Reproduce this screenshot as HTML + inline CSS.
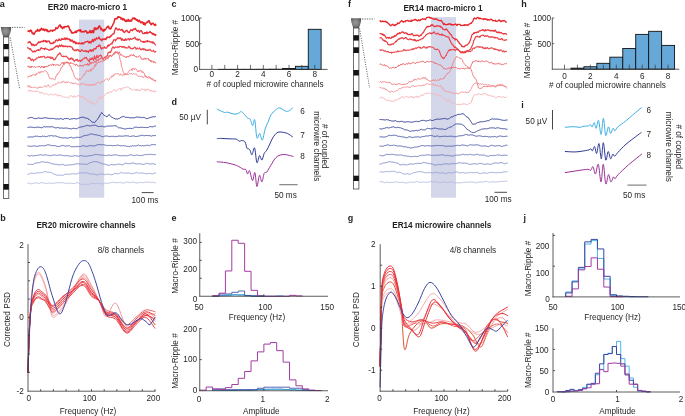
<!DOCTYPE html><html><head><meta charset="utf-8"><style>html,body{margin:0;padding:0;background:#fff;overflow:hidden;}svg{display:block;will-change:transform;font-family:"Liberation Sans", sans-serif;}</style></head><body><svg width="685" height="416" viewBox="0 0 685 416" font-family="Liberation Sans, sans-serif"><g><rect x="0" y="0" width="685" height="416" fill="#ffffff"/><defs><radialGradient id="cg1" cx="0.45" cy="0.45" r="0.6"><stop offset="0" stop-color="#9a9a9a"/><stop offset="0.55" stop-color="#7e7e7e"/><stop offset="1" stop-color="#505050"/></radialGradient></defs><path d="M1.0,27.0 L11.2,27.0 C11.2,32.5 9.100000000000001,35.5 8.8,37.0 L3.4,37.0 C3.1,35.5 1.0,32.5 1.0,27.0 Z" fill="url(#cg1)"/><rect x="3.4" y="37.0" width="5.4" height="161.5" fill="#ffffff" stroke="#4a4a4a" stroke-width="0.8"/><rect x="3.4" y="44" width="5.4" height="5.200000000000003" fill="#151515" stroke="none" stroke-width="0.8"/><rect x="3.4" y="56.5" width="5.4" height="5.5" fill="#151515" stroke="none" stroke-width="0.8"/><rect x="3.4" y="77.8" width="5.4" height="5.900000000000006" fill="#151515" stroke="none" stroke-width="0.8"/><rect x="3.4" y="99.6" width="5.4" height="5.6000000000000085" fill="#151515" stroke="none" stroke-width="0.8"/><rect x="3.4" y="120.4" width="5.4" height="5.5" fill="#151515" stroke="none" stroke-width="0.8"/><rect x="3.4" y="142" width="5.4" height="5.400000000000006" fill="#151515" stroke="none" stroke-width="0.8"/><rect x="3.4" y="163" width="5.4" height="5.599999999999994" fill="#151515" stroke="none" stroke-width="0.8"/><rect x="3.4" y="184" width="5.4" height="5.699999999999989" fill="#151515" stroke="none" stroke-width="0.8"/><line x1="12" y1="27.4" x2="24.5" y2="27.4" stroke="#3a3a3a" stroke-width="0.75" stroke-dasharray="1.3,1.1"/><line x1="10.2" y1="37.5" x2="19.6" y2="88.5" stroke="#3a3a3a" stroke-width="0.75" stroke-dasharray="1.1,1.3"/><defs><radialGradient id="cg2" cx="0.45" cy="0.45" r="0.6"><stop offset="0" stop-color="#9a9a9a"/><stop offset="0.55" stop-color="#7e7e7e"/><stop offset="1" stop-color="#505050"/></radialGradient></defs><path d="M351.0,18.2 L361.2,18.2 C361.2,23.59 359.2,26.5 358.9,28.0 L353.4,28.0 C353.09999999999997,26.5 351.0,23.59 351.0,18.2 Z" fill="url(#cg2)"/><rect x="353.4" y="28.0" width="5.5" height="161.0" fill="#ffffff" stroke="#4a4a4a" stroke-width="0.8"/><rect x="353.4" y="35.2" width="5.5" height="5.399999999999999" fill="#151515" stroke="none" stroke-width="0.8"/><rect x="353.4" y="47.3" width="5.5" height="5.700000000000003" fill="#151515" stroke="none" stroke-width="0.8"/><rect x="353.4" y="70" width="5.5" height="5.5" fill="#151515" stroke="none" stroke-width="0.8"/><rect x="353.4" y="91" width="5.5" height="5.799999999999997" fill="#151515" stroke="none" stroke-width="0.8"/><rect x="353.4" y="111.5" width="5.5" height="5.5" fill="#151515" stroke="none" stroke-width="0.8"/><rect x="353.4" y="133.3" width="5.5" height="5.299999999999983" fill="#151515" stroke="none" stroke-width="0.8"/><rect x="353.4" y="154.5" width="5.5" height="5.099999999999994" fill="#151515" stroke="none" stroke-width="0.8"/><rect x="353.4" y="175.7" width="5.5" height="5.300000000000011" fill="#151515" stroke="none" stroke-width="0.8"/><line x1="362" y1="19" x2="374.5" y2="19" stroke="#3a3a3a" stroke-width="0.75" stroke-dasharray="1.3,1.1"/><line x1="359.6" y1="28.5" x2="369.6" y2="88" stroke="#3a3a3a" stroke-width="0.75" stroke-dasharray="1.1,1.3"/><rect x="79.0" y="19.6" width="25.2" height="178.1" fill="#d4d6ea" stroke="none" stroke-width="0.8"/><polyline points="27.50,91.44 28.00,91.02 28.50,90.68 29.00,90.30 29.50,89.88 30.00,91.53 30.50,91.25 31.00,90.20 31.50,90.85 32.00,91.36 32.50,92.05 33.00,91.06 33.50,91.10 34.00,90.86 34.50,91.56 35.00,92.23 35.50,91.86 36.00,90.58 36.50,90.99 37.00,90.69 37.50,91.12 38.00,92.17 38.50,91.87 39.00,92.18 39.50,92.19 40.00,92.50 40.50,93.36 41.00,92.20 41.50,92.85 42.00,92.65 42.50,92.59 43.00,92.77 43.50,93.91 44.00,94.28 44.50,94.13 45.00,94.43 45.50,94.18 46.00,93.35 46.50,93.22 47.00,94.04 47.50,94.37 48.00,94.83 48.50,95.09 49.00,94.78 49.50,94.92 50.00,94.18 50.50,94.04 51.00,94.33 51.50,93.94 52.00,94.74 52.50,95.25 53.00,94.74 53.50,94.35 54.00,94.30 54.50,94.64 55.00,94.48 55.50,94.25 56.00,94.06 56.50,94.89 57.00,95.13 57.50,95.90 58.00,96.24 58.50,94.47 59.00,95.05 59.50,95.86 60.00,95.61 60.50,95.83 61.00,95.27 61.50,95.63 62.00,96.81 62.50,96.71 63.00,97.14 63.50,97.25 64.00,97.21 64.50,97.05 65.00,97.18 65.50,97.31 66.00,97.63 66.50,96.89 67.00,96.98 67.50,97.19 68.00,97.86 68.50,98.26 69.00,97.50 69.50,96.70 70.00,95.76 70.50,95.71 71.00,95.66 71.50,95.95 72.00,95.81 72.50,96.65 73.00,96.54 73.50,97.72 74.00,96.10 74.50,95.57 75.00,97.02 75.50,97.23 76.00,96.41 76.50,96.35 77.00,95.90 77.50,95.87 78.00,95.51 78.50,94.96 79.00,96.58 79.50,96.62 80.00,96.76 80.50,95.57 81.00,96.69 81.50,95.97 82.00,97.42 82.50,96.45 83.00,97.45 83.50,96.73 84.00,98.38 84.50,98.70 85.00,98.09 85.50,99.47 86.00,99.91 86.50,99.32 87.00,101.05 87.50,101.48 88.00,100.52 88.50,101.74 89.00,101.49 89.50,100.68 90.00,101.37 90.50,101.49 91.00,103.74 91.50,103.88 92.00,102.45 92.50,102.59 93.00,102.66 93.50,103.62 94.00,103.72 94.50,103.74 95.00,104.39 95.50,104.24 96.00,103.37 96.50,102.87 97.00,101.23 97.50,101.01 98.00,99.43 98.50,99.26 99.00,97.02 99.50,97.01 100.00,96.96 100.50,97.40 101.00,97.96 101.50,98.61 102.00,96.60 102.50,96.97 103.00,95.77 103.50,96.28 104.00,95.71 104.50,95.69 105.00,95.37 105.50,94.44 106.00,93.29 106.50,93.85 107.00,93.20 107.50,92.55 108.00,92.05 108.50,93.55 109.00,92.81 109.50,92.08 110.00,92.09 110.50,91.80 111.00,91.37 111.50,92.39 112.00,91.57 112.50,90.70 113.00,90.27 113.50,89.88 114.00,90.23 114.50,90.44 115.00,89.58 115.50,90.27 116.00,91.37 116.50,91.13 117.00,90.50 117.50,89.93 118.00,89.44 118.50,88.83 119.00,88.96 119.50,88.58 120.00,88.36 120.50,88.49 121.00,90.20 121.50,90.23 122.00,88.17 122.50,88.27 123.00,87.61 123.50,87.86 124.00,88.35 124.50,87.63 125.00,87.88 125.50,87.26 126.00,87.69 126.50,86.81 127.00,86.84 127.50,86.92 128.00,86.65 128.50,87.21 129.00,88.16 129.50,87.95 130.00,89.10 130.50,88.14 131.00,89.26 131.50,89.74 132.00,90.11 132.50,89.69 133.00,89.00 133.50,89.87 134.00,90.14 134.50,89.96 135.00,90.51 135.50,89.53 136.00,89.29 136.50,89.51 137.00,90.92 137.50,89.19 138.00,89.35 138.50,90.41 139.00,90.82 139.50,89.94 140.00,89.95 140.50,90.66 141.00,89.36 141.50,88.64 142.00,88.79 142.50,89.71 143.00,89.13 143.50,89.70 144.00,88.92 144.50,90.44 145.00,90.93 145.50,90.78 146.00,89.06 146.50,90.29 147.00,90.22 147.50,88.89 148.00,89.25 148.50,89.05 149.00,89.76 149.50,90.96 150.00,89.97 150.50,91.08 151.00,91.54 151.50,90.09 152.00,90.10 152.50,91.42 153.00,91.81 153.50,90.94 154.00,92.17 154.50,91.96 155.00,90.66 155.50,91.88 156.00,90.87" fill="none" stroke="#f7b7b9" stroke-width="0.95" stroke-linejoin="round"/><polyline points="27.50,85.29 28.00,86.95 28.50,86.94 29.00,85.44 29.50,86.90 30.00,87.34 30.50,86.38 31.00,88.03 31.50,87.15 32.00,87.20 32.50,87.55 33.00,87.59 33.50,87.68 34.00,86.80 34.50,87.27 35.00,86.89 35.50,87.39 36.00,88.13 36.50,87.50 37.00,87.94 37.50,88.82 38.00,87.46 38.50,87.59 39.00,86.68 39.50,87.92 40.00,86.82 40.50,86.84 41.00,87.99 41.50,87.48 42.00,87.50 42.50,87.46 43.00,87.07 43.50,86.76 44.00,86.11 44.50,85.99 45.00,86.11 45.50,86.18 46.00,86.23 46.50,87.21 47.00,85.73 47.50,85.10 48.00,85.13 48.50,84.81 49.00,86.27 49.50,86.93 50.00,86.86 50.50,87.37 51.00,86.63 51.50,86.17 52.00,85.70 52.50,85.85 53.00,84.71 53.50,84.87 54.00,84.45 54.50,84.86 55.00,85.26 55.50,84.78 56.00,83.48 56.50,83.97 57.00,84.04 57.50,83.38 58.00,82.09 58.50,81.79 59.00,82.56 59.50,82.97 60.00,82.50 60.50,82.79 61.00,82.31 61.50,82.61 62.00,81.27 62.50,82.26 63.00,82.27 63.50,81.13 64.00,81.41 64.50,81.82 65.00,83.06 65.50,83.00 66.00,81.78 66.50,82.82 67.00,81.95 67.50,82.86 68.00,81.80 68.50,81.41 69.00,82.04 69.50,82.64 70.00,82.89 70.50,83.29 71.00,82.53 71.50,82.75 72.00,82.29 72.50,84.15 73.00,83.47 73.50,83.07 74.00,82.89 74.50,83.86 75.00,82.84 75.50,82.97 76.00,83.97 76.50,83.77 77.00,84.09 77.50,84.49 78.00,83.63 78.50,84.58 79.00,84.98 79.50,85.18 80.00,84.61 80.50,84.88 81.00,83.26 81.50,83.16 82.00,83.83 82.50,83.91 83.00,84.17 83.50,84.05 84.00,83.54 84.50,84.23 85.00,84.21 85.50,85.18 86.00,84.40 86.50,85.32 87.00,84.93 87.50,84.37 88.00,84.81 88.50,85.87 89.00,85.11 89.50,84.05 90.00,85.17 90.50,84.46 91.00,86.01 91.50,85.10 92.00,84.09 92.50,84.77 93.00,84.12 93.50,85.89 94.00,84.29 94.50,84.31 95.00,84.74 95.50,84.86 96.00,83.44 96.50,83.64 97.00,82.50 97.50,82.34 98.00,82.84 98.50,82.19 99.00,83.02 99.50,82.89 100.00,83.22 100.50,83.71 101.00,82.58 101.50,81.28 102.00,82.00 102.50,80.87 103.00,81.56 103.50,81.37 104.00,80.91 104.50,80.99 105.00,79.51 105.50,79.53 106.00,78.96 106.50,78.73 107.00,78.45 107.50,78.65 108.00,80.05 108.50,80.50 109.00,79.62 109.50,79.45 110.00,77.39 110.50,77.23 111.00,77.50 111.50,77.53 112.00,75.49 112.50,76.86 113.00,76.80 113.50,74.73 114.00,74.73 114.50,75.39 115.00,73.94 115.50,73.05 116.00,73.60 116.50,73.74 117.00,74.14 117.50,73.24 118.00,73.88 118.50,73.50 119.00,75.07 119.50,75.30 120.00,75.45 120.50,73.84 121.00,73.77 121.50,75.19 122.00,74.86 122.50,75.73 123.00,75.54 123.50,74.26 124.00,74.16 124.50,75.26 125.00,74.39 125.50,74.46 126.00,74.94 126.50,73.97 127.00,74.05 127.50,74.95 128.00,74.13 128.50,74.54 129.00,74.44 129.50,73.51 130.00,73.04 130.50,74.13 131.00,74.02 131.50,73.63 132.00,73.61 132.50,74.68 133.00,74.05 133.50,73.42 134.00,74.01 134.50,74.06 135.00,74.22 135.50,73.92 136.00,74.37 136.50,73.73 137.00,75.18 137.50,76.07 138.00,76.06 138.50,76.38 139.00,76.78 139.50,75.92 140.00,75.77 140.50,76.58 141.00,75.87 141.50,76.16 142.00,76.96 142.50,76.00 143.00,77.76 143.50,77.82 144.00,76.84 144.50,76.81 145.00,76.24 145.50,76.51 146.00,76.05 146.50,76.80 147.00,76.89 147.50,77.57 148.00,78.31 148.50,78.83 149.00,77.25 149.50,77.02 150.00,77.90 150.50,78.72 151.00,78.28 151.50,78.44 152.00,79.53 152.50,78.72 153.00,78.51 153.50,79.80 154.00,80.45 154.50,79.87 155.00,81.22 155.50,81.53 156.00,82.20" fill="none" stroke="#f4999c" stroke-width="0.95" stroke-linejoin="round"/><polyline points="27.50,77.18 28.00,77.43 28.50,76.06 29.00,76.74 29.50,75.95 30.00,75.47 30.50,75.73 31.00,76.47 31.50,75.17 32.00,75.80 32.50,75.05 33.00,74.40 33.50,74.73 34.00,74.62 34.50,74.69 35.00,75.43 35.50,75.40 36.00,73.66 36.50,74.55 37.00,73.50 37.50,73.70 38.00,73.20 38.50,72.42 39.00,71.73 39.50,73.04 40.00,73.38 40.50,72.57 41.00,71.22 41.50,72.18 42.00,71.90 42.50,71.81 43.00,71.82 43.50,71.74 44.00,71.26 44.50,70.55 45.00,70.80 45.50,70.81 46.00,71.44 46.50,71.57 47.00,72.51 47.50,72.73 48.00,73.81 48.50,75.74 49.00,76.71 49.50,78.10 50.00,78.62 50.50,78.10 51.00,78.95 51.50,78.95 52.00,78.87 52.50,78.51 53.00,78.41 53.50,79.13 54.00,79.78 54.50,79.84 55.00,79.67 55.50,78.29 56.00,76.20 56.50,75.43 57.00,74.22 57.50,74.92 58.00,73.21 58.50,73.14 59.00,71.95 59.50,71.40 60.00,71.16 60.50,69.96 61.00,67.78 61.50,67.80 62.00,66.51 62.50,66.95 63.00,65.04 63.50,64.24 64.00,65.08 64.50,63.74 65.00,62.44 65.50,63.31 66.00,63.37 66.50,62.34 67.00,61.52 67.50,63.05 68.00,62.65 68.50,62.98 69.00,63.26 69.50,65.68 70.00,65.37 70.50,65.75 71.00,67.03 71.50,68.73 72.00,70.57 72.50,70.35 73.00,72.34 73.50,73.13 74.00,75.58 74.50,76.17 75.00,77.46 75.50,78.61 76.00,78.66 76.50,78.93 77.00,78.35 77.50,78.81 78.00,80.07 78.50,80.39 79.00,79.95 79.50,78.57 80.00,79.43 80.50,79.37 81.00,78.96 81.50,78.30 82.00,77.68 82.50,76.62 83.00,76.13 83.50,75.25 84.00,75.48 84.50,74.21 85.00,74.24 85.50,72.35 86.00,71.50 86.50,70.66 87.00,70.58 87.50,71.05 88.00,71.13 88.50,71.88 89.00,70.33 89.50,70.53 90.00,69.55 90.50,69.46 91.00,71.40 91.50,70.52 92.00,68.11 92.50,68.41 93.00,68.62 93.50,68.90 94.00,67.37 94.50,65.53 95.00,64.37 95.50,66.46 96.00,65.08 96.50,63.65 97.00,62.28 97.50,63.47 98.00,62.86 98.50,61.87 99.00,61.23 99.50,62.40 100.00,62.31 100.50,62.18 101.00,60.67 101.50,61.16 102.00,61.80 102.50,61.85 103.00,61.10 103.50,59.92 104.00,59.90 104.50,60.51 105.00,59.90 105.50,58.71 106.00,57.55 106.50,57.56 107.00,57.26 107.50,56.80 108.00,57.35 108.50,56.66 109.00,55.42 109.50,56.38 110.00,56.39 110.50,55.14 111.00,55.73 111.50,56.63 112.00,55.90 112.50,55.54 113.00,54.67 113.50,53.92 114.00,54.40 114.50,52.53 115.00,52.23 115.50,51.22 116.00,51.88 116.50,52.38 117.00,52.69 117.50,53.67 118.00,52.97 118.50,53.58 119.00,55.03 119.50,56.50 120.00,59.44 120.50,60.22 121.00,62.81 121.50,66.27 122.00,67.51 122.50,69.53 123.00,71.21 123.50,72.37 124.00,73.30 124.50,74.90 125.00,73.55 125.50,73.40 126.00,74.80 126.50,74.68 127.00,73.78 127.50,73.35 128.00,72.75 128.50,71.64 129.00,71.26 129.50,70.55 130.00,70.55 130.50,69.79 131.00,70.04 131.50,68.86 132.00,70.50 132.50,68.61 133.00,69.08 133.50,68.78 134.00,68.10 134.50,69.69 135.00,68.98 135.50,68.60 136.00,69.18 136.50,69.35 137.00,70.42 137.50,71.73 138.00,71.96 138.50,70.53 139.00,71.28 139.50,71.09 140.00,71.47 140.50,70.40 141.00,70.24 141.50,70.67 142.00,72.66 142.50,71.56 143.00,71.74 143.50,73.04 144.00,72.92 144.50,73.71 145.00,76.05 145.50,75.45 146.00,77.07 146.50,77.85 147.00,77.34 147.50,77.21 148.00,76.54 148.50,76.50 149.00,76.91 149.50,77.20 150.00,77.49 150.50,77.60 151.00,79.14 151.50,78.90 152.00,79.02 152.50,79.44 153.00,80.38 153.50,80.14 154.00,80.50 154.50,80.88 155.00,80.14 155.50,80.93 156.00,79.86" fill="none" stroke="#f28286" stroke-width="0.95" stroke-linejoin="round"/><polyline points="27.50,66.89 28.00,65.93 28.50,66.13 29.00,67.15 29.50,67.71 30.00,66.33 30.50,66.46 31.00,67.88 31.50,66.34 32.00,67.01 32.50,66.29 33.00,66.77 33.50,67.34 34.00,66.98 34.50,66.70 35.00,66.65 35.50,67.31 36.00,67.42 36.50,66.92 37.00,66.89 37.50,67.00 38.00,66.46 38.50,66.28 39.00,67.13 39.50,66.34 40.00,67.21 40.50,67.66 41.00,67.63 41.50,66.31 42.00,66.35 42.50,67.39 43.00,66.47 43.50,67.78 44.00,66.48 44.50,67.63 45.00,66.09 45.50,66.93 46.00,67.05 46.50,66.24 47.00,66.05 47.50,66.47 48.00,66.68 48.50,65.12 49.00,65.68 49.50,64.84 50.00,65.39 50.50,64.89 51.00,64.68 51.50,65.42 52.00,64.30 52.50,64.21 53.00,63.89 53.50,65.52 54.00,64.63 54.50,64.13 55.00,65.12 55.50,65.36 56.00,65.10 56.50,64.81 57.00,64.72 57.50,65.13 58.00,64.43 58.50,65.46 59.00,65.26 59.50,65.40 60.00,65.21 60.50,64.73 61.00,63.67 61.50,63.25 62.00,63.47 62.50,63.17 63.00,62.07 63.50,63.80 64.00,62.65 64.50,63.01 65.00,62.87 65.50,61.93 66.00,62.59 66.50,62.58 67.00,62.98 67.50,62.68 68.00,62.13 68.50,62.72 69.00,63.73 69.50,63.32 70.00,63.75 70.50,62.19 71.00,63.48 71.50,62.91 72.00,63.01 72.50,63.70 73.00,63.80 73.50,63.86 74.00,64.25 74.50,64.39 75.00,64.42 75.50,65.53 76.00,64.29 76.50,64.49 77.00,64.47 77.50,65.68 78.00,65.57 78.50,66.33 79.00,65.88 79.50,65.63 80.00,65.99 80.50,64.97 81.00,66.28 81.50,65.70 82.00,65.23 82.50,65.48 83.00,66.32 83.50,65.48 84.00,65.04 84.50,64.45 85.00,64.51 85.50,65.16 86.00,64.83 86.50,64.16 87.00,65.30 87.50,63.54 88.00,63.69 88.50,65.07 89.00,65.61 89.50,63.81 90.00,61.87 90.50,63.29 91.00,64.15 91.50,63.05 92.00,62.25 92.50,63.04 93.00,62.57 93.50,63.16 94.00,61.85 94.50,61.61 95.00,61.00 95.50,62.67 96.00,62.51 96.50,59.73 97.00,59.64 97.50,59.55 98.00,61.10 98.50,59.84 99.00,58.54 99.50,59.20 100.00,59.55 100.50,58.02 101.00,57.86 101.50,58.51 102.00,58.81 102.50,59.31 103.00,59.48 103.50,60.66 104.00,60.20 104.50,60.69 105.00,60.06 105.50,59.15 106.00,59.59 106.50,58.63 107.00,59.02 107.50,57.72 108.00,58.56 108.50,56.78 109.00,57.14 109.50,55.41 110.00,54.95 110.50,54.92 111.00,56.08 111.50,56.25 112.00,56.04 112.50,55.49 113.00,54.24 113.50,53.85 114.00,52.93 114.50,54.21 115.00,52.42 115.50,53.13 116.00,51.66 116.50,51.98 117.00,52.69 117.50,51.97 118.00,51.66 118.50,53.38 119.00,52.54 119.50,52.11 120.00,53.85 120.50,55.18 121.00,54.98 121.50,54.38 122.00,55.43 122.50,56.20 123.00,55.65 123.50,55.92 124.00,56.59 124.50,56.51 125.00,56.91 125.50,57.34 126.00,56.69 126.50,57.67 127.00,56.11 127.50,56.61 128.00,56.83 128.50,57.13 129.00,55.99 129.50,55.55 130.00,56.30 130.50,55.51 131.00,54.54 131.50,55.20 132.00,54.90 132.50,55.57 133.00,55.92 133.50,54.36 134.00,54.71 134.50,56.08 135.00,56.31 135.50,56.53 136.00,55.98 136.50,57.20 137.00,57.24 137.50,57.18 138.00,56.59 138.50,56.74 139.00,55.86 139.50,55.78 140.00,56.09 140.50,56.61 141.00,57.98 141.50,59.32 142.00,58.89 142.50,59.26 143.00,59.17 143.50,59.46 144.00,58.09 144.50,58.35 145.00,59.34 145.50,58.41 146.00,59.18 146.50,58.85 147.00,58.39 147.50,58.52 148.00,58.98 148.50,58.55 149.00,60.48 149.50,60.01 150.00,60.05 150.50,61.51 151.00,60.35 151.50,61.87 152.00,61.54 152.50,60.80 153.00,61.40 153.50,62.84 154.00,61.37 154.50,61.94 155.00,62.11 155.50,63.20 156.00,62.64" fill="none" stroke="#ef666b" stroke-width="1.0" stroke-linejoin="round"/><polyline points="27.50,58.35 28.00,58.38 28.50,57.42 29.00,57.22 29.50,58.55 30.00,58.08 30.50,58.81 31.00,60.18 31.50,60.53 32.00,59.22 32.50,59.13 33.00,59.60 33.50,61.09 34.00,59.81 34.50,60.03 35.00,59.61 35.50,59.19 36.00,59.39 36.50,58.13 37.00,57.83 37.50,57.99 38.00,57.69 38.50,56.87 39.00,57.46 39.50,57.14 40.00,57.64 40.50,56.50 41.00,56.46 41.50,56.74 42.00,57.42 42.50,56.83 43.00,56.52 43.50,56.17 44.00,56.35 44.50,56.38 45.00,58.02 45.50,58.05 46.00,58.04 46.50,57.27 47.00,57.54 47.50,56.84 48.00,57.26 48.50,56.81 49.00,57.44 49.50,57.28 50.00,56.94 50.50,58.51 51.00,57.02 51.50,58.26 52.00,58.32 52.50,57.28 53.00,58.19 53.50,59.62 54.00,59.99 54.50,59.24 55.00,59.47 55.50,59.04 56.00,57.50 56.50,57.02 57.00,56.25 57.50,55.02 58.00,55.14 58.50,54.02 59.00,54.28 59.50,52.90 60.00,53.63 60.50,53.25 61.00,54.86 61.50,56.08 62.00,56.08 62.50,56.49 63.00,56.82 63.50,56.09 64.00,56.30 64.50,56.65 65.00,56.73 65.50,56.13 66.00,56.32 66.50,56.28 67.00,57.10 67.50,57.92 68.00,57.78 68.50,58.82 69.00,59.49 69.50,58.94 70.00,59.59 70.50,58.13 71.00,59.10 71.50,57.85 72.00,58.29 72.50,59.64 73.00,58.64 73.50,60.00 74.00,60.94 74.50,61.28 75.00,60.72 75.50,59.84 76.00,59.65 76.50,60.29 77.00,59.38 77.50,59.36 78.00,61.29 78.50,61.20 79.00,60.29 79.50,60.68 80.00,60.38 80.50,61.41 81.00,60.20 81.50,60.73 82.00,60.63 82.50,59.49 83.00,58.86 83.50,58.93 84.00,58.29 84.50,58.22 85.00,57.43 85.50,58.19 86.00,57.67 86.50,57.43 87.00,59.10 87.50,59.71 88.00,59.79 88.50,60.43 89.00,61.55 89.50,61.06 90.00,58.35 90.50,59.42 91.00,59.43 91.50,59.52 92.00,57.92 92.50,57.85 93.00,59.37 93.50,60.36 94.00,57.98 94.50,55.93 95.00,58.21 95.50,59.26 96.00,58.68 96.50,56.37 97.00,55.38 97.50,57.56 98.00,57.19 98.50,56.89 99.00,55.81 99.50,55.57 100.00,55.99 100.50,55.10 101.00,55.28 101.50,56.27 102.00,57.68 102.50,58.43 103.00,58.77 103.50,58.53 104.00,58.16 104.50,57.22 105.00,57.61 105.50,57.15 106.00,56.29 106.50,56.08 107.00,56.02 107.50,55.37 108.00,52.99 108.50,52.46 109.00,52.59 109.50,52.48 110.00,51.57 110.50,52.52 111.00,51.04 111.50,50.56 112.00,48.15 112.50,47.58 113.00,46.68 113.50,47.99 114.00,47.48 114.50,48.19 115.00,47.59 115.50,47.02 116.00,47.14 116.50,47.33 117.00,47.04 117.50,46.74 118.00,47.61 118.50,46.81 119.00,46.74 119.50,47.09 120.00,46.21 120.50,46.49 121.00,46.45 121.50,46.62 122.00,47.49 122.50,46.52 123.00,46.98 123.50,46.40 124.00,47.40 124.50,46.78 125.00,48.09 125.50,47.38 126.00,47.74 126.50,47.58 127.00,48.15 127.50,47.93 128.00,47.68 128.50,46.32 129.00,46.32 129.50,47.64 130.00,47.29 130.50,48.59 131.00,48.28 131.50,48.73 132.00,48.65 132.50,48.99 133.00,48.28 133.50,48.63 134.00,47.61 134.50,47.23 135.00,47.06 135.50,47.60 136.00,49.28 136.50,49.28 137.00,48.14 137.50,47.96 138.00,48.76 138.50,48.98 139.00,48.59 139.50,47.84 140.00,48.26 140.50,49.66 141.00,49.63 141.50,49.84 142.00,48.74 142.50,49.35 143.00,48.46 143.50,48.58 144.00,50.05 144.50,48.95 145.00,49.17 145.50,49.24 146.00,50.69 146.50,50.52 147.00,50.19 147.50,50.51 148.00,49.63 148.50,50.36 149.00,50.24 149.50,49.41 150.00,49.37 150.50,50.20 151.00,50.34 151.50,51.18 152.00,51.08 152.50,51.25 153.00,51.00 153.50,50.33 154.00,51.33 154.50,52.14 155.00,51.74 155.50,51.98 156.00,51.09" fill="none" stroke="#ec4a51" stroke-width="1.15" stroke-linejoin="round"/><polyline points="27.50,47.05 28.00,48.15 28.50,48.35 29.00,48.25 29.50,49.05 30.00,49.39 30.50,48.68 31.00,49.86 31.50,50.53 32.00,50.76 32.50,51.86 33.00,52.03 33.50,51.51 34.00,51.16 34.50,50.80 35.00,51.93 35.50,51.58 36.00,51.10 36.50,50.49 37.00,50.40 37.50,49.79 38.00,50.33 38.50,49.58 39.00,50.31 39.50,50.20 40.00,49.92 40.50,48.63 41.00,47.78 41.50,47.90 42.00,48.54 42.50,48.31 43.00,48.89 43.50,48.49 44.00,48.48 44.50,49.59 45.00,48.27 45.50,48.16 46.00,48.94 46.50,49.23 47.00,49.00 47.50,49.38 48.00,49.34 48.50,49.87 49.00,50.39 49.50,50.24 50.00,49.72 50.50,49.15 51.00,49.91 51.50,48.90 52.00,49.04 52.50,49.47 53.00,48.99 53.50,48.04 54.00,48.22 54.50,47.47 55.00,47.51 55.50,46.50 56.00,45.90 56.50,46.62 57.00,45.92 57.50,45.72 58.00,46.93 58.50,47.18 59.00,45.59 59.50,45.02 60.00,46.36 60.50,46.45 61.00,45.35 61.50,44.91 62.00,45.77 62.50,46.57 63.00,45.48 63.50,46.08 64.00,46.82 64.50,46.13 65.00,46.42 65.50,45.90 66.00,46.60 66.50,46.36 67.00,46.20 67.50,46.94 68.00,46.60 68.50,46.40 69.00,46.26 69.50,46.57 70.00,46.24 70.50,47.03 71.00,46.76 71.50,46.83 72.00,47.30 72.50,48.18 73.00,49.72 73.50,49.19 74.00,49.82 74.50,50.63 75.00,50.70 75.50,49.89 76.00,50.57 76.50,50.37 77.00,49.64 77.50,49.38 78.00,49.57 78.50,50.87 79.00,50.22 79.50,51.01 80.00,51.41 80.50,51.44 81.00,50.66 81.50,49.75 82.00,50.26 82.50,50.24 83.00,51.03 83.50,51.10 84.00,51.40 84.50,50.89 85.00,51.33 85.50,50.86 86.00,50.67 86.50,51.74 87.00,50.92 87.50,51.57 88.00,51.56 88.50,52.34 89.00,50.88 89.50,50.01 90.00,50.73 90.50,49.83 91.00,51.26 91.50,51.32 92.00,49.67 92.50,49.91 93.00,51.11 93.50,50.36 94.00,48.52 94.50,48.69 95.00,48.43 95.50,49.15 96.00,48.62 96.50,46.68 97.00,46.68 97.50,46.26 98.00,46.64 98.50,46.48 99.00,44.86 99.50,45.96 100.00,45.21 100.50,47.20 101.00,48.13 101.50,49.22 102.00,47.64 102.50,48.25 103.00,48.21 103.50,47.99 104.00,47.44 104.50,46.81 105.00,48.01 105.50,48.18 106.00,47.82 106.50,48.17 107.00,47.14 107.50,45.66 108.00,46.28 108.50,44.79 109.00,45.61 109.50,45.38 110.00,44.46 110.50,44.17 111.00,43.67 111.50,43.30 112.00,44.18 112.50,41.99 113.00,42.21 113.50,40.07 114.00,39.74 114.50,39.81 115.00,39.71 115.50,41.04 116.00,39.63 116.50,39.60 117.00,38.60 117.50,37.84 118.00,38.64 118.50,37.90 119.00,38.06 119.50,38.61 120.00,37.68 120.50,37.74 121.00,39.28 121.50,40.31 122.00,38.55 122.50,39.18 123.00,40.34 123.50,40.17 124.00,40.48 124.50,39.64 125.00,40.49 125.50,38.79 126.00,39.37 126.50,40.13 127.00,39.16 127.50,38.96 128.00,38.82 128.50,38.61 129.00,39.48 129.50,40.00 130.00,38.63 130.50,38.60 131.00,39.46 131.50,39.25 132.00,39.07 132.50,38.49 133.00,38.67 133.50,38.48 134.00,38.07 134.50,37.46 135.00,37.16 135.50,38.92 136.00,39.42 136.50,39.77 137.00,38.73 137.50,39.73 138.00,40.48 138.50,39.35 139.00,39.05 139.50,39.52 140.00,39.79 140.50,40.83 141.00,41.33 141.50,41.44 142.00,41.25 142.50,41.90 143.00,42.14 143.50,41.30 144.00,42.38 144.50,42.31 145.00,41.40 145.50,41.92 146.00,41.05 146.50,41.25 147.00,41.99 147.50,40.42 148.00,41.33 148.50,41.45 149.00,41.40 149.50,41.19 150.00,42.25 150.50,42.10 151.00,41.62 151.50,42.15 152.00,42.80 152.50,41.74 153.00,43.19 153.50,42.22 154.00,43.16 154.50,43.37 155.00,44.61 155.50,44.97 156.00,44.68" fill="none" stroke="#ea3c44" stroke-width="1.2" stroke-linejoin="round"/><polyline points="27.50,42.85 28.00,42.94 28.50,42.05 29.00,42.39 29.50,41.70 30.00,41.91 30.50,42.50 31.00,43.90 31.50,43.62 32.00,45.56 32.50,44.33 33.00,44.57 33.50,44.47 34.00,45.82 34.50,45.15 35.00,45.22 35.50,44.85 36.00,45.30 36.50,44.66 37.00,43.81 37.50,43.66 38.00,42.85 38.50,41.81 39.00,42.66 39.50,42.19 40.00,41.95 40.50,42.34 41.00,41.45 41.50,41.35 42.00,41.45 42.50,41.36 43.00,41.76 43.50,40.33 44.00,40.96 44.50,41.21 45.00,40.98 45.50,40.48 46.00,42.01 46.50,41.00 47.00,42.08 47.50,41.41 48.00,41.01 48.50,41.23 49.00,41.13 49.50,41.51 50.00,42.94 50.50,43.53 51.00,43.09 51.50,43.69 52.00,43.35 52.50,43.13 53.00,43.58 53.50,42.19 54.00,42.85 54.50,42.38 55.00,42.13 55.50,40.54 56.00,40.25 56.50,39.82 57.00,40.07 57.50,41.01 58.00,40.77 58.50,40.49 59.00,38.87 59.50,39.79 60.00,40.11 60.50,40.26 61.00,40.24 61.50,38.81 62.00,38.50 62.50,39.48 63.00,39.29 63.50,39.41 64.00,38.43 64.50,39.19 65.00,37.82 65.50,39.37 66.00,39.55 66.50,38.55 67.00,37.94 67.50,38.94 68.00,39.55 68.50,39.18 69.00,38.81 69.50,39.47 70.00,40.87 70.50,39.72 71.00,41.42 71.50,40.38 72.00,40.23 72.50,40.14 73.00,42.09 73.50,42.49 74.00,41.68 74.50,41.42 75.00,42.75 75.50,43.59 76.00,42.06 76.50,43.15 77.00,43.77 77.50,43.05 78.00,43.20 78.50,43.79 79.00,42.84 79.50,42.89 80.00,43.77 80.50,43.69 81.00,43.58 81.50,43.03 82.00,44.05 82.50,42.79 83.00,43.36 83.50,43.91 84.00,43.04 84.50,42.24 85.00,42.40 85.50,41.96 86.00,41.81 86.50,41.55 87.00,41.65 87.50,41.18 88.00,41.23 88.50,42.38 89.00,42.98 89.50,42.52 90.00,41.32 90.50,42.41 91.00,43.14 91.50,41.65 92.00,40.61 92.50,39.49 93.00,41.04 93.50,41.82 94.00,39.77 94.50,38.82 95.00,39.39 95.50,40.28 96.00,39.43 96.50,37.75 97.00,38.70 97.50,38.81 98.00,38.47 98.50,38.28 99.00,36.95 99.50,38.07 100.00,39.44 100.50,39.63 101.00,39.27 101.50,40.50 102.00,40.59 102.50,38.79 103.00,39.21 103.50,39.33 104.00,38.95 104.50,39.55 105.00,38.63 105.50,39.56 106.00,39.57 106.50,37.50 107.00,38.04 107.50,36.88 108.00,37.20 108.50,37.18 109.00,37.67 109.50,37.34 110.00,36.34 110.50,36.83 111.00,35.31 111.50,35.76 112.00,34.81 112.50,34.12 113.00,33.97 113.50,33.61 114.00,33.79 114.50,31.09 115.00,29.65 115.50,28.38 116.00,27.79 116.50,28.91 117.00,28.92 117.50,29.33 118.00,30.18 118.50,29.66 119.00,28.91 119.50,29.12 120.00,29.69 120.50,30.01 121.00,30.40 121.50,29.69 122.00,29.22 122.50,30.25 123.00,31.51 123.50,30.86 124.00,32.26 124.50,32.55 125.00,31.90 125.50,31.51 126.00,30.64 126.50,30.43 127.00,30.26 127.50,31.46 128.00,31.91 128.50,32.57 129.00,31.84 129.50,32.44 130.00,31.21 130.50,30.30 131.00,29.74 131.50,29.84 132.00,30.09 132.50,30.83 133.00,29.35 133.50,28.84 134.00,29.63 134.50,28.95 135.00,29.10 135.50,28.28 136.00,29.72 136.50,30.35 137.00,30.52 137.50,31.38 138.00,30.72 138.50,30.34 139.00,31.02 139.50,32.35 140.00,31.57 140.50,30.82 141.00,30.65 141.50,30.83 142.00,31.69 142.50,33.13 143.00,33.56 143.50,33.58 144.00,33.69 144.50,32.58 145.00,33.57 145.50,32.54 146.00,32.99 146.50,32.06 147.00,33.67 147.50,32.29 148.00,32.88 148.50,32.88 149.00,32.55 149.50,32.31 150.00,31.45 150.50,32.17 151.00,32.78 151.50,32.61 152.00,33.82 152.50,34.25 153.00,33.15 153.50,34.58 154.00,33.81 154.50,34.96 155.00,34.58 155.50,35.53 156.00,34.03" fill="none" stroke="#e8313a" stroke-width="1.3" stroke-linejoin="round"/><polyline points="27.50,30.96 28.00,31.00 28.50,31.24 29.00,30.85 29.50,31.63 30.00,31.16 30.50,30.15 31.00,30.94 31.50,30.56 32.00,32.79 32.50,33.70 33.00,33.09 33.50,33.30 34.00,34.39 34.50,33.20 35.00,32.45 35.50,31.64 36.00,31.06 36.50,30.86 37.00,31.05 37.50,29.37 38.00,30.76 38.50,30.35 39.00,31.10 39.50,31.03 40.00,29.55 40.50,30.13 41.00,28.93 41.50,28.35 42.00,28.99 42.50,29.87 43.00,29.64 43.50,28.93 44.00,30.21 44.50,30.59 45.00,29.27 45.50,29.54 46.00,30.06 46.50,30.85 47.00,29.62 47.50,30.57 48.00,31.79 48.50,31.38 49.00,31.56 49.50,31.62 50.00,30.93 50.50,30.25 51.00,30.69 51.50,30.61 52.00,30.24 52.50,31.22 53.00,30.29 53.50,30.21 54.00,30.44 54.50,30.15 55.00,29.79 55.50,28.82 56.00,27.54 56.50,28.42 57.00,28.70 57.50,28.22 58.00,27.77 58.50,26.56 59.00,25.83 59.50,25.71 60.00,24.90 60.50,26.15 61.00,27.19 61.50,26.48 62.00,28.09 62.50,28.59 63.00,27.55 63.50,27.11 64.00,27.85 64.50,26.81 65.00,26.44 65.50,26.71 66.00,26.64 66.50,26.80 67.00,26.55 67.50,26.20 68.00,25.78 68.50,26.42 69.00,27.29 69.50,28.81 70.00,30.18 70.50,30.08 71.00,31.10 71.50,32.87 72.00,32.29 72.50,32.94 73.00,32.89 73.50,32.92 74.00,32.42 74.50,32.31 75.00,32.44 75.50,31.22 76.00,32.25 76.50,32.50 77.00,30.80 77.50,30.76 78.00,30.70 78.50,30.18 79.00,30.00 79.50,30.87 80.00,29.91 80.50,29.77 81.00,31.78 81.50,31.28 82.00,31.77 82.50,31.90 83.00,31.72 83.50,31.87 84.00,31.24 84.50,31.79 85.00,31.11 85.50,30.80 86.00,30.99 86.50,31.73 87.00,33.02 87.50,32.28 88.00,32.98 88.50,32.45 89.00,32.21 89.50,32.24 90.00,30.52 90.50,32.61 91.00,32.73 91.50,32.20 92.00,30.88 92.50,30.45 93.00,32.45 93.50,32.83 94.00,30.33 94.50,27.90 95.00,27.72 95.50,29.13 96.00,29.57 96.50,28.96 97.00,28.16 97.50,28.83 98.00,28.78 98.50,26.77 99.00,26.22 99.50,25.75 100.00,27.29 100.50,27.65 101.00,29.86 101.50,28.45 102.00,29.82 102.50,29.82 103.00,30.96 103.50,29.86 104.00,31.15 104.50,29.30 105.00,30.16 105.50,29.76 106.00,28.80 106.50,27.46 107.00,27.22 107.50,26.98 108.00,26.31 108.50,26.35 109.00,28.38 109.50,28.73 110.00,28.51 110.50,29.04 111.00,28.57 111.50,26.64 112.00,26.35 112.50,25.57 113.00,24.14 113.50,23.38 114.00,22.52 114.50,20.21 115.00,18.79 115.50,18.99 116.00,18.71 116.50,18.69 117.00,18.79 117.50,17.17 118.00,16.76 118.50,17.47 119.00,16.78 119.50,17.12 120.00,17.32 120.50,17.57 121.00,18.92 121.50,18.15 122.00,18.99 122.50,19.91 123.00,18.44 123.50,19.64 124.00,19.74 124.50,19.24 125.00,21.10 125.50,21.22 126.00,20.66 126.50,21.61 127.00,20.02 127.50,21.07 128.00,21.06 128.50,19.48 129.00,20.88 129.50,20.90 130.00,21.30 130.50,20.18 131.00,20.99 131.50,21.05 132.00,19.81 132.50,18.51 133.00,17.84 133.50,18.48 134.00,18.63 134.50,17.98 135.00,19.25 135.50,18.66 136.00,19.81 136.50,20.34 137.00,19.98 137.50,19.69 138.00,21.38 138.50,21.56 139.00,21.22 139.50,20.27 140.00,21.41 140.50,22.72 141.00,22.72 141.50,22.73 142.00,21.58 142.50,22.71 143.00,22.44 143.50,24.27 144.00,22.89 144.50,23.40 145.00,24.97 145.50,23.50 146.00,23.11 146.50,22.32 147.00,22.63 147.50,21.76 148.00,21.95 148.50,20.63 149.00,20.62 149.50,21.69 150.00,23.28 150.50,23.70 151.00,24.73 151.50,24.56 152.00,23.19 152.50,23.41 153.00,23.31 153.50,23.63 154.00,24.75 154.50,24.71 155.00,25.51 155.50,24.17 156.00,25.72" fill="none" stroke="#e6252b" stroke-width="1.5" stroke-linejoin="round"/><polyline points="27.50,183.40 28.00,183.15 28.50,183.03 29.00,183.28 29.50,183.31 30.00,183.57 30.50,183.84 31.00,183.62 31.50,183.68 32.00,183.59 32.50,183.57 33.00,183.79 33.50,183.45 34.00,183.29 34.50,183.04 35.00,182.85 35.50,182.71 36.00,182.62 36.50,182.98 37.00,183.14 37.50,183.08 38.00,183.28 38.50,183.46 39.00,183.20 39.50,183.22 40.00,182.90 40.50,182.77 41.00,182.68 41.50,182.65 42.00,182.72 42.50,182.66 43.00,182.68 43.50,182.98 44.00,183.00 44.50,183.26 45.00,183.48 45.50,183.71 46.00,183.49 46.50,183.37 47.00,183.52 47.50,183.31 48.00,183.26 48.50,183.10 49.00,183.31 49.50,183.21 50.00,183.03 50.50,183.34 51.00,183.09 51.50,183.13 52.00,183.36 52.50,183.30 53.00,183.46 53.50,183.56 54.00,183.30 54.50,183.06 55.00,183.09 55.50,182.89 56.00,182.77 56.50,182.65 57.00,182.74 57.50,182.87 58.00,182.60 58.50,182.58 59.00,182.54 59.50,182.65 60.00,182.74 60.50,182.81 61.00,182.82 61.50,182.87 62.00,182.91 62.50,182.60 63.00,182.55 63.50,182.90 64.00,183.23 64.50,183.02 65.00,183.11 65.50,183.37 66.00,183.50 66.50,183.44 67.00,183.76 67.50,183.74 68.00,183.58 68.50,183.39 69.00,183.13 69.50,183.01 70.00,183.30 70.50,183.44 71.00,183.22 71.50,183.27 72.00,183.07 72.50,183.46 73.00,183.32 73.50,183.51 74.00,183.67 74.50,183.53 75.00,183.62 75.50,183.25 76.00,182.95 76.50,182.75 77.00,182.68 77.50,182.77 78.00,182.98 78.50,183.04 79.00,183.13 79.50,183.30 80.00,183.85 80.50,184.18 81.00,184.41 81.50,184.47 82.00,184.45 82.50,184.16 83.00,184.19 83.50,184.13 84.00,183.91 84.50,184.20 85.00,184.25 85.50,184.23 86.00,184.08 86.50,184.35 87.00,184.56 87.50,184.54 88.00,184.42 88.50,184.57 89.00,184.28 89.50,184.28 90.00,184.01 90.50,183.57 91.00,183.44 91.50,183.70 92.00,183.48 92.50,183.32 93.00,183.56 93.50,183.61 94.00,183.68 94.50,183.65 95.00,183.51 95.50,183.54 96.00,183.38 96.50,183.27 97.00,183.12 97.50,183.10 98.00,183.04 98.50,183.36 99.00,183.51 99.50,183.38 100.00,183.67 100.50,183.89 101.00,184.14 101.50,183.90 102.00,183.76 102.50,183.69 103.00,183.81 103.50,183.72 104.00,183.72 104.50,183.35 105.00,183.00 105.50,183.14 106.00,183.07 106.50,183.21 107.00,183.34 107.50,183.22 108.00,183.33 108.50,183.43 109.00,183.27 109.50,183.00 110.00,182.93 110.50,182.78 111.00,182.67 111.50,182.50 112.00,182.17 112.50,182.19 113.00,182.20 113.50,182.48 114.00,182.45 114.50,182.46 115.00,182.49 115.50,182.46 116.00,182.76 116.50,182.86 117.00,182.80 117.50,182.76 118.00,182.38 118.50,182.36 119.00,182.46 119.50,182.50 120.00,182.56 120.50,182.55 121.00,182.71 121.50,182.84 122.00,182.76 122.50,182.90 123.00,182.96 123.50,183.09 124.00,182.76 124.50,182.73 125.00,182.73 125.50,182.27 126.00,182.38 126.50,182.01 127.00,181.84 127.50,182.03 128.00,182.10 128.50,182.29 129.00,182.59 129.50,182.66 130.00,182.77 130.50,182.50 131.00,182.45 131.50,182.24 132.00,182.17 132.50,181.91 133.00,181.91 133.50,182.31 134.00,182.48 134.50,182.62 135.00,182.43 135.50,182.70 136.00,182.81 136.50,183.03 137.00,183.18 137.50,182.84 138.00,182.87 138.50,182.79 139.00,182.84 139.50,182.50 140.00,182.67 140.50,182.55 141.00,182.69 141.50,182.45 142.00,182.35 142.50,182.47 143.00,182.70 143.50,182.69 144.00,182.63 144.50,182.45 145.00,182.25 145.50,182.10 146.00,181.85 146.50,182.08 147.00,181.99 147.50,182.22 148.00,182.00 148.50,181.97 149.00,182.30 149.50,182.53 150.00,182.75 150.50,182.49 151.00,182.45 151.50,182.38 152.00,182.52 152.50,182.44 153.00,182.25 153.50,182.09 154.00,182.24 154.50,182.59 155.00,182.87 155.50,182.93 156.00,183.09" fill="none" stroke="#b3b9df" stroke-width="0.9" stroke-linejoin="round"/><polyline points="27.50,174.28 28.00,174.32 28.50,174.28 29.00,174.21 29.50,173.68 30.00,173.39 30.50,173.32 31.00,173.33 31.50,173.11 32.00,173.30 32.50,173.21 33.00,173.40 33.50,173.50 34.00,173.39 34.50,173.36 35.00,173.42 35.50,173.32 36.00,173.06 36.50,173.17 37.00,172.86 37.50,172.65 38.00,172.42 38.50,172.74 39.00,172.80 39.50,172.84 40.00,172.81 40.50,172.64 41.00,172.45 41.50,172.58 42.00,172.70 42.50,172.75 43.00,172.23 43.50,171.86 44.00,171.60 44.50,171.47 45.00,171.69 45.50,171.78 46.00,171.94 46.50,171.88 47.00,171.82 47.50,172.22 48.00,172.53 48.50,172.30 49.00,172.17 49.50,172.15 50.00,172.26 50.50,172.52 51.00,172.71 51.50,172.66 52.00,172.72 52.50,173.07 53.00,173.63 53.50,174.08 54.00,174.00 54.50,174.13 55.00,174.26 55.50,174.65 56.00,174.83 56.50,175.08 57.00,174.98 57.50,175.18 58.00,175.22 58.50,175.00 59.00,175.23 59.50,175.21 60.00,174.93 60.50,175.20 61.00,175.32 61.50,175.42 62.00,175.38 62.50,175.22 63.00,175.23 63.50,175.09 64.00,174.62 64.50,174.48 65.00,174.35 65.50,174.15 66.00,174.22 66.50,174.06 67.00,174.35 67.50,174.40 68.00,174.24 68.50,174.26 69.00,174.19 69.50,174.29 70.00,174.25 70.50,174.09 71.00,173.96 71.50,173.85 72.00,174.08 72.50,173.76 73.00,174.01 73.50,173.81 74.00,173.82 74.50,173.72 75.00,173.94 75.50,174.24 76.00,174.25 76.50,173.88 77.00,173.87 77.50,173.58 78.00,173.32 78.50,173.12 79.00,173.19 79.50,172.94 80.00,173.09 80.50,172.98 81.00,172.80 81.50,172.67 82.00,173.02 82.50,173.04 83.00,173.21 83.50,172.95 84.00,172.99 84.50,173.05 85.00,172.84 85.50,172.94 86.00,172.79 86.50,172.59 87.00,172.80 87.50,172.85 88.00,173.03 88.50,173.35 89.00,173.62 89.50,173.64 90.00,173.76 90.50,174.06 91.00,174.17 91.50,173.93 92.00,174.17 92.50,174.18 93.00,174.06 93.50,173.87 94.00,174.15 94.50,174.29 95.00,174.41 95.50,174.49 96.00,174.79 96.50,174.81 97.00,174.92 97.50,174.76 98.00,174.47 98.50,174.32 99.00,174.08 99.50,174.24 100.00,173.98 100.50,173.77 101.00,174.07 101.50,174.12 102.00,173.89 102.50,173.83 103.00,174.20 103.50,174.54 104.00,174.62 104.50,174.63 105.00,174.52 105.50,174.23 106.00,174.42 106.50,174.47 107.00,174.31 107.50,173.94 108.00,174.20 108.50,174.23 109.00,174.43 109.50,174.35 110.00,174.21 110.50,174.62 111.00,174.46 111.50,174.70 112.00,174.59 112.50,174.50 113.00,174.39 113.50,174.30 114.00,173.76 114.50,173.48 115.00,173.57 115.50,173.41 116.00,173.56 116.50,173.78 117.00,173.79 117.50,173.57 118.00,173.71 118.50,173.78 119.00,173.50 119.50,173.19 120.00,173.10 120.50,172.85 121.00,172.76 121.50,172.68 122.00,172.49 122.50,172.76 123.00,172.79 123.50,173.00 124.00,173.09 124.50,173.16 125.00,173.41 125.50,173.23 126.00,173.26 126.50,173.03 127.00,173.16 127.50,172.98 128.00,173.07 128.50,172.99 129.00,173.00 129.50,173.16 130.00,172.99 130.50,173.31 131.00,173.64 131.50,173.72 132.00,173.72 132.50,173.75 133.00,173.50 133.50,173.40 134.00,172.98 134.50,172.86 135.00,172.88 135.50,172.95 136.00,172.79 136.50,172.62 137.00,172.88 137.50,173.01 138.00,173.13 138.50,172.87 139.00,173.23 139.50,173.36 140.00,172.98 140.50,173.15 141.00,172.79 141.50,172.86 142.00,172.75 142.50,173.03 143.00,173.00 143.50,173.35 144.00,173.43 144.50,173.58 145.00,173.53 145.50,173.46 146.00,173.44 146.50,173.86 147.00,174.03 147.50,173.86 148.00,173.51 148.50,173.42 149.00,173.36 149.50,173.39 150.00,173.39 150.50,173.55 151.00,173.72 151.50,173.69 152.00,173.75 152.50,173.95 153.00,173.65 153.50,173.40 154.00,173.24 154.50,173.20 155.00,172.91 155.50,173.09 156.00,173.22" fill="none" stroke="#959fd0" stroke-width="0.9" stroke-linejoin="round"/><polyline points="27.50,164.05 28.00,164.05 28.50,164.27 29.00,164.13 29.50,164.50 30.00,164.52 30.50,164.35 31.00,164.59 31.50,164.42 32.00,164.64 32.50,164.51 33.00,164.10 33.50,164.15 34.00,163.74 34.50,163.77 35.00,163.24 35.50,163.07 36.00,163.13 36.50,162.97 37.00,162.90 37.50,162.72 38.00,162.83 38.50,162.93 39.00,162.61 39.50,162.52 40.00,162.30 40.50,162.16 41.00,162.16 41.50,161.88 42.00,161.65 42.50,161.61 43.00,161.76 43.50,162.04 44.00,162.25 44.50,162.09 45.00,161.95 45.50,162.34 46.00,162.17 46.50,162.33 47.00,162.14 47.50,162.23 48.00,162.41 48.50,162.66 49.00,162.57 49.50,162.67 50.00,163.04 50.50,163.21 51.00,163.22 51.50,163.46 52.00,163.61 52.50,164.00 53.00,164.16 53.50,163.96 54.00,164.05 54.50,164.22 55.00,164.33 55.50,164.34 56.00,164.32 56.50,164.32 57.00,164.63 57.50,164.63 58.00,164.59 58.50,164.66 59.00,164.76 59.50,164.82 60.00,164.75 60.50,164.72 61.00,164.90 61.50,164.59 62.00,164.40 62.50,164.35 63.00,164.33 63.50,164.78 64.00,165.00 64.50,165.19 65.00,164.94 65.50,165.21 66.00,165.40 66.50,165.23 67.00,165.13 67.50,165.15 68.00,165.03 68.50,164.90 69.00,164.83 69.50,164.88 70.00,164.87 70.50,164.92 71.00,164.94 71.50,164.65 72.00,164.75 72.50,164.60 73.00,164.66 73.50,164.55 74.00,164.69 74.50,164.44 75.00,164.22 75.50,163.94 76.00,163.83 76.50,163.79 77.00,163.52 77.50,163.83 78.00,163.82 78.50,163.73 79.00,164.06 79.50,163.88 80.00,164.14 80.50,164.12 81.00,164.37 81.50,164.03 82.00,164.22 82.50,164.15 83.00,164.14 83.50,163.99 84.00,163.90 84.50,164.04 85.00,164.02 85.50,164.38 86.00,164.40 86.50,164.53 87.00,164.53 87.50,164.19 88.00,164.03 88.50,163.59 89.00,163.23 89.50,162.86 90.00,162.99 90.50,162.68 91.00,162.40 91.50,162.36 92.00,162.07 92.50,161.85 93.00,161.73 93.50,161.69 94.00,161.73 94.50,161.70 95.00,161.75 95.50,161.68 96.00,161.89 96.50,161.79 97.00,161.93 97.50,161.90 98.00,161.96 98.50,162.33 99.00,162.19 99.50,162.73 100.00,163.11 100.50,163.04 101.00,163.10 101.50,163.38 102.00,163.54 102.50,163.84 103.00,163.86 103.50,164.09 104.00,164.13 104.50,164.13 105.00,164.15 105.50,164.45 106.00,164.47 106.50,164.72 107.00,164.79 107.50,165.09 108.00,165.27 108.50,165.23 109.00,165.31 109.50,165.25 110.00,164.79 110.50,164.74 111.00,164.61 111.50,164.56 112.00,164.47 112.50,164.63 113.00,164.70 113.50,164.79 114.00,164.55 114.50,164.61 115.00,164.57 115.50,164.89 116.00,164.81 116.50,164.47 117.00,164.55 117.50,164.19 118.00,164.17 118.50,164.02 119.00,163.95 119.50,164.22 120.00,164.53 120.50,164.39 121.00,164.34 121.50,164.71 122.00,164.85 122.50,164.82 123.00,164.70 123.50,164.25 124.00,163.86 124.50,163.61 125.00,163.62 125.50,163.30 126.00,163.45 126.50,163.19 127.00,163.56 127.50,163.65 128.00,163.71 128.50,163.59 129.00,163.70 129.50,163.78 130.00,163.65 130.50,163.42 131.00,163.32 131.50,163.31 132.00,162.92 132.50,163.02 133.00,162.85 133.50,163.03 134.00,162.96 134.50,163.42 135.00,163.53 135.50,163.73 136.00,163.90 136.50,163.90 137.00,163.84 137.50,164.02 138.00,163.81 138.50,163.75 139.00,163.70 139.50,163.56 140.00,163.88 140.50,164.02 141.00,164.20 141.50,164.02 142.00,164.20 142.50,164.39 143.00,164.35 143.50,164.45 144.00,164.11 144.50,164.12 145.00,163.80 145.50,163.76 146.00,163.43 146.50,163.19 147.00,163.31 147.50,163.52 148.00,163.43 148.50,163.69 149.00,163.58 149.50,163.98 150.00,163.88 150.50,163.96 151.00,163.79 151.50,163.87 152.00,163.59 152.50,163.83 153.00,163.64 153.50,163.75 154.00,163.85 154.50,164.11 155.00,164.30 155.50,164.49 156.00,164.60" fill="none" stroke="#7b86c2" stroke-width="0.9" stroke-linejoin="round"/><polyline points="27.50,155.55 28.00,155.49 28.50,155.69 29.00,155.73 29.50,155.92 30.00,155.71 30.50,155.97 31.00,155.60 31.50,155.38 32.00,155.55 32.50,155.79 33.00,155.88 33.50,155.95 34.00,155.69 34.50,155.62 35.00,155.65 35.50,155.63 36.00,155.55 36.50,155.51 37.00,155.43 37.50,155.27 38.00,155.33 38.50,155.29 39.00,154.87 39.50,154.83 40.00,154.92 40.50,154.64 41.00,155.00 41.50,155.04 42.00,155.04 42.50,155.03 43.00,155.27 43.50,155.17 44.00,155.03 44.50,155.17 45.00,154.81 45.50,154.75 46.00,154.95 46.50,155.04 47.00,155.11 47.50,155.26 48.00,155.06 48.50,155.31 49.00,155.40 49.50,155.73 50.00,155.89 50.50,155.64 51.00,155.68 51.50,155.40 52.00,155.22 52.50,155.24 53.00,155.29 53.50,155.26 54.00,154.97 54.50,154.80 55.00,155.19 55.50,155.23 56.00,155.29 56.50,155.38 57.00,155.53 57.50,155.45 58.00,155.29 58.50,155.06 59.00,155.01 59.50,154.97 60.00,154.86 60.50,155.03 61.00,154.87 61.50,155.14 62.00,155.42 62.50,155.52 63.00,155.48 63.50,155.59 64.00,155.59 64.50,155.80 65.00,155.88 65.50,155.60 66.00,155.54 66.50,155.69 67.00,155.48 67.50,155.70 68.00,155.78 68.50,155.69 69.00,155.82 69.50,156.22 70.00,156.06 70.50,156.18 71.00,156.48 71.50,156.23 72.00,156.29 72.50,156.04 73.00,156.11 73.50,156.08 74.00,155.94 74.50,155.59 75.00,155.80 75.50,155.65 76.00,155.86 76.50,155.95 77.00,156.00 77.50,155.93 78.00,156.07 78.50,156.22 79.00,156.19 79.50,156.11 80.00,155.74 80.50,155.53 81.00,155.68 81.50,155.64 82.00,155.90 82.50,155.91 83.00,156.23 83.50,155.98 84.00,156.37 84.50,156.26 85.00,156.43 85.50,156.39 86.00,156.33 86.50,156.12 87.00,156.11 87.50,156.08 88.00,155.77 88.50,155.78 89.00,155.70 89.50,155.73 90.00,155.70 90.50,155.77 91.00,155.55 91.50,155.52 92.00,155.67 92.50,155.33 93.00,155.33 93.50,155.10 94.00,154.90 94.50,154.63 95.00,154.70 95.50,154.45 96.00,154.44 96.50,154.37 97.00,154.58 97.50,154.55 98.00,154.82 98.50,154.97 99.00,154.86 99.50,154.78 100.00,154.85 100.50,155.12 101.00,155.02 101.50,155.01 102.00,154.81 102.50,155.03 103.00,154.86 103.50,155.30 104.00,155.40 104.50,155.42 105.00,155.70 105.50,155.51 106.00,155.47 106.50,155.62 107.00,155.66 107.50,155.31 108.00,155.01 108.50,155.05 109.00,154.93 109.50,155.08 110.00,155.22 110.50,155.33 111.00,155.27 111.50,155.44 112.00,155.43 112.50,155.18 113.00,155.40 113.50,155.01 114.00,155.02 114.50,154.82 115.00,154.89 115.50,154.85 116.00,154.87 116.50,155.04 117.00,154.98 117.50,155.10 118.00,155.46 118.50,155.46 119.00,155.44 119.50,155.63 120.00,155.70 120.50,155.76 121.00,155.76 121.50,155.62 122.00,155.53 122.50,155.71 123.00,155.65 123.50,155.74 124.00,155.46 124.50,155.61 125.00,155.50 125.50,155.52 126.00,155.77 126.50,155.92 127.00,155.89 127.50,155.70 128.00,155.40 128.50,155.52 129.00,155.37 129.50,154.95 130.00,155.16 130.50,154.85 131.00,154.71 131.50,154.88 132.00,155.28 132.50,155.24 133.00,155.22 133.50,155.45 134.00,155.54 134.50,155.71 135.00,155.51 135.50,155.33 136.00,155.27 136.50,154.98 137.00,154.94 137.50,155.20 138.00,155.13 138.50,155.47 139.00,155.45 139.50,155.41 140.00,155.46 140.50,155.46 141.00,155.51 141.50,155.61 142.00,155.71 142.50,155.38 143.00,155.14 143.50,155.11 144.00,154.83 144.50,154.66 145.00,154.79 145.50,154.56 146.00,154.87 146.50,154.67 147.00,154.63 147.50,154.71 148.00,154.54 148.50,154.34 149.00,154.58 149.50,154.39 150.00,154.29 150.50,154.40 151.00,154.33 151.50,154.32 152.00,154.39 152.50,154.62 153.00,154.76 153.50,154.60 154.00,154.79 154.50,154.68 155.00,154.51 155.50,154.58 156.00,154.83" fill="none" stroke="#6674b8" stroke-width="0.9" stroke-linejoin="round"/><polyline points="27.50,145.91 28.00,145.75 28.50,146.00 29.00,146.08 29.50,146.29 30.00,146.32 30.50,146.40 31.00,146.45 31.50,146.22 32.00,145.93 32.50,146.14 33.00,145.82 33.50,145.86 34.00,146.11 34.50,145.95 35.00,145.89 35.50,145.98 36.00,146.01 36.50,146.36 37.00,146.34 37.50,146.22 38.00,146.38 38.50,146.24 39.00,146.05 39.50,145.79 40.00,145.99 40.50,145.79 41.00,145.77 41.50,145.69 42.00,145.85 42.50,145.55 43.00,145.71 43.50,145.90 44.00,145.72 44.50,145.67 45.00,145.55 45.50,145.41 46.00,145.57 46.50,145.21 47.00,145.23 47.50,144.85 48.00,145.03 48.50,144.80 49.00,145.10 49.50,144.97 50.00,145.06 50.50,145.20 51.00,145.34 51.50,145.69 52.00,145.73 52.50,145.51 53.00,145.43 53.50,145.48 54.00,145.62 54.50,145.66 55.00,145.61 55.50,145.79 56.00,146.01 56.50,146.19 57.00,146.37 57.50,146.48 58.00,146.59 58.50,146.50 59.00,146.41 59.50,146.25 60.00,146.00 60.50,146.02 61.00,145.74 61.50,145.81 62.00,145.61 62.50,145.31 63.00,145.61 63.50,145.64 64.00,145.48 64.50,145.86 65.00,146.07 65.50,146.24 66.00,146.10 66.50,145.86 67.00,145.73 67.50,145.79 68.00,145.88 68.50,145.87 69.00,145.74 69.50,145.70 70.00,146.18 70.50,146.53 71.00,146.77 71.50,146.77 72.00,146.60 72.50,146.61 73.00,146.78 73.50,146.99 74.00,146.96 74.50,146.59 75.00,146.76 75.50,146.68 76.00,146.53 76.50,146.63 77.00,146.54 77.50,146.60 78.00,146.41 78.50,146.36 79.00,146.77 79.50,146.69 80.00,146.78 80.50,146.54 81.00,146.34 81.50,146.02 82.00,146.17 82.50,145.89 83.00,145.98 83.50,145.75 84.00,145.73 84.50,145.67 85.00,146.00 85.50,146.31 86.00,146.35 86.50,146.37 87.00,146.15 87.50,146.34 88.00,145.95 88.50,145.76 89.00,145.78 89.50,145.79 90.00,145.61 90.50,145.69 91.00,145.53 91.50,145.45 92.00,145.64 92.50,145.83 93.00,146.07 93.50,145.95 94.00,146.05 94.50,145.93 95.00,145.86 95.50,145.60 96.00,145.23 96.50,145.09 97.00,145.01 97.50,144.75 98.00,144.59 98.50,144.63 99.00,144.79 99.50,144.65 100.00,144.75 100.50,144.68 101.00,145.01 101.50,144.89 102.00,144.83 102.50,144.54 103.00,144.52 103.50,144.77 104.00,144.86 104.50,145.01 105.00,144.79 105.50,145.13 106.00,145.37 106.50,145.35 107.00,145.39 107.50,145.71 108.00,145.57 108.50,145.45 109.00,145.54 109.50,145.47 110.00,145.38 110.50,145.31 111.00,145.43 111.50,145.54 112.00,145.50 112.50,145.78 113.00,145.64 113.50,145.61 114.00,145.66 114.50,145.47 115.00,145.58 115.50,145.55 116.00,145.36 116.50,145.29 117.00,145.21 117.50,145.20 118.00,145.18 118.50,145.11 119.00,145.15 119.50,145.50 120.00,145.35 120.50,145.75 121.00,145.62 121.50,145.60 122.00,145.71 122.50,146.03 123.00,145.77 123.50,145.53 124.00,145.76 124.50,145.76 125.00,145.61 125.50,145.98 126.00,146.09 126.50,146.27 127.00,146.16 127.50,146.40 128.00,146.27 128.50,146.30 129.00,146.43 129.50,146.64 130.00,146.63 130.50,146.18 131.00,146.25 131.50,146.23 132.00,145.80 132.50,145.57 133.00,145.55 133.50,145.96 134.00,145.83 134.50,145.92 135.00,146.01 135.50,145.90 136.00,145.75 136.50,145.71 137.00,145.74 137.50,145.39 138.00,145.07 138.50,145.10 139.00,145.38 139.50,145.51 140.00,145.25 140.50,145.52 141.00,145.81 141.50,145.98 142.00,145.69 142.50,145.53 143.00,145.65 143.50,145.91 144.00,145.96 144.50,145.62 145.00,145.73 145.50,145.69 146.00,145.48 146.50,145.27 147.00,145.18 147.50,145.28 148.00,145.23 148.50,145.43 149.00,145.56 149.50,145.76 150.00,145.34 150.50,145.05 151.00,145.06 151.50,144.74 152.00,144.52 152.50,144.57 153.00,144.65 153.50,144.74 154.00,144.63 154.50,144.51 155.00,144.44 155.50,144.84 156.00,145.03" fill="none" stroke="#5564ae" stroke-width="0.95" stroke-linejoin="round"/><polyline points="27.50,137.12 28.00,136.90 28.50,137.00 29.00,137.20 29.50,137.05 30.00,137.22 30.50,136.92 31.00,137.03 31.50,136.92 32.00,136.97 32.50,136.99 33.00,137.04 33.50,136.80 34.00,136.77 34.50,136.41 35.00,136.09 35.50,136.08 36.00,136.22 36.50,136.33 37.00,136.11 37.50,136.16 38.00,136.25 38.50,136.43 39.00,136.72 39.50,136.55 40.00,136.31 40.50,136.57 41.00,136.63 41.50,136.57 42.00,136.15 42.50,136.06 43.00,136.00 43.50,136.38 44.00,136.23 44.50,136.21 45.00,136.27 45.50,136.60 46.00,136.44 46.50,136.69 47.00,136.40 47.50,136.34 48.00,135.99 48.50,135.78 49.00,135.91 49.50,136.02 50.00,135.71 50.50,135.63 51.00,135.50 51.50,135.56 52.00,135.73 52.50,135.92 53.00,136.06 53.50,136.01 54.00,135.87 54.50,135.97 55.00,135.91 55.50,135.88 56.00,136.21 56.50,136.25 57.00,136.09 57.50,136.59 58.00,136.98 58.50,137.02 59.00,137.44 59.50,137.31 60.00,137.71 60.50,137.56 61.00,137.83 61.50,137.87 62.00,138.01 62.50,137.74 63.00,137.79 63.50,137.99 64.00,137.74 64.50,137.71 65.00,137.95 65.50,137.92 66.00,137.91 66.50,137.90 67.00,138.05 67.50,138.23 68.00,138.16 68.50,138.12 69.00,137.73 69.50,137.52 70.00,137.61 70.50,137.44 71.00,137.31 71.50,137.31 72.00,137.66 72.50,138.03 73.00,138.02 73.50,137.79 74.00,137.75 74.50,137.92 75.00,138.00 75.50,137.67 76.00,137.56 76.50,137.23 77.00,137.27 77.50,137.37 78.00,137.30 78.50,137.42 79.00,137.23 79.50,137.35 80.00,137.31 80.50,137.31 81.00,136.97 81.50,136.88 82.00,136.79 82.50,136.41 83.00,136.23 83.50,135.75 84.00,135.60 84.50,135.72 85.00,135.57 85.50,135.41 86.00,135.49 86.50,135.42 87.00,135.27 87.50,135.08 88.00,135.17 88.50,134.97 89.00,134.74 89.50,134.46 90.00,134.13 90.50,133.92 91.00,133.99 91.50,134.00 92.00,134.16 92.50,134.14 93.00,134.17 93.50,134.35 94.00,134.35 94.50,134.74 95.00,134.80 95.50,134.66 96.00,134.69 96.50,134.89 97.00,135.07 97.50,135.07 98.00,135.24 98.50,135.39 99.00,135.38 99.50,135.54 100.00,135.79 100.50,135.83 101.00,136.23 101.50,136.47 102.00,136.72 102.50,136.61 103.00,136.81 103.50,136.71 104.00,136.49 104.50,136.13 105.00,136.27 105.50,136.21 106.00,136.18 106.50,135.99 107.00,135.96 107.50,136.00 108.00,136.42 108.50,136.42 109.00,136.55 109.50,136.58 110.00,136.62 110.50,136.33 111.00,136.11 111.50,136.36 112.00,136.07 112.50,136.40 113.00,136.31 113.50,136.15 114.00,136.29 114.50,136.65 115.00,136.70 115.50,136.60 116.00,136.51 116.50,136.39 117.00,136.53 117.50,136.41 118.00,136.42 118.50,136.09 119.00,135.96 119.50,136.01 120.00,135.93 120.50,136.09 121.00,135.99 121.50,136.21 122.00,136.28 122.50,136.18 123.00,136.23 123.50,136.02 124.00,136.13 124.50,136.02 125.00,135.68 125.50,135.75 126.00,135.66 126.50,135.76 127.00,135.79 127.50,135.98 128.00,135.97 128.50,135.95 129.00,136.20 129.50,136.46 130.00,136.40 130.50,136.45 131.00,136.38 131.50,136.17 132.00,135.96 132.50,136.04 133.00,135.85 133.50,135.91 134.00,136.15 134.50,136.12 135.00,136.18 135.50,136.51 136.00,136.51 136.50,136.47 137.00,136.23 137.50,136.32 138.00,136.08 138.50,136.04 139.00,136.05 139.50,135.92 140.00,135.51 140.50,135.65 141.00,135.60 141.50,135.37 142.00,135.23 142.50,135.31 143.00,135.54 143.50,135.61 144.00,135.39 144.50,135.72 145.00,135.39 145.50,135.56 146.00,135.43 146.50,135.51 147.00,135.56 147.50,135.56 148.00,135.47 148.50,135.57 149.00,135.55 149.50,135.64 150.00,135.61 150.50,135.79 151.00,136.13 151.50,136.17 152.00,135.80 152.50,135.69 153.00,135.61 153.50,135.57 154.00,135.51 154.50,135.65 155.00,135.41 155.50,135.55 156.00,135.66" fill="none" stroke="#4757a5" stroke-width="0.95" stroke-linejoin="round"/><polyline points="27.50,127.32 28.00,127.26 28.50,127.39 29.00,127.35 29.50,127.16 30.00,127.16 30.50,127.00 31.00,127.15 31.50,127.15 32.00,126.98 32.50,127.19 33.00,127.32 33.50,127.47 34.00,127.42 34.50,127.64 35.00,127.47 35.50,127.40 36.00,127.29 36.50,127.20 37.00,127.08 37.50,127.31 38.00,127.39 38.50,127.15 39.00,127.35 39.50,127.26 40.00,127.53 40.50,127.56 41.00,127.63 41.50,127.72 42.00,127.71 42.50,127.56 43.00,127.20 43.50,126.82 44.00,126.81 44.50,126.74 45.00,126.88 45.50,126.95 46.00,126.68 46.50,126.71 47.00,126.91 47.50,126.90 48.00,127.17 48.50,126.82 49.00,126.81 49.50,126.97 50.00,127.06 50.50,126.85 51.00,126.62 51.50,126.70 52.00,126.65 52.50,126.90 53.00,126.95 53.50,127.01 54.00,127.33 54.50,127.66 55.00,127.74 55.50,127.84 56.00,127.87 56.50,127.84 57.00,127.53 57.50,127.53 58.00,127.76 58.50,127.70 59.00,127.85 59.50,128.06 60.00,127.77 60.50,128.04 61.00,128.12 61.50,127.95 62.00,127.98 62.50,128.12 63.00,128.13 63.50,128.29 64.00,128.06 64.50,128.12 65.00,127.93 65.50,128.12 66.00,128.27 66.50,128.00 67.00,128.28 67.50,128.15 68.00,128.28 68.50,128.68 69.00,128.69 69.50,128.49 70.00,128.37 70.50,128.76 71.00,128.85 71.50,128.90 72.00,128.59 72.50,128.41 73.00,128.53 73.50,128.30 74.00,128.50 74.50,128.42 75.00,128.41 75.50,128.68 76.00,128.51 76.50,128.72 77.00,128.56 77.50,128.32 78.00,128.08 78.50,127.63 79.00,127.66 79.50,127.13 80.00,127.24 80.50,127.08 81.00,127.02 81.50,126.94 82.00,126.81 82.50,126.60 83.00,126.53 83.50,126.56 84.00,126.31 84.50,126.32 85.00,126.17 85.50,125.68 86.00,125.41 86.50,125.62 87.00,125.57 87.50,125.38 88.00,125.53 88.50,125.67 89.00,125.86 89.50,125.86 90.00,126.09 90.50,125.72 91.00,125.91 91.50,125.85 92.00,125.58 92.50,125.25 93.00,125.07 93.50,125.24 94.00,125.32 94.50,125.33 95.00,125.19 95.50,125.25 96.00,125.62 96.50,125.75 97.00,126.02 97.50,126.11 98.00,126.29 98.50,126.55 99.00,126.79 99.50,126.46 100.00,126.38 100.50,126.32 101.00,126.24 101.50,126.33 102.00,126.21 102.50,126.29 103.00,126.41 103.50,126.78 104.00,126.68 104.50,126.79 105.00,126.82 105.50,126.73 106.00,126.48 106.50,126.24 107.00,126.19 107.50,126.06 108.00,125.99 108.50,126.02 109.00,125.92 109.50,126.19 110.00,126.25 110.50,126.12 111.00,126.16 111.50,126.00 112.00,126.06 112.50,126.03 113.00,126.14 113.50,125.71 114.00,125.65 114.50,125.74 115.00,125.58 115.50,125.72 116.00,126.00 116.50,126.07 117.00,126.45 117.50,127.01 118.00,127.43 118.50,127.74 119.00,127.52 119.50,127.79 120.00,128.00 120.50,127.92 121.00,127.87 121.50,128.09 122.00,128.08 122.50,128.41 123.00,128.36 123.50,128.69 124.00,128.83 124.50,128.79 125.00,128.95 125.50,129.10 126.00,129.04 126.50,128.73 127.00,128.43 127.50,128.46 128.00,128.51 128.50,128.45 129.00,128.23 129.50,128.36 130.00,128.47 130.50,128.39 131.00,128.51 131.50,128.53 132.00,128.64 132.50,128.14 133.00,128.26 133.50,128.09 134.00,127.61 134.50,127.29 135.00,127.17 135.50,127.20 136.00,127.20 136.50,127.14 137.00,127.38 137.50,127.38 138.00,127.46 138.50,127.58 139.00,127.71 139.50,127.42 140.00,127.21 140.50,127.25 141.00,127.42 141.50,127.50 142.00,127.35 142.50,127.11 143.00,127.27 143.50,127.52 144.00,127.66 144.50,127.50 145.00,127.40 145.50,127.56 146.00,127.51 146.50,127.47 147.00,127.59 147.50,127.56 148.00,127.35 148.50,127.33 149.00,127.15 149.50,126.75 150.00,126.65 150.50,126.56 151.00,126.87 151.50,126.76 152.00,126.63 152.50,126.84 153.00,126.96 153.50,126.66 154.00,126.39 154.50,126.20 155.00,125.89 155.50,125.99 156.00,125.72" fill="none" stroke="#3a4899" stroke-width="0.95" stroke-linejoin="round"/><polyline points="27.50,118.15 28.00,117.96 28.50,118.19 29.00,117.97 29.50,117.69 30.00,117.71 30.50,117.55 31.00,117.38 31.50,117.45 32.00,117.63 32.50,117.67 33.00,118.12 33.50,118.17 34.00,118.49 34.50,118.55 35.00,118.51 35.50,118.58 36.00,118.70 36.50,118.60 37.00,118.55 37.50,118.21 38.00,118.01 38.50,117.88 39.00,118.00 39.50,118.27 40.00,118.19 40.50,118.40 41.00,118.16 41.50,118.08 42.00,118.22 42.50,118.37 43.00,118.39 43.50,118.02 44.00,117.96 44.50,117.72 45.00,117.83 45.50,117.79 46.00,117.86 46.50,117.99 47.00,118.23 47.50,118.17 48.00,118.47 48.50,118.32 49.00,118.57 49.50,118.32 50.00,118.48 50.50,118.61 51.00,118.46 51.50,118.28 52.00,118.42 52.50,118.52 53.00,118.58 53.50,118.51 54.00,118.65 54.50,118.56 55.00,118.85 55.50,118.94 56.00,119.19 56.50,118.97 57.00,119.04 57.50,118.85 58.00,118.81 58.50,119.05 59.00,119.03 59.50,118.95 60.00,118.78 60.50,118.60 61.00,118.53 61.50,118.79 62.00,119.17 62.50,119.25 63.00,119.01 63.50,119.23 64.00,118.91 64.50,118.59 65.00,118.60 65.50,118.53 66.00,118.29 66.50,118.60 67.00,118.49 67.50,118.56 68.00,118.50 68.50,118.55 69.00,119.13 69.50,119.48 70.00,119.52 70.50,119.18 71.00,119.00 71.50,118.84 72.00,118.63 72.50,118.86 73.00,118.77 73.50,118.50 74.00,118.49 74.50,118.61 75.00,118.73 75.50,118.82 76.00,118.68 76.50,118.92 77.00,118.65 77.50,118.60 78.00,118.62 78.50,118.20 79.00,117.83 79.50,118.03 80.00,117.90 80.50,117.53 81.00,117.56 81.50,117.29 82.00,117.53 82.50,117.28 83.00,117.19 83.50,117.20 84.00,117.36 84.50,117.77 85.00,117.72 85.50,118.00 86.00,118.02 86.50,118.13 87.00,118.39 87.50,118.43 88.00,118.84 88.50,119.04 89.00,119.24 89.50,119.87 90.00,120.34 90.50,120.53 91.00,121.24 91.50,121.64 92.00,121.79 92.50,122.13 93.00,122.38 93.50,122.24 94.00,122.30 94.50,122.69 95.00,122.12 95.50,121.70 96.00,120.97 96.50,120.24 97.00,119.68 97.50,119.35 98.00,118.33 98.50,117.88 99.00,117.06 99.50,116.11 100.00,115.08 100.50,114.33 101.00,113.58 101.50,112.68 102.00,112.73 102.50,113.49 103.00,114.15 103.50,114.62 104.00,114.95 104.50,115.54 105.00,115.60 105.50,116.13 106.00,116.52 106.50,116.57 107.00,116.84 107.50,116.22 108.00,115.79 108.50,115.21 109.00,114.50 109.50,115.20 110.00,115.66 110.50,116.30 111.00,116.65 111.50,117.04 112.00,117.41 112.50,117.55 113.00,118.00 113.50,118.22 114.00,118.27 114.50,118.47 115.00,118.71 115.50,119.09 116.00,119.02 116.50,118.85 117.00,119.02 117.50,119.07 118.00,118.92 118.50,118.67 119.00,118.64 119.50,118.46 120.00,117.82 120.50,117.64 121.00,117.45 121.50,116.97 122.00,116.89 122.50,116.83 123.00,116.56 123.50,116.36 124.00,116.45 124.50,116.81 125.00,117.03 125.50,117.39 126.00,117.37 126.50,117.31 127.00,117.19 127.50,117.41 128.00,117.42 128.50,117.46 129.00,117.70 129.50,117.80 130.00,117.86 130.50,117.83 131.00,117.69 131.50,117.77 132.00,117.74 132.50,117.80 133.00,118.04 133.50,117.89 134.00,117.85 134.50,117.64 135.00,117.37 135.50,117.39 136.00,117.25 136.50,117.03 137.00,116.99 137.50,117.14 138.00,117.38 138.50,117.16 139.00,117.11 139.50,117.39 140.00,117.35 140.50,117.28 141.00,117.60 141.50,117.59 142.00,117.35 142.50,117.62 143.00,117.53 143.50,117.34 144.00,117.32 144.50,117.47 145.00,118.00 145.50,118.24 146.00,118.48 146.50,118.58 147.00,118.68 147.50,118.49 148.00,118.39 148.50,118.17 149.00,118.08 149.50,117.75 150.00,117.69 150.50,117.34 151.00,117.25 151.50,117.23 152.00,116.98 152.50,116.84 153.00,117.01 153.50,116.81 154.00,116.78 154.50,116.88 155.00,116.68 155.50,116.48 156.00,116.25" fill="none" stroke="#323e96" stroke-width="1.0" stroke-linejoin="round"/><line x1="141.7" y1="192.6" x2="153.6" y2="192.6" stroke="#4d4d4d" stroke-width="1.0"/><text x="145" y="202.6" font-size="8.2" text-anchor="middle" fill="#231f20">100 ms</text><text x="-0.3" y="6.7" font-size="9" text-anchor="start" font-weight="bold" fill="#231f20">a</text><text x="87.4" y="10.4" font-size="8.2" text-anchor="middle" font-weight="bold" fill="#231f20">ER20 macro-micro 1</text><rect x="431.0" y="17.1" width="25.0" height="180.6" fill="#d4d6ea" stroke="none" stroke-width="0.8"/><polyline points="379.60,97.93 380.20,97.76 380.80,97.55 381.40,96.89 382.00,97.37 382.60,98.07 383.20,97.92 383.80,98.39 384.40,98.54 385.00,99.51 385.60,99.75 386.20,99.94 386.80,100.18 387.40,100.16 388.00,100.73 388.60,100.03 389.20,100.61 389.80,100.80 390.40,100.86 391.00,101.02 391.60,101.12 392.20,101.60 392.80,100.95 393.40,100.87 394.00,101.62 394.60,100.41 395.20,99.83 395.80,99.40 396.40,100.14 397.00,100.07 397.60,99.63 398.20,98.78 398.80,99.12 399.40,97.98 400.00,98.28 400.60,98.28 401.20,97.72 401.80,96.53 402.40,96.54 403.00,96.74 403.60,97.91 404.20,97.98 404.80,97.41 405.40,96.89 406.00,96.26 406.60,96.98 407.20,96.50 407.80,97.07 408.40,97.20 409.00,97.31 409.60,97.95 410.20,96.66 410.80,96.45 411.40,97.06 412.00,96.38 412.60,97.63 413.20,96.78 413.80,97.86 414.40,97.63 415.00,97.53 415.60,96.41 416.20,96.02 416.80,97.37 417.40,96.90 418.00,97.66 418.60,96.43 419.20,96.57 419.80,96.35 420.40,96.13 421.00,95.12 421.60,94.80 422.20,95.50 422.80,95.77 423.40,94.56 424.00,94.38 424.60,93.84 425.20,93.41 425.80,93.39 426.40,93.79 427.00,93.70 427.60,93.13 428.20,92.68 428.80,93.38 429.40,93.14 430.00,93.43 430.60,93.46 431.20,93.62 431.80,93.63 432.40,93.28 433.00,94.18 433.60,94.45 434.20,94.04 434.80,93.74 435.40,94.10 436.00,94.77 436.60,94.37 437.20,94.32 437.80,95.55 438.40,95.39 439.00,95.32 439.60,95.90 440.20,95.05 440.80,95.33 441.40,96.41 442.00,96.70 442.60,97.87 443.20,98.24 443.80,99.14 444.40,99.21 445.00,99.68 445.60,100.03 446.20,100.18 446.80,100.34 447.40,101.48 448.00,101.65 448.60,100.52 449.20,99.73 449.80,99.68 450.40,101.23 451.00,101.28 451.60,102.05 452.20,102.68 452.80,102.57 453.40,102.52 454.00,103.29 454.60,103.91 455.20,104.02 455.80,104.40 456.40,104.71 457.00,103.90 457.60,104.58 458.20,104.97 458.80,105.06 459.40,103.95 460.00,104.43 460.60,104.61 461.20,104.69 461.80,104.40 462.40,104.36 463.00,103.47 463.60,104.12 464.20,104.42 464.80,103.63 465.40,104.09 466.00,104.64 466.60,104.31 467.20,104.51 467.80,104.55 468.40,104.18 469.00,103.43 469.60,103.46 470.20,103.47 470.80,102.92 471.40,102.08 472.00,100.04 472.60,97.89 473.20,96.93 473.80,95.93 474.40,94.78 475.00,94.59 475.60,94.46 476.20,95.10 476.80,94.76 477.40,94.38 478.00,94.57 478.60,93.37 479.20,93.74 479.80,94.49 480.40,94.46 481.00,95.00 481.60,94.29 482.20,94.56 482.80,94.73 483.40,93.76 484.00,93.83 484.60,93.17 485.20,94.14 485.80,94.17 486.40,94.21 487.00,94.93 487.60,95.13 488.20,95.64 488.80,94.76 489.40,95.41 490.00,95.93 490.60,95.68 491.20,96.43 491.80,96.26 492.40,96.13 493.00,95.61 493.60,96.51 494.20,96.38 494.80,97.31 495.40,97.88 496.00,97.97 496.60,97.56 497.20,97.02 497.80,96.00 498.40,96.92 499.00,96.71 499.60,96.83 500.20,96.51 500.80,96.51 501.40,97.56 502.00,97.40 502.60,96.80 503.20,96.97 503.80,96.93 504.40,97.86 505.00,97.06 505.60,97.56 506.20,96.92 506.80,97.32" fill="none" stroke="#f7b7b9" stroke-width="1.0" stroke-linejoin="round"/><polyline points="379.60,86.78 380.20,87.81 380.80,87.42 381.40,88.19 382.00,87.87 382.60,88.23 383.20,88.54 383.80,87.69 384.40,89.12 385.00,88.47 385.60,89.87 386.20,89.20 386.80,90.40 387.40,90.44 388.00,90.70 388.60,91.14 389.20,92.03 389.80,91.66 390.40,92.45 391.00,91.32 391.60,91.22 392.20,91.55 392.80,91.58 393.40,91.94 394.00,92.03 394.60,91.43 395.20,91.31 395.80,91.18 396.40,90.52 397.00,90.92 397.60,90.61 398.20,89.73 398.80,89.30 399.40,88.28 400.00,89.13 400.60,88.67 401.20,87.82 401.80,88.27 402.40,87.83 403.00,86.92 403.60,87.38 404.20,87.08 404.80,86.78 405.40,86.95 406.00,87.27 406.60,87.58 407.20,86.55 407.80,86.66 408.40,87.34 409.00,86.84 409.60,87.86 410.20,87.42 410.80,87.32 411.40,86.06 412.00,86.26 412.60,85.73 413.20,85.51 413.80,86.09 414.40,86.79 415.00,85.95 415.60,86.45 416.20,86.26 416.80,86.25 417.40,85.68 418.00,86.13 418.60,85.48 419.20,85.53 419.80,85.52 420.40,85.88 421.00,85.71 421.60,85.77 422.20,84.98 422.80,85.84 423.40,84.92 424.00,84.99 424.60,85.52 425.20,84.48 425.80,84.69 426.40,83.63 427.00,83.00 427.60,83.58 428.20,84.29 428.80,84.34 429.40,84.22 430.00,84.74 430.60,83.96 431.20,84.65 431.80,84.64 432.40,83.98 433.00,83.71 433.60,85.10 434.20,85.52 434.80,85.09 435.40,85.14 436.00,84.90 436.60,85.61 437.20,85.42 437.80,85.47 438.40,85.75 439.00,86.32 439.60,86.47 440.20,85.79 440.80,86.09 441.40,87.01 442.00,87.12 442.60,88.78 443.20,89.13 443.80,89.40 444.40,90.27 445.00,91.57 445.60,91.49 446.20,90.87 446.80,91.49 447.40,91.89 448.00,91.31 448.60,91.88 449.20,92.09 449.80,91.77 450.40,92.03 451.00,92.97 451.60,92.96 452.20,93.09 452.80,93.44 453.40,93.31 454.00,93.29 454.60,93.71 455.20,93.65 455.80,92.72 456.40,93.56 457.00,92.72 457.60,93.52 458.20,94.24 458.80,93.79 459.40,93.09 460.00,92.98 460.60,92.09 461.20,91.94 461.80,92.34 462.40,91.97 463.00,91.98 463.60,92.39 464.20,92.51 464.80,91.77 465.40,92.07 466.00,91.95 466.60,92.98 467.20,92.19 467.80,92.17 468.40,92.76 469.00,91.68 469.60,91.06 470.20,90.81 470.80,89.20 471.40,88.71 472.00,86.79 472.60,86.09 473.20,84.83 473.80,84.41 474.40,83.43 475.00,83.83 475.60,82.66 476.20,83.12 476.80,83.00 477.40,83.87 478.00,83.66 478.60,83.39 479.20,84.56 479.80,83.96 480.40,83.71 481.00,83.66 481.60,84.84 482.20,84.04 482.80,83.66 483.40,84.26 484.00,84.99 484.60,84.99 485.20,84.62 485.80,84.14 486.40,84.37 487.00,85.50 487.60,85.28 488.20,84.26 488.80,84.97 489.40,85.15 490.00,85.05 490.60,85.04 491.20,84.96 491.80,85.72 492.40,85.55 493.00,85.59 493.60,85.61 494.20,85.36 494.80,86.37 495.40,86.82 496.00,86.30 496.60,86.83 497.20,85.43 497.80,84.98 498.40,85.85 499.00,84.62 499.60,85.57 500.20,85.21 500.80,85.82 501.40,84.85 502.00,85.00 502.60,84.57 503.20,84.98 503.80,85.61 504.40,85.74 505.00,86.53 505.60,86.54 506.20,86.73 506.80,86.71" fill="none" stroke="#f4999c" stroke-width="1.0" stroke-linejoin="round"/><polyline points="379.60,82.01 380.20,81.65 380.80,81.53 381.40,82.50 382.00,82.46 382.60,81.61 383.20,81.70 383.80,81.66 384.40,81.53 385.00,81.72 385.60,82.17 386.20,82.16 386.80,82.86 387.40,82.49 388.00,82.15 388.60,83.14 389.20,82.52 389.80,82.37 390.40,82.55 391.00,83.44 391.60,84.38 392.20,83.84 392.80,84.58 393.40,84.63 394.00,83.70 394.60,83.95 395.20,84.32 395.80,84.66 396.40,84.84 397.00,83.86 397.60,84.37 398.20,83.52 398.80,83.71 399.40,83.86 400.00,83.46 400.60,84.38 401.20,84.67 401.80,84.29 402.40,84.90 403.00,83.98 403.60,84.81 404.20,83.72 404.80,84.59 405.40,84.49 406.00,83.91 406.60,83.69 407.20,84.14 407.80,83.19 408.40,82.34 409.00,82.03 409.60,81.17 410.20,81.65 410.80,82.24 411.40,81.27 412.00,80.87 412.60,81.21 413.20,80.83 413.80,79.64 414.40,80.23 415.00,78.99 415.60,79.46 416.20,79.91 416.80,79.63 417.40,79.16 418.00,78.40 418.60,79.14 419.20,78.70 419.80,79.13 420.40,79.26 421.00,78.88 421.60,78.32 422.20,78.31 422.80,77.44 423.40,77.47 424.00,78.48 424.60,77.64 425.20,77.44 425.80,78.91 426.40,78.90 427.00,78.82 427.60,80.08 428.20,80.53 428.80,80.55 429.40,80.90 430.00,80.85 430.60,81.07 431.20,81.23 431.80,81.01 432.40,80.16 433.00,80.69 433.60,79.54 434.20,80.67 434.80,80.69 435.40,79.84 436.00,80.35 436.60,80.76 437.20,80.34 437.80,79.81 438.40,80.30 439.00,80.04 439.60,80.13 440.20,78.85 440.80,78.88 441.40,79.26 442.00,78.64 442.60,79.24 443.20,78.82 443.80,77.92 444.40,78.06 445.00,76.46 445.60,75.46 446.20,75.31 446.80,74.46 447.40,73.34 448.00,72.87 448.60,73.18 449.20,72.11 449.80,71.26 450.40,70.44 451.00,68.88 451.60,67.21 452.20,65.81 452.80,63.64 453.40,62.41 454.00,60.40 454.60,59.77 455.20,58.84 455.80,57.98 456.40,56.35 457.00,57.03 457.60,57.11 458.20,57.59 458.80,57.49 459.40,58.04 460.00,57.59 460.60,59.06 461.20,58.40 461.80,59.40 462.40,59.92 463.00,62.06 463.60,62.79 464.20,63.51 464.80,64.52 465.40,65.49 466.00,65.10 466.60,65.75 467.20,66.36 467.80,67.29 468.40,67.05 469.00,67.98 469.60,67.98 470.20,68.41 470.80,68.88 471.40,69.78 472.00,72.29 472.60,73.80 473.20,75.93 473.80,76.70 474.40,78.09 475.00,78.07 475.60,78.44 476.20,79.56 476.80,81.59 477.40,83.73 478.00,86.62 478.60,88.06 479.20,88.58 479.80,88.49 480.40,88.81 481.00,87.82 481.60,88.25 482.20,87.77 482.80,87.26 483.40,86.21 484.00,86.98 484.60,86.17 485.20,86.34 485.80,86.65 486.40,86.90 487.00,86.11 487.60,87.07 488.20,85.97 488.80,85.85 489.40,86.53 490.00,86.52 490.60,86.95 491.20,85.96 491.80,86.15 492.40,86.28 493.00,86.66 493.60,86.22 494.20,86.57 494.80,86.93 495.40,86.80 496.00,85.62 496.60,85.42 497.20,85.00 497.80,85.38 498.40,85.73 499.00,85.56 499.60,84.41 500.20,84.33 500.80,84.43 501.40,84.72 502.00,85.69 502.60,85.10 503.20,86.10 503.80,85.65 504.40,86.54 505.00,87.03 505.60,86.47 506.20,87.48 506.80,88.39" fill="none" stroke="#f28286" stroke-width="1.0" stroke-linejoin="round"/><polyline points="379.60,64.46 380.20,64.05 380.80,63.86 381.40,64.76 382.00,64.69 382.60,65.23 383.20,64.85 383.80,65.52 384.40,64.64 385.00,64.92 385.60,66.21 386.20,65.60 386.80,66.24 387.40,66.34 388.00,66.81 388.60,67.29 389.20,68.09 389.80,68.42 390.40,67.71 391.00,68.37 391.60,68.15 392.20,67.52 392.80,67.46 393.40,67.33 394.00,67.27 394.60,68.11 395.20,68.05 395.80,67.01 396.40,67.41 397.00,66.85 397.60,66.29 398.20,66.62 398.80,65.07 399.40,65.39 400.00,65.56 400.60,64.23 401.20,64.31 401.80,65.00 402.40,63.91 403.00,63.92 403.60,63.58 404.20,64.40 404.80,64.53 405.40,64.56 406.00,63.86 406.60,63.40 407.20,64.35 407.80,63.44 408.40,63.11 409.00,62.85 409.60,64.01 410.20,63.87 410.80,63.50 411.40,63.11 412.00,63.46 412.60,62.65 413.20,62.14 413.80,62.61 414.40,62.88 415.00,63.04 415.60,63.77 416.20,62.68 416.80,62.35 417.40,62.13 418.00,62.65 418.60,62.69 419.20,61.99 419.80,62.34 420.40,61.66 421.00,61.55 421.60,61.64 422.20,61.32 422.80,61.33 423.40,61.37 424.00,61.62 424.60,62.46 425.20,62.58 425.80,62.63 426.40,61.50 427.00,61.94 427.60,61.25 428.20,61.81 428.80,61.61 429.40,61.85 430.00,61.99 430.60,61.35 431.20,61.68 431.80,61.57 432.40,61.67 433.00,62.51 433.60,62.36 434.20,62.21 434.80,63.48 435.40,63.29 436.00,63.14 436.60,63.60 437.20,63.73 437.80,64.12 438.40,64.50 439.00,64.91 439.60,64.94 440.20,65.04 440.80,65.07 441.40,65.90 442.00,66.53 442.60,67.40 443.20,67.80 443.80,68.80 444.40,68.25 445.00,68.80 445.60,68.90 446.20,69.24 446.80,69.34 447.40,68.80 448.00,68.01 448.60,68.28 449.20,67.78 449.80,68.15 450.40,67.40 451.00,68.24 451.60,68.52 452.20,67.34 452.80,67.75 453.40,67.04 454.00,67.03 454.60,67.82 455.20,67.21 455.80,67.52 456.40,67.65 457.00,68.27 457.60,68.82 458.20,68.61 458.80,68.19 459.40,68.70 460.00,68.58 460.60,68.94 461.20,68.54 461.80,68.26 462.40,68.43 463.00,68.38 463.60,68.06 464.20,69.22 464.80,68.74 465.40,68.25 466.00,68.33 466.60,68.76 467.20,68.14 467.80,67.55 468.40,68.29 469.00,68.76 469.60,68.55 470.20,67.93 470.80,66.46 471.40,64.59 472.00,63.70 472.60,61.81 473.20,62.05 473.80,61.28 474.40,61.34 475.00,60.65 475.60,60.87 476.20,60.69 476.80,61.07 477.40,61.64 478.00,60.75 478.60,61.84 479.20,61.24 479.80,61.49 480.40,62.03 481.00,61.31 481.60,61.05 482.20,61.18 482.80,61.18 483.40,61.27 484.00,61.45 484.60,61.66 485.20,61.70 485.80,60.88 486.40,60.85 487.00,61.20 487.60,61.54 488.20,61.92 488.80,62.24 489.40,62.96 490.00,62.83 490.60,62.91 491.20,62.23 491.80,62.41 492.40,63.36 493.00,62.91 493.60,64.25 494.20,64.04 494.80,63.54 495.40,64.00 496.00,63.96 496.60,63.72 497.20,64.06 497.80,63.60 498.40,63.26 499.00,63.14 499.60,64.28 500.20,63.65 500.80,64.43 501.40,64.61 502.00,64.93 502.60,64.16 503.20,64.70 503.80,64.08 504.40,63.69 505.00,63.67 505.60,64.07 506.20,63.35 506.80,63.32" fill="none" stroke="#ef666b" stroke-width="1.0" stroke-linejoin="round"/><polyline points="379.60,49.40 380.20,50.31 380.80,50.47 381.40,49.60 382.00,49.96 382.60,50.05 383.20,50.21 383.80,50.91 384.40,51.21 385.00,50.57 385.60,51.06 386.20,51.66 386.80,51.91 387.40,51.42 388.00,51.73 388.60,51.90 389.20,52.53 389.80,52.56 390.40,52.49 391.00,52.11 391.60,53.24 392.20,52.59 392.80,52.55 393.40,52.05 394.00,52.28 394.60,52.36 395.20,52.04 395.80,52.06 396.40,51.85 397.00,51.68 397.60,50.92 398.20,51.60 398.80,51.62 399.40,51.07 400.00,51.27 400.60,51.17 401.20,51.19 401.80,51.04 402.40,51.00 403.00,50.66 403.60,49.56 404.20,50.27 404.80,49.76 405.40,50.21 406.00,50.86 406.60,50.49 407.20,49.99 407.80,50.07 408.40,50.29 409.00,50.05 409.60,50.08 410.20,49.97 410.80,49.87 411.40,49.44 412.00,48.88 412.60,49.75 413.20,48.45 413.80,49.31 414.40,48.95 415.00,48.20 415.60,47.90 416.20,48.61 416.80,47.71 417.40,47.86 418.00,47.23 418.60,47.00 419.20,47.13 419.80,47.87 420.40,47.24 421.00,48.39 421.60,48.28 422.20,47.51 422.80,47.76 423.40,46.65 424.00,46.60 424.60,47.05 425.20,47.88 425.80,47.99 426.40,47.14 427.00,48.25 427.60,47.17 428.20,46.77 428.80,47.16 429.40,46.47 430.00,46.86 430.60,46.71 431.20,47.05 431.80,47.00 432.40,47.18 433.00,47.29 433.60,47.84 434.20,48.67 434.80,48.95 435.40,49.54 436.00,49.51 436.60,49.63 437.20,49.02 437.80,49.34 438.40,49.88 439.00,50.30 439.60,51.71 440.20,53.60 440.80,55.06 441.40,56.53 442.00,56.95 442.60,58.25 443.20,57.72 443.80,58.68 444.40,57.74 445.00,56.81 445.60,55.82 446.20,55.44 446.80,53.84 447.40,52.79 448.00,51.82 448.60,50.37 449.20,50.45 449.80,49.48 450.40,50.37 451.00,49.63 451.60,49.38 452.20,49.67 452.80,49.48 453.40,49.61 454.00,49.50 454.60,49.79 455.20,50.75 455.80,49.61 456.40,49.24 457.00,50.04 457.60,49.49 458.20,49.85 458.80,50.33 459.40,50.49 460.00,51.41 460.60,52.71 461.20,52.92 461.80,51.70 462.40,52.75 463.00,52.87 463.60,52.84 464.20,51.79 464.80,51.62 465.40,51.13 466.00,51.60 466.60,51.46 467.20,50.63 467.80,51.48 468.40,51.48 469.00,51.61 469.60,51.29 470.20,51.76 470.80,51.09 471.40,50.82 472.00,50.51 472.60,48.80 473.20,48.08 473.80,47.97 474.40,48.74 475.00,47.76 475.60,47.26 476.20,47.09 476.80,46.84 477.40,46.58 478.00,47.15 478.60,46.87 479.20,47.33 479.80,46.53 480.40,47.23 481.00,47.00 481.60,47.10 482.20,46.78 482.80,48.10 483.40,47.62 484.00,48.61 484.60,48.52 485.20,47.61 485.80,48.63 486.40,48.45 487.00,47.43 487.60,47.43 488.20,48.78 488.80,48.60 489.40,48.83 490.00,48.65 490.60,47.91 491.20,47.77 491.80,48.05 492.40,48.01 493.00,48.58 493.60,48.85 494.20,49.56 494.80,48.67 495.40,49.43 496.00,49.08 496.60,49.73 497.20,49.71 497.80,49.55 498.40,50.65 499.00,49.99 499.60,50.87 500.20,50.24 500.80,49.72 501.40,50.40 502.00,50.91 502.60,51.80 503.20,51.11 503.80,50.89 504.40,52.05 505.00,51.23 505.60,51.42 506.20,51.32 506.80,51.94" fill="none" stroke="#ec4a51" stroke-width="1.1" stroke-linejoin="round"/><polyline points="379.60,38.08 380.20,37.96 380.80,37.68 381.40,37.70 382.00,38.65 382.60,39.43 383.20,40.34 383.80,40.14 384.40,41.23 385.00,40.47 385.60,41.48 386.20,41.30 386.80,42.11 387.40,42.70 388.00,44.50 388.60,44.68 389.20,44.55 389.80,44.91 390.40,45.05 391.00,44.17 391.60,44.66 392.20,43.87 392.80,44.13 393.40,44.11 394.00,43.06 394.60,42.83 395.20,42.53 395.80,41.20 396.40,41.61 397.00,40.55 397.60,40.03 398.20,39.35 398.80,38.76 399.40,39.19 400.00,38.29 400.60,38.66 401.20,37.77 401.80,37.87 402.40,37.63 403.00,38.23 403.60,38.95 404.20,38.32 404.80,38.39 405.40,37.63 406.00,37.46 406.60,37.88 407.20,39.27 407.80,39.35 408.40,39.77 409.00,39.67 409.60,38.95 410.20,38.81 410.80,39.60 411.40,39.26 412.00,39.77 412.60,39.98 413.20,39.54 413.80,40.47 414.40,39.40 415.00,40.61 415.60,39.83 416.20,41.25 416.80,40.88 417.40,40.33 418.00,40.72 418.60,40.66 419.20,39.91 419.80,39.66 420.40,39.77 421.00,39.10 421.60,38.81 422.20,39.01 422.80,38.25 423.40,38.13 424.00,37.03 424.60,36.74 425.20,36.05 425.80,35.08 426.40,34.66 427.00,34.44 427.60,33.83 428.20,33.67 428.80,33.35 429.40,33.23 430.00,32.58 430.60,33.46 431.20,33.82 431.80,33.02 432.40,33.49 433.00,32.82 433.60,32.29 434.20,31.94 434.80,33.04 435.40,33.62 436.00,34.01 436.60,33.91 437.20,33.43 437.80,33.13 438.40,33.93 439.00,34.20 439.60,34.78 440.20,34.80 440.80,34.48 441.40,35.12 442.00,33.91 442.60,35.11 443.20,34.96 443.80,35.13 444.40,35.71 445.00,35.72 445.60,36.06 446.20,36.65 446.80,36.51 447.40,36.96 448.00,36.82 448.60,36.97 449.20,38.35 449.80,40.12 450.40,40.94 451.00,42.53 451.60,43.76 452.20,44.24 452.80,44.36 453.40,45.96 454.00,46.24 454.60,47.73 455.20,46.88 455.80,47.74 456.40,47.87 457.00,48.56 457.60,49.00 458.20,49.64 458.80,50.17 459.40,50.81 460.00,51.61 460.60,52.16 461.20,52.09 461.80,51.95 462.40,51.59 463.00,51.83 463.60,52.14 464.20,52.84 464.80,51.99 465.40,52.54 466.00,52.15 466.60,50.94 467.20,50.68 467.80,50.76 468.40,50.50 469.00,50.27 469.60,49.69 470.20,49.52 470.80,48.80 471.40,47.37 472.00,45.94 472.60,44.74 473.20,42.93 473.80,40.58 474.40,39.53 475.00,38.37 475.60,36.88 476.20,36.59 476.80,36.44 477.40,36.05 478.00,36.88 478.60,37.05 479.20,36.67 479.80,37.31 480.40,36.42 481.00,35.57 481.60,35.44 482.20,35.28 482.80,34.93 483.40,35.26 484.00,36.07 484.60,36.30 485.20,35.61 485.80,36.26 486.40,36.27 487.00,35.53 487.60,35.71 488.20,36.53 488.80,36.99 489.40,37.18 490.00,36.56 490.60,37.21 491.20,36.88 491.80,37.10 492.40,36.84 493.00,37.11 493.60,37.16 494.20,37.30 494.80,38.19 495.40,37.39 496.00,37.95 496.60,37.74 497.20,37.68 497.80,38.14 498.40,39.15 499.00,39.27 499.60,39.16 500.20,39.34 500.80,39.32 501.40,38.46 502.00,38.58 502.60,39.72 503.20,40.02 503.80,40.00 504.40,40.41 505.00,40.05 505.60,39.86 506.20,40.16 506.80,39.30" fill="none" stroke="#ea3c44" stroke-width="1.15" stroke-linejoin="round"/><polyline points="379.60,33.46 380.20,33.65 380.80,33.52 381.40,34.22 382.00,33.81 382.60,34.85 383.20,34.21 383.80,35.48 384.40,34.99 385.00,35.93 385.60,36.80 386.20,37.92 386.80,38.19 387.40,37.48 388.00,37.78 388.60,38.19 389.20,37.30 389.80,38.08 390.40,38.25 391.00,38.40 391.60,37.11 392.20,37.31 392.80,36.71 393.40,37.14 394.00,36.84 394.60,35.49 395.20,36.30 395.80,35.97 396.40,34.63 397.00,34.86 397.60,33.37 398.20,33.97 398.80,33.57 399.40,32.66 400.00,33.64 400.60,33.07 401.20,32.38 401.80,32.14 402.40,31.80 403.00,32.23 403.60,32.21 404.20,33.38 404.80,33.11 405.40,32.82 406.00,32.72 406.60,33.82 407.20,33.28 407.80,34.54 408.40,34.69 409.00,34.57 409.60,34.58 410.20,34.11 410.80,34.83 411.40,34.04 412.00,33.60 412.60,34.29 413.20,35.18 413.80,35.90 414.40,35.47 415.00,35.30 415.60,35.58 416.20,35.00 416.80,35.48 417.40,34.99 418.00,35.06 418.60,35.96 419.20,36.50 419.80,36.05 420.40,35.15 421.00,35.49 421.60,34.53 422.20,33.70 422.80,32.76 423.40,32.64 424.00,31.29 424.60,30.05 425.20,29.32 425.80,28.36 426.40,27.27 427.00,26.50 427.60,26.89 428.20,26.16 428.80,26.79 429.40,26.48 430.00,26.49 430.60,26.04 431.20,24.83 431.80,25.58 432.40,24.68 433.00,25.22 433.60,26.21 434.20,26.17 434.80,26.73 435.40,26.21 436.00,26.39 436.60,25.82 437.20,25.62 437.80,26.09 438.40,26.04 439.00,25.84 439.60,26.45 440.20,26.11 440.80,27.06 441.40,27.04 442.00,27.40 442.60,28.88 443.20,29.14 443.80,29.34 444.40,29.88 445.00,29.84 445.60,29.03 446.20,29.04 446.80,29.35 447.40,30.39 448.00,31.04 448.60,31.79 449.20,32.49 449.80,33.88 450.40,34.14 451.00,34.55 451.60,35.36 452.20,37.15 452.80,37.56 453.40,38.24 454.00,38.47 454.60,38.57 455.20,40.03 455.80,39.00 456.40,39.32 457.00,39.83 457.60,40.55 458.20,42.16 458.80,41.85 459.40,43.56 460.00,43.74 460.60,44.30 461.20,45.09 461.80,46.44 462.40,46.19 463.00,46.86 463.60,46.57 464.20,46.93 464.80,45.80 465.40,45.92 466.00,45.03 466.60,45.14 467.20,44.93 467.80,44.49 468.40,43.35 469.00,42.91 469.60,42.17 470.20,40.49 470.80,38.85 471.40,36.53 472.00,34.87 472.60,34.22 473.20,33.91 473.80,32.69 474.40,33.35 475.00,32.60 475.60,32.35 476.20,32.63 476.80,32.70 477.40,31.93 478.00,32.15 478.60,32.05 479.20,30.79 479.80,31.00 480.40,30.64 481.00,30.54 481.60,30.17 482.20,30.26 482.80,29.50 483.40,29.99 484.00,30.83 484.60,30.96 485.20,29.64 485.80,30.80 486.40,30.00 487.00,30.24 487.60,29.91 488.20,29.80 488.80,30.30 489.40,30.74 490.00,30.25 490.60,30.89 491.20,30.90 491.80,30.51 492.40,30.29 493.00,31.18 493.60,30.71 494.20,31.26 494.80,30.46 495.40,30.16 496.00,31.56 496.60,32.07 497.20,32.73 497.80,32.02 498.40,32.72 499.00,31.94 499.60,32.86 500.20,32.95 500.80,32.64 501.40,32.58 502.00,33.26 502.60,33.68 503.20,33.56 503.80,34.22 504.40,33.47 505.00,33.76 505.60,33.57 506.20,33.75 506.80,34.82" fill="none" stroke="#e8313a" stroke-width="1.2" stroke-linejoin="round"/><polyline points="379.60,20.50 380.20,20.91 380.80,21.73 381.40,21.33 382.00,21.50 382.60,21.01 383.20,21.44 383.80,21.60 384.40,21.36 385.00,21.46 385.60,21.23 386.20,22.32 386.80,22.15 387.40,22.40 388.00,23.27 388.60,23.88 389.20,23.92 389.80,25.15 390.40,25.11 391.00,25.72 391.60,24.79 392.20,24.64 392.80,24.20 393.40,25.26 394.00,25.30 394.60,25.52 395.20,24.75 395.80,25.09 396.40,24.62 397.00,24.32 397.60,22.86 398.20,23.49 398.80,23.63 399.40,23.05 400.00,22.12 400.60,21.80 401.20,20.94 401.80,20.52 402.40,21.54 403.00,21.62 403.60,22.18 404.20,21.40 404.80,21.35 405.40,21.74 406.00,20.57 406.60,20.70 407.20,20.60 407.80,20.34 408.40,21.16 409.00,21.29 409.60,20.91 410.20,21.23 410.80,21.48 411.40,20.11 412.00,21.09 412.60,20.26 413.20,20.31 413.80,19.95 414.40,19.52 415.00,20.03 415.60,19.39 416.20,19.94 416.80,20.71 417.40,20.90 418.00,20.13 418.60,19.96 419.20,20.76 419.80,20.17 420.40,20.44 421.00,19.35 421.60,19.31 422.20,19.08 422.80,18.63 423.40,19.16 424.00,19.23 424.60,18.86 425.20,19.45 425.80,18.96 426.40,17.95 427.00,17.40 427.60,17.40 428.20,17.48 428.80,17.40 429.40,17.19 430.00,18.16 430.60,17.74 431.20,17.89 431.80,18.23 432.40,18.65 433.00,18.78 433.60,19.13 434.20,19.26 434.80,18.83 435.40,19.08 436.00,18.80 436.60,19.09 437.20,19.66 437.80,20.04 438.40,20.16 439.00,20.40 439.60,20.67 440.20,20.70 440.80,20.37 441.40,20.62 442.00,21.54 442.60,22.30 443.20,23.81 443.80,24.44 444.40,23.68 445.00,24.37 445.60,24.70 446.20,24.58 446.80,24.57 447.40,24.28 448.00,24.57 448.60,23.98 449.20,23.83 449.80,24.24 450.40,23.79 451.00,24.90 451.60,24.54 452.20,24.33 452.80,25.09 453.40,24.69 454.00,24.64 454.60,24.67 455.20,24.08 455.80,23.97 456.40,24.80 457.00,25.53 457.60,24.58 458.20,24.40 458.80,24.38 459.40,24.37 460.00,24.37 460.60,25.37 461.20,25.59 461.80,25.37 462.40,25.43 463.00,25.39 463.60,25.10 464.20,25.55 464.80,24.68 465.40,24.95 466.00,25.29 466.60,24.91 467.20,25.22 467.80,24.74 468.40,25.10 469.00,24.06 469.60,23.87 470.20,23.65 470.80,23.19 471.40,23.30 472.00,22.03 472.60,21.75 473.20,20.27 473.80,18.42 474.40,17.96 475.00,18.69 475.60,18.72 476.20,18.99 476.80,17.91 477.40,17.54 478.00,17.40 478.60,18.21 479.20,18.80 479.80,17.99 480.40,18.04 481.00,18.90 481.60,18.86 482.20,18.95 482.80,18.88 483.40,19.54 484.00,18.61 484.60,19.23 485.20,18.79 485.80,19.42 486.40,19.60 487.00,18.99 487.60,20.10 488.20,19.87 488.80,19.61 489.40,20.16 490.00,19.94 490.60,19.20 491.20,19.48 491.80,19.40 492.40,20.52 493.00,20.72 493.60,20.57 494.20,20.88 494.80,20.67 495.40,20.16 496.00,21.43 496.60,21.37 497.20,21.34 497.80,20.91 498.40,20.20 499.00,20.42 499.60,19.96 500.20,21.35 500.80,21.70 501.40,20.90 502.00,21.19 502.60,20.60 503.20,20.62 503.80,21.00 504.40,20.70 505.00,21.00 505.60,21.86 506.20,22.02 506.80,21.85" fill="none" stroke="#e6252b" stroke-width="1.3" stroke-linejoin="round"/><polyline points="379.50,181.93 380.00,181.78 380.50,181.60 381.00,181.70 381.50,181.76 382.00,181.76 382.50,181.63 383.00,181.92 383.50,182.26 384.00,182.56 384.50,182.76 385.00,182.68 385.50,182.60 386.00,182.41 386.50,182.26 387.00,182.24 387.50,182.10 388.00,182.05 388.50,182.27 389.00,182.32 389.50,182.52 390.00,182.59 390.50,182.45 391.00,182.36 391.50,182.43 392.00,182.67 392.50,182.37 393.00,182.39 393.50,182.49 394.00,182.10 394.50,181.89 395.00,181.85 395.50,181.70 396.00,182.06 396.50,182.21 397.00,182.06 397.50,182.00 398.00,182.40 398.50,182.60 399.00,182.52 399.50,182.31 400.00,182.19 400.50,182.25 401.00,182.54 401.50,182.45 402.00,182.24 402.50,182.20 403.00,182.43 403.50,182.45 404.00,182.56 404.50,182.99 405.00,183.05 405.50,182.98 406.00,182.79 406.50,182.82 407.00,182.63 407.50,182.81 408.00,182.54 408.50,182.49 409.00,182.47 409.50,182.11 410.00,182.18 410.50,182.43 411.00,182.13 411.50,182.03 412.00,182.08 412.50,182.33 413.00,182.26 413.50,182.25 414.00,182.13 414.50,182.24 415.00,181.80 415.50,181.80 416.00,181.53 416.50,181.43 417.00,181.55 417.50,181.92 418.00,181.91 418.50,182.18 419.00,182.25 419.50,182.13 420.00,182.48 420.50,182.45 421.00,182.22 421.50,182.12 422.00,182.03 422.50,182.02 423.00,182.27 423.50,182.22 424.00,182.02 424.50,182.00 425.00,182.20 425.50,182.17 426.00,182.53 426.50,182.48 427.00,182.49 427.50,182.17 428.00,182.19 428.50,182.14 429.00,181.87 429.50,181.92 430.00,181.75 430.50,181.63 431.00,181.36 431.50,181.29 432.00,181.70 432.50,181.96 433.00,181.84 433.50,181.88 434.00,182.13 434.50,181.98 435.00,182.01 435.50,182.06 436.00,181.91 436.50,181.87 437.00,181.78 437.50,181.84 438.00,182.15 438.50,182.12 439.00,182.52 439.50,182.78 440.00,182.60 440.50,182.54 441.00,182.56 441.50,182.58 442.00,182.54 442.50,182.35 443.00,182.19 443.50,182.07 444.00,181.85 444.50,181.83 445.00,182.09 445.50,182.15 446.00,182.13 446.50,182.36 447.00,182.49 447.50,182.28 448.00,182.32 448.50,182.40 449.00,182.44 449.50,182.42 450.00,182.13 450.50,181.93 451.00,182.01 451.50,181.74 452.00,181.81 452.50,181.99 453.00,182.31 453.50,182.57 454.00,182.74 454.50,182.73 455.00,182.61 455.50,182.84 456.00,182.97 456.50,182.87 457.00,182.65 457.50,182.78 458.00,182.54 458.50,182.70 459.00,182.56 459.50,182.86 460.00,182.63 460.50,182.71 461.00,182.80 461.50,182.72 462.00,182.99 462.50,182.64 463.00,182.65 463.50,182.33 464.00,182.33 464.50,182.38 465.00,182.33 465.50,182.16 466.00,182.26 466.50,182.28 467.00,182.31 467.50,182.21 468.00,182.20 468.50,182.10 469.00,182.41 469.50,182.11 470.00,182.19 470.50,182.10 471.00,181.96 471.50,181.91 472.00,182.04 472.50,182.11 473.00,182.26 473.50,182.15 474.00,182.50 474.50,182.35 475.00,182.34 475.50,182.71 476.00,182.77 476.50,182.81 477.00,182.53 477.50,182.26 478.00,182.01 478.50,182.09 479.00,182.06 479.50,181.95 480.00,181.89 480.50,182.02 481.00,182.10 481.50,181.93 482.00,182.02 482.50,182.32 483.00,182.15 483.50,181.94 484.00,181.60 484.50,181.60 485.00,181.75 485.50,181.40 486.00,181.52 486.50,181.21 487.00,181.49 487.50,181.71 488.00,181.78 488.50,182.03 489.00,181.81 489.50,182.14 490.00,182.15 490.50,182.26 491.00,182.15 491.50,181.85 492.00,181.61 492.50,181.62 493.00,181.80 493.50,181.59 494.00,181.95 494.50,182.08 495.00,182.11 495.50,182.00 496.00,181.96 496.50,181.89 497.00,182.20 497.50,181.96 498.00,181.81 498.50,181.82 499.00,181.48 499.50,181.54 500.00,181.24 500.50,181.39 501.00,181.25 501.50,181.32 502.00,181.29 502.50,181.33 503.00,181.49 503.50,181.56 504.00,181.29 504.50,181.32 505.00,181.29 505.50,181.09 506.00,181.19 506.50,181.13 507.00,181.16 507.50,181.15" fill="none" stroke="#b3b9df" stroke-width="0.9" stroke-linejoin="round"/><polyline points="379.50,172.10 380.00,172.01 380.50,171.90 381.00,171.84 381.50,171.87 382.00,172.26 382.50,172.14 383.00,171.93 383.50,172.18 384.00,172.02 384.50,171.76 385.00,171.41 385.50,171.58 386.00,171.49 386.50,171.57 387.00,171.28 387.50,171.49 388.00,171.46 388.50,171.52 389.00,171.80 389.50,171.90 390.00,171.55 390.50,171.28 391.00,171.26 391.50,171.39 392.00,171.34 392.50,171.28 393.00,171.34 393.50,171.22 394.00,171.21 394.50,171.39 395.00,171.40 395.50,171.78 396.00,171.99 396.50,172.21 397.00,172.42 397.50,172.57 398.00,172.39 398.50,172.25 399.00,172.30 399.50,172.27 400.00,172.30 400.50,172.40 401.00,172.78 401.50,172.85 402.00,173.20 402.50,173.69 403.00,173.61 403.50,173.92 404.00,173.82 404.50,174.01 405.00,174.20 405.50,173.87 406.00,174.02 406.50,174.08 407.00,173.99 407.50,173.72 408.00,174.04 408.50,174.05 409.00,174.02 409.50,174.24 410.00,174.17 410.50,174.19 411.00,173.92 411.50,173.50 412.00,173.45 412.50,172.95 413.00,172.90 413.50,172.66 414.00,172.70 414.50,172.46 415.00,172.09 415.50,172.33 416.00,172.31 416.50,171.99 417.00,171.97 417.50,171.99 418.00,172.04 418.50,171.71 419.00,171.57 419.50,171.49 420.00,171.53 420.50,171.62 421.00,171.69 421.50,171.91 422.00,171.70 422.50,171.98 423.00,171.94 423.50,172.40 424.00,172.59 424.50,172.68 425.00,172.49 425.50,172.76 426.00,172.72 426.50,172.73 427.00,172.71 427.50,172.68 428.00,172.71 428.50,172.79 429.00,172.92 429.50,172.58 430.00,172.65 430.50,172.59 431.00,172.83 431.50,172.96 432.00,173.10 432.50,172.94 433.00,172.59 433.50,172.72 434.00,172.65 434.50,172.60 435.00,172.38 435.50,172.28 436.00,172.42 436.50,172.34 437.00,172.68 437.50,172.64 438.00,173.02 438.50,173.05 439.00,172.91 439.50,172.82 440.00,173.00 440.50,173.08 441.00,172.74 441.50,172.75 442.00,172.65 442.50,172.70 443.00,173.09 443.50,173.09 444.00,173.09 444.50,173.29 445.00,173.59 445.50,173.73 446.00,173.31 446.50,173.21 447.00,173.25 447.50,173.01 448.00,173.06 448.50,172.69 449.00,172.84 449.50,172.48 450.00,172.67 450.50,172.90 451.00,172.94 451.50,173.00 452.00,172.88 452.50,173.01 453.00,172.75 453.50,172.65 454.00,172.33 454.50,172.00 455.00,172.22 455.50,172.01 456.00,171.78 456.50,171.91 457.00,172.27 457.50,172.17 458.00,172.45 458.50,172.63 459.00,172.56 459.50,172.77 460.00,173.01 460.50,172.94 461.00,172.81 461.50,172.74 462.00,172.66 462.50,172.57 463.00,172.61 463.50,172.53 464.00,172.85 464.50,172.98 465.00,172.99 465.50,172.95 466.00,172.80 466.50,172.96 467.00,172.98 467.50,173.09 468.00,172.83 468.50,172.71 469.00,172.71 469.50,172.62 470.00,172.39 470.50,172.32 471.00,172.49 471.50,172.65 472.00,172.77 472.50,172.65 473.00,172.95 473.50,172.77 474.00,172.82 474.50,172.71 475.00,172.53 475.50,172.49 476.00,172.66 476.50,172.62 477.00,172.63 477.50,172.51 478.00,172.69 478.50,172.92 479.00,173.34 479.50,173.43 480.00,173.41 480.50,173.63 481.00,173.45 481.50,173.29 482.00,173.04 482.50,172.91 483.00,173.14 483.50,173.00 484.00,172.93 484.50,173.05 485.00,173.04 485.50,173.01 486.00,172.98 486.50,173.19 487.00,173.32 487.50,173.29 488.00,172.87 488.50,172.77 489.00,172.54 489.50,172.47 490.00,172.52 490.50,172.53 491.00,172.41 491.50,172.47 492.00,172.41 492.50,172.43 493.00,172.47 493.50,172.47 494.00,172.35 494.50,172.59 495.00,172.74 495.50,172.88 496.00,172.82 496.50,172.75 497.00,172.65 497.50,172.61 498.00,172.49 498.50,172.49 499.00,172.23 499.50,172.43 500.00,172.68 500.50,172.61 501.00,172.59 501.50,172.61 502.00,172.33 502.50,172.05 503.00,172.08 503.50,172.14 504.00,172.13 504.50,171.74 505.00,171.51 505.50,171.73 506.00,171.71 506.50,171.83 507.00,171.95 507.50,171.88" fill="none" stroke="#959fd0" stroke-width="0.9" stroke-linejoin="round"/><polyline points="379.50,164.10 380.00,164.15 380.50,164.10 381.00,163.88 381.50,163.72 382.00,163.30 382.50,163.20 383.00,163.22 383.50,163.04 384.00,162.93 384.50,162.92 385.00,162.73 385.50,162.83 386.00,162.80 386.50,162.55 387.00,162.25 387.50,162.28 388.00,162.15 388.50,161.81 389.00,161.68 389.50,161.62 390.00,161.58 390.50,161.87 391.00,161.78 391.50,161.96 392.00,162.12 392.50,162.11 393.00,162.27 393.50,162.33 394.00,162.40 394.50,162.26 395.00,162.56 395.50,162.65 396.00,162.57 396.50,163.01 397.00,162.92 397.50,163.25 398.00,163.46 398.50,163.58 399.00,164.21 399.50,164.65 400.00,164.83 400.50,164.73 401.00,164.78 401.50,164.88 402.00,164.52 402.50,164.62 403.00,164.44 403.50,164.31 404.00,164.30 404.50,164.78 405.00,164.85 405.50,164.79 406.00,164.67 406.50,164.75 407.00,164.92 407.50,165.03 408.00,164.53 408.50,164.28 409.00,164.00 409.50,164.21 410.00,164.14 410.50,163.95 411.00,164.01 411.50,163.93 412.00,163.94 412.50,164.17 413.00,163.95 413.50,164.16 414.00,163.91 414.50,163.83 415.00,163.64 415.50,163.47 416.00,163.56 416.50,163.64 417.00,163.39 417.50,163.26 418.00,163.35 418.50,163.44 419.00,163.10 419.50,163.41 420.00,163.50 420.50,163.35 421.00,163.33 421.50,163.40 422.00,162.93 422.50,162.85 423.00,162.53 423.50,162.46 424.00,162.68 424.50,162.64 425.00,162.93 425.50,162.77 426.00,162.91 426.50,163.07 427.00,163.21 427.50,163.36 428.00,163.30 428.50,163.25 429.00,163.43 429.50,163.78 430.00,163.68 430.50,163.79 431.00,163.97 431.50,163.73 432.00,164.17 432.50,164.04 433.00,164.27 433.50,164.67 434.00,164.92 434.50,165.12 435.00,165.08 435.50,165.10 436.00,164.66 436.50,164.69 437.00,164.77 437.50,164.78 438.00,164.63 438.50,164.63 439.00,164.32 439.50,164.39 440.00,164.61 440.50,164.63 441.00,164.49 441.50,164.60 442.00,164.46 442.50,164.32 443.00,164.41 443.50,164.12 444.00,163.99 444.50,163.93 445.00,163.88 445.50,163.84 446.00,164.06 446.50,163.98 447.00,163.90 447.50,163.87 448.00,164.02 448.50,164.00 449.00,164.35 449.50,164.20 450.00,163.90 450.50,163.94 451.00,163.66 451.50,163.77 452.00,163.55 452.50,163.34 453.00,163.63 453.50,163.71 454.00,163.71 454.50,163.84 455.00,163.91 455.50,163.52 456.00,163.29 456.50,163.50 457.00,163.45 457.50,163.15 458.00,163.07 458.50,162.99 459.00,162.74 459.50,162.69 460.00,162.59 460.50,162.72 461.00,162.93 461.50,163.14 462.00,163.01 462.50,163.16 463.00,163.33 463.50,163.05 464.00,163.02 464.50,163.17 465.00,162.98 465.50,163.10 466.00,163.14 466.50,163.28 467.00,163.33 467.50,163.42 468.00,163.65 468.50,163.96 469.00,164.08 469.50,164.31 470.00,164.13 470.50,164.32 471.00,164.19 471.50,164.21 472.00,164.08 472.50,163.96 473.00,163.65 473.50,163.79 474.00,163.79 474.50,163.62 475.00,163.76 475.50,163.96 476.00,164.11 476.50,163.94 477.00,163.73 477.50,164.03 478.00,163.91 478.50,163.74 479.00,163.49 479.50,163.27 480.00,163.59 480.50,163.39 481.00,163.57 481.50,163.54 482.00,163.78 482.50,163.72 483.00,163.94 483.50,164.23 484.00,164.39 484.50,164.44 485.00,164.10 485.50,164.21 486.00,163.90 486.50,163.90 487.00,163.81 487.50,163.83 488.00,164.06 488.50,164.04 489.00,164.11 489.50,164.13 490.00,164.36 490.50,164.37 491.00,164.42 491.50,164.21 492.00,163.67 492.50,163.76 493.00,163.57 493.50,163.19 494.00,163.03 494.50,162.95 495.00,163.17 495.50,162.99 496.00,163.17 496.50,163.02 497.00,163.18 497.50,163.20 498.00,163.31 498.50,163.26 499.00,162.88 499.50,162.76 500.00,162.90 500.50,162.86 501.00,162.69 501.50,162.61 502.00,162.63 502.50,162.68 503.00,163.23 503.50,163.29 504.00,163.54 504.50,163.78 505.00,163.43 505.50,163.41 506.00,163.29 506.50,163.11 507.00,163.19 507.50,162.87" fill="none" stroke="#7b86c2" stroke-width="0.9" stroke-linejoin="round"/><polyline points="379.50,155.31 380.00,155.26 380.50,155.54 381.00,155.58 381.50,155.67 382.00,155.57 382.50,155.88 383.00,155.87 383.50,155.69 384.00,155.52 384.50,155.14 385.00,155.05 385.50,155.00 386.00,154.64 386.50,154.41 387.00,154.47 387.50,154.34 388.00,154.45 388.50,154.46 389.00,154.37 389.50,154.47 390.00,154.73 390.50,154.68 391.00,154.43 391.50,154.18 392.00,154.02 392.50,154.37 393.00,154.44 393.50,154.43 394.00,154.47 394.50,154.71 395.00,154.56 395.50,154.89 396.00,155.15 396.50,155.05 397.00,155.23 397.50,155.10 398.00,155.18 398.50,154.98 399.00,154.82 399.50,155.13 400.00,154.92 400.50,154.87 401.00,154.92 401.50,155.16 402.00,155.21 402.50,155.24 403.00,155.48 403.50,155.68 404.00,155.57 404.50,155.99 405.00,155.73 405.50,155.77 406.00,155.99 406.50,156.01 407.00,156.10 407.50,156.22 408.00,156.22 408.50,156.25 409.00,156.36 409.50,156.36 410.00,156.74 410.50,156.72 411.00,156.84 411.50,156.61 412.00,156.40 412.50,156.48 413.00,156.68 413.50,156.48 414.00,156.27 414.50,156.26 415.00,156.57 415.50,156.38 416.00,156.42 416.50,156.59 417.00,156.45 417.50,156.46 418.00,156.26 418.50,156.37 419.00,155.94 419.50,155.63 420.00,155.51 420.50,155.53 421.00,155.49 421.50,155.52 422.00,155.27 422.50,155.01 423.00,155.10 423.50,155.28 424.00,155.23 424.50,155.30 425.00,155.19 425.50,155.11 426.00,155.20 426.50,154.92 427.00,154.81 427.50,154.71 428.00,154.92 428.50,155.03 429.00,154.89 429.50,154.94 430.00,155.02 430.50,155.00 431.00,155.21 431.50,155.42 432.00,155.41 432.50,155.44 433.00,155.23 433.50,155.44 434.00,155.40 434.50,155.00 435.00,154.93 435.50,155.11 436.00,155.33 436.50,155.33 437.00,155.13 437.50,155.28 438.00,155.13 438.50,155.09 439.00,155.09 439.50,155.21 440.00,155.06 440.50,154.80 441.00,154.81 441.50,154.90 442.00,154.70 442.50,154.91 443.00,154.68 443.50,154.89 444.00,154.84 444.50,155.24 445.00,155.25 445.50,155.63 446.00,155.78 446.50,155.63 447.00,155.33 447.50,155.22 448.00,155.54 448.50,155.46 449.00,155.63 449.50,155.78 450.00,155.60 450.50,155.78 451.00,155.87 451.50,155.97 452.00,155.93 452.50,155.93 453.00,156.16 453.50,156.06 454.00,155.82 454.50,155.55 455.00,155.32 455.50,155.16 456.00,155.14 456.50,155.09 457.00,155.14 457.50,155.21 458.00,154.94 458.50,155.12 459.00,155.12 459.50,155.03 460.00,155.09 460.50,155.16 461.00,154.92 461.50,154.57 462.00,154.25 462.50,154.31 463.00,154.16 463.50,154.28 464.00,154.62 464.50,154.81 465.00,154.62 465.50,154.61 466.00,154.85 466.50,154.76 467.00,154.70 467.50,154.67 468.00,154.72 468.50,154.70 469.00,154.52 469.50,154.32 470.00,154.45 470.50,154.34 471.00,154.37 471.50,154.77 472.00,155.05 472.50,154.73 473.00,155.00 473.50,155.03 474.00,155.15 474.50,155.01 475.00,154.67 475.50,154.55 476.00,154.44 476.50,154.44 477.00,154.34 477.50,154.36 478.00,154.57 478.50,154.67 479.00,154.77 479.50,155.05 480.00,155.02 480.50,154.96 481.00,154.88 481.50,155.04 482.00,154.98 482.50,155.18 483.00,155.11 483.50,154.92 484.00,155.00 484.50,155.24 485.00,155.53 485.50,155.70 486.00,155.57 486.50,155.90 487.00,156.04 487.50,156.18 488.00,156.09 488.50,156.21 489.00,156.00 489.50,155.79 490.00,155.84 490.50,155.63 491.00,155.57 491.50,155.54 492.00,155.63 492.50,155.63 493.00,155.42 493.50,155.35 494.00,155.27 494.50,155.42 495.00,155.50 495.50,155.54 496.00,155.22 496.50,155.21 497.00,155.07 497.50,154.70 498.00,154.82 498.50,155.07 499.00,154.78 499.50,155.08 500.00,155.11 500.50,155.31 501.00,155.17 501.50,155.47 502.00,155.54 502.50,155.29 503.00,155.25 503.50,155.39 504.00,155.28 504.50,155.09 505.00,154.93 505.50,155.25 506.00,154.98 506.50,155.38 507.00,155.46 507.50,155.36" fill="none" stroke="#6674b8" stroke-width="0.9" stroke-linejoin="round"/><polyline points="379.50,146.11 380.00,146.18 380.50,146.27 381.00,146.20 381.50,146.06 382.00,146.25 382.50,146.28 383.00,146.24 383.50,146.11 384.00,146.02 384.50,145.63 385.00,145.49 385.50,145.46 386.00,145.22 386.50,145.19 387.00,145.19 387.50,144.84 388.00,144.72 388.50,145.02 389.00,145.34 389.50,145.35 390.00,145.48 390.50,145.51 391.00,145.37 391.50,145.43 392.00,145.40 392.50,145.46 393.00,145.37 393.50,144.97 394.00,145.16 394.50,145.39 395.00,145.55 395.50,145.50 396.00,145.59 396.50,145.70 397.00,146.04 397.50,146.10 398.00,146.27 398.50,145.89 399.00,145.86 399.50,146.00 400.00,145.83 400.50,146.04 401.00,146.01 401.50,146.07 402.00,146.27 402.50,146.37 403.00,146.65 403.50,146.78 404.00,146.99 404.50,146.80 405.00,146.75 405.50,146.66 406.00,146.92 406.50,147.16 407.00,147.21 407.50,147.27 408.00,147.26 408.50,147.44 409.00,147.46 409.50,147.59 410.00,147.98 410.50,148.06 411.00,147.98 411.50,147.90 412.00,147.80 412.50,147.75 413.00,147.47 413.50,147.44 414.00,147.13 414.50,146.97 415.00,146.97 415.50,147.15 416.00,147.06 416.50,147.13 417.00,147.17 417.50,146.90 418.00,146.70 418.50,146.64 419.00,146.76 419.50,146.40 420.00,146.44 420.50,146.02 421.00,145.96 421.50,145.65 422.00,145.67 422.50,145.49 423.00,145.53 423.50,145.76 424.00,146.03 424.50,145.95 425.00,145.79 425.50,146.05 426.00,145.69 426.50,145.57 427.00,145.76 427.50,145.71 428.00,145.77 428.50,145.79 429.00,145.61 429.50,145.81 430.00,145.73 430.50,145.74 431.00,146.00 431.50,146.23 432.00,146.09 432.50,145.98 433.00,145.94 433.50,145.75 434.00,145.63 434.50,145.65 435.00,145.37 435.50,145.53 436.00,145.39 436.50,145.60 437.00,145.60 437.50,145.52 438.00,145.44 438.50,145.36 439.00,145.32 439.50,145.52 440.00,145.56 440.50,145.53 441.00,145.45 441.50,145.65 442.00,145.60 442.50,145.58 443.00,145.74 443.50,145.57 444.00,145.98 444.50,146.11 445.00,146.18 445.50,146.10 446.00,146.45 446.50,146.61 447.00,146.29 447.50,146.04 448.00,146.28 448.50,146.25 449.00,145.98 449.50,145.96 450.00,146.06 450.50,146.26 451.00,146.31 451.50,146.14 452.00,146.07 452.50,146.19 453.00,145.94 453.50,146.04 454.00,146.20 454.50,145.74 455.00,145.77 455.50,145.60 456.00,145.59 456.50,145.41 457.00,145.40 457.50,145.34 458.00,145.15 458.50,145.45 459.00,145.55 459.50,145.61 460.00,145.56 460.50,145.51 461.00,145.30 461.50,145.05 462.00,144.95 462.50,144.93 463.00,145.05 463.50,145.09 464.00,145.30 464.50,145.27 465.00,145.34 465.50,145.35 466.00,145.51 466.50,145.80 467.00,145.88 467.50,145.92 468.00,145.60 468.50,145.53 469.00,145.32 469.50,144.97 470.00,144.74 470.50,144.75 471.00,144.87 471.50,144.87 472.00,144.74 472.50,144.94 473.00,145.03 473.50,145.27 474.00,145.40 474.50,145.01 475.00,144.74 475.50,144.80 476.00,144.55 476.50,144.90 477.00,145.05 477.50,144.94 478.00,145.05 478.50,145.06 479.00,145.08 479.50,145.39 480.00,145.48 480.50,145.85 481.00,146.04 481.50,146.05 482.00,146.19 482.50,146.05 483.00,145.83 483.50,145.89 484.00,146.12 484.50,146.08 485.00,146.00 485.50,146.03 486.00,146.09 486.50,146.06 487.00,146.40 487.50,146.51 488.00,146.43 488.50,146.57 489.00,146.33 489.50,146.06 490.00,145.97 490.50,145.68 491.00,145.34 491.50,145.29 492.00,145.51 492.50,145.34 493.00,145.59 493.50,145.81 494.00,146.05 494.50,145.86 495.00,145.95 495.50,146.10 496.00,145.82 496.50,145.96 497.00,145.87 497.50,145.45 498.00,145.71 498.50,145.75 499.00,145.77 499.50,145.56 500.00,145.91 500.50,145.97 501.00,146.29 501.50,146.43 502.00,146.45 502.50,146.37 503.00,145.91 503.50,145.84 504.00,145.81 504.50,145.82 505.00,145.64 505.50,145.27 506.00,145.39 506.50,145.22 507.00,145.42 507.50,145.27" fill="none" stroke="#5564ae" stroke-width="0.95" stroke-linejoin="round"/><polyline points="379.50,137.06 380.00,136.92 380.50,136.89 381.00,136.78 381.50,136.73 382.00,136.87 382.50,137.06 383.00,136.85 383.50,137.07 384.00,137.12 384.50,137.04 385.00,137.05 385.50,136.99 386.00,136.82 386.50,136.50 387.00,136.38 387.50,136.19 388.00,135.86 388.50,135.48 389.00,135.34 389.50,135.26 390.00,135.29 390.50,135.59 391.00,135.36 391.50,135.56 392.00,135.55 392.50,135.37 393.00,135.43 393.50,135.25 394.00,135.06 394.50,135.16 395.00,135.23 395.50,135.38 396.00,135.36 396.50,135.54 397.00,135.87 397.50,136.17 398.00,136.13 398.50,136.30 399.00,136.33 399.50,136.29 400.00,136.32 400.50,136.64 401.00,136.62 401.50,136.59 402.00,136.85 402.50,137.04 403.00,137.26 403.50,137.07 404.00,137.02 404.50,137.06 405.00,137.30 405.50,137.63 406.00,137.82 406.50,137.77 407.00,137.78 407.50,137.59 408.00,137.20 408.50,136.91 409.00,136.76 409.50,136.70 410.00,136.94 410.50,137.05 411.00,137.18 411.50,137.23 412.00,137.42 412.50,137.47 413.00,137.54 413.50,137.38 414.00,137.33 414.50,136.97 415.00,137.21 415.50,137.02 416.00,136.80 416.50,136.99 417.00,136.82 417.50,136.83 418.00,136.87 418.50,136.85 419.00,137.05 419.50,137.14 420.00,137.18 420.50,137.23 421.00,137.26 421.50,136.90 422.00,136.54 422.50,136.65 423.00,136.45 423.50,136.48 424.00,136.33 424.50,136.43 425.00,136.09 425.50,135.99 426.00,136.28 426.50,135.99 427.00,136.06 427.50,135.98 428.00,136.03 428.50,135.90 429.00,135.75 429.50,135.66 430.00,135.29 430.50,135.39 431.00,135.41 431.50,135.62 432.00,135.61 432.50,135.72 433.00,135.87 433.50,136.33 434.00,136.37 434.50,136.20 435.00,136.39 435.50,136.53 436.00,136.31 436.50,136.10 437.00,135.96 437.50,135.96 438.00,136.24 438.50,136.30 439.00,136.69 439.50,136.78 440.00,136.64 440.50,136.76 441.00,136.67 441.50,136.47 442.00,136.42 442.50,136.41 443.00,136.53 443.50,136.29 444.00,136.28 444.50,136.37 445.00,136.19 445.50,136.08 446.00,136.26 446.50,136.46 447.00,136.24 447.50,136.42 448.00,136.30 448.50,136.33 449.00,136.43 449.50,136.24 450.00,136.33 450.50,136.25 451.00,136.18 451.50,136.19 452.00,136.46 452.50,136.33 453.00,136.29 453.50,136.42 454.00,136.62 454.50,136.79 455.00,136.69 455.50,136.74 456.00,136.82 456.50,136.67 457.00,136.40 457.50,136.08 458.00,135.95 458.50,136.09 459.00,135.89 459.50,135.84 460.00,135.91 460.50,135.76 461.00,135.71 461.50,135.70 462.00,135.77 462.50,135.63 463.00,135.30 463.50,135.36 464.00,135.20 464.50,134.95 465.00,134.67 465.50,134.53 466.00,134.51 466.50,134.48 467.00,134.67 467.50,134.90 468.00,135.04 468.50,135.11 469.00,135.37 469.50,135.14 470.00,135.05 470.50,134.82 471.00,135.04 471.50,134.88 472.00,134.86 472.50,134.92 473.00,135.25 473.50,135.31 474.00,135.70 474.50,135.57 475.00,135.84 475.50,136.12 476.00,136.10 476.50,136.15 477.00,136.26 477.50,136.08 478.00,135.80 478.50,135.92 479.00,135.70 479.50,135.75 480.00,135.97 480.50,135.99 481.00,136.13 481.50,136.16 482.00,136.46 482.50,136.52 483.00,136.29 483.50,136.48 484.00,136.26 484.50,136.43 485.00,136.32 485.50,136.39 486.00,136.33 486.50,136.44 487.00,136.26 487.50,136.51 488.00,136.69 488.50,136.89 489.00,137.08 489.50,136.82 490.00,136.77 490.50,137.09 491.00,137.06 491.50,136.69 492.00,136.55 492.50,136.59 493.00,136.62 493.50,136.79 494.00,136.45 494.50,136.40 495.00,136.46 495.50,136.68 496.00,136.99 496.50,137.12 497.00,136.86 497.50,136.86 498.00,136.51 498.50,136.43 499.00,136.04 499.50,136.03 500.00,136.10 500.50,136.01 501.00,136.23 501.50,136.40 502.00,136.41 502.50,136.28 503.00,136.37 503.50,136.59 504.00,136.50 504.50,136.52 505.00,136.59 505.50,136.27 506.00,136.42 506.50,136.28 507.00,136.34 507.50,136.17" fill="none" stroke="#4757a5" stroke-width="0.95" stroke-linejoin="round"/><polyline points="379.50,128.70 380.00,128.78 380.50,128.85 381.00,128.71 381.50,128.95 382.00,128.68 382.50,128.81 383.00,128.76 383.50,128.41 384.00,128.51 384.50,128.33 385.00,127.85 385.50,127.88 386.00,127.82 386.50,127.70 387.00,127.40 387.50,127.60 388.00,127.89 388.50,128.02 389.00,127.78 389.50,127.82 390.00,127.54 390.50,127.51 391.00,127.27 391.50,127.21 392.00,126.95 392.50,126.92 393.00,126.86 393.50,126.79 394.00,127.10 394.50,127.34 395.00,127.36 395.50,127.53 396.00,127.57 396.50,127.68 397.00,127.49 397.50,127.39 398.00,127.34 398.50,127.40 399.00,127.44 399.50,127.70 400.00,127.84 400.50,127.78 401.00,127.90 401.50,128.28 402.00,128.64 402.50,128.62 403.00,128.92 403.50,128.96 404.00,129.39 404.50,129.79 405.00,129.62 405.50,129.76 406.00,130.05 406.50,129.93 407.00,129.81 407.50,130.11 408.00,130.37 408.50,130.64 409.00,130.98 409.50,130.99 410.00,131.16 410.50,131.42 411.00,131.15 411.50,130.91 412.00,130.98 412.50,130.74 413.00,130.88 413.50,130.94 414.00,130.83 414.50,130.79 415.00,130.80 415.50,130.50 416.00,130.38 416.50,130.36 417.00,130.65 417.50,130.84 418.00,130.58 418.50,130.31 419.00,130.22 419.50,130.22 420.00,130.08 420.50,129.62 421.00,129.41 421.50,129.28 422.00,129.66 422.50,129.88 423.00,129.54 423.50,129.76 424.00,129.95 424.50,129.98 425.00,129.57 425.50,129.61 426.00,129.16 426.50,128.74 427.00,128.48 427.50,128.28 428.00,128.61 428.50,128.53 429.00,128.65 429.50,128.55 430.00,128.65 430.50,128.85 431.00,128.67 431.50,128.91 432.00,128.50 432.50,128.64 433.00,128.29 433.50,128.28 434.00,128.08 434.50,128.22 435.00,128.00 435.50,128.03 436.00,128.29 436.50,128.47 437.00,128.49 437.50,128.52 438.00,128.93 438.50,129.06 439.00,128.81 439.50,128.83 440.00,128.82 440.50,129.09 441.00,128.79 441.50,128.99 442.00,128.84 442.50,128.89 443.00,128.89 443.50,129.31 444.00,129.60 444.50,129.52 445.00,129.41 445.50,129.38 446.00,129.52 446.50,129.04 447.00,128.68 447.50,128.30 448.00,128.29 448.50,127.77 449.00,127.54 449.50,127.47 450.00,127.37 450.50,126.97 451.00,126.96 451.50,126.82 452.00,126.61 452.50,126.02 453.00,125.50 453.50,125.32 454.00,124.86 454.50,124.77 455.00,124.26 455.50,124.13 456.00,123.98 456.50,123.98 457.00,123.97 457.50,123.90 458.00,123.85 458.50,123.97 459.00,123.94 459.50,124.05 460.00,124.24 460.50,124.15 461.00,124.28 461.50,124.26 462.00,124.59 462.50,124.81 463.00,124.87 463.50,125.27 464.00,125.82 464.50,126.29 465.00,127.00 465.50,127.52 466.00,128.28 466.50,128.74 467.00,128.91 467.50,129.57 468.00,129.83 468.50,130.13 469.00,130.57 469.50,130.73 470.00,130.98 470.50,131.57 471.00,131.71 471.50,132.24 472.00,132.44 472.50,132.59 473.00,132.53 473.50,132.43 474.00,132.47 474.50,132.47 475.00,132.32 475.50,132.06 476.00,131.87 476.50,131.36 477.00,131.24 477.50,130.81 478.00,130.46 478.50,130.52 479.00,130.20 479.50,130.00 480.00,129.88 480.50,129.78 481.00,129.50 481.50,129.19 482.00,129.02 482.50,129.09 483.00,129.08 483.50,128.94 484.00,128.67 484.50,128.73 485.00,128.85 485.50,128.63 486.00,128.64 486.50,128.94 487.00,128.92 487.50,128.65 488.00,128.43 488.50,128.43 489.00,128.27 489.50,128.04 490.00,127.79 490.50,127.97 491.00,127.69 491.50,127.78 492.00,127.75 492.50,127.92 493.00,127.92 493.50,127.89 494.00,128.11 494.50,128.02 495.00,128.24 495.50,128.40 496.00,128.05 496.50,127.94 497.00,127.85 497.50,127.82 498.00,128.04 498.50,127.78 499.00,127.73 499.50,128.19 500.00,128.48 500.50,128.33 501.00,128.40 501.50,128.67 502.00,128.94 502.50,128.57 503.00,128.52 503.50,128.77 504.00,128.66 504.50,128.63 505.00,128.96 505.50,129.11 506.00,128.96 506.50,129.15 507.00,129.30 507.50,129.24" fill="none" stroke="#3a4899" stroke-width="0.95" stroke-linejoin="round"/><polyline points="379.50,119.60 380.00,119.44 380.50,119.47 381.00,119.34 381.50,119.57 382.00,119.70 382.50,119.68 383.00,119.91 383.50,119.74 384.00,119.62 384.50,119.90 385.00,120.04 385.50,120.01 386.00,119.95 386.50,119.58 387.00,119.53 387.50,119.84 388.00,119.69 388.50,119.88 389.00,120.04 389.50,120.58 390.00,120.57 390.50,120.55 391.00,120.67 391.50,121.01 392.00,120.97 392.50,121.04 393.00,120.99 393.50,121.00 394.00,121.07 394.50,120.97 395.00,120.69 395.50,120.65 396.00,121.11 396.50,121.25 397.00,121.60 397.50,121.63 398.00,121.83 398.50,121.62 399.00,121.72 399.50,121.71 400.00,121.69 400.50,121.42 401.00,121.23 401.50,121.37 402.00,121.49 402.50,121.43 403.00,121.71 403.50,121.99 404.00,122.17 404.50,121.95 405.00,122.02 405.50,122.12 406.00,122.08 406.50,121.83 407.00,121.62 407.50,121.73 408.00,121.93 408.50,121.64 409.00,121.90 409.50,121.84 410.00,121.92 410.50,122.29 411.00,122.40 411.50,122.15 412.00,122.12 412.50,122.06 413.00,122.07 413.50,122.00 414.00,121.92 414.50,121.58 415.00,121.54 415.50,121.44 416.00,121.31 416.50,121.32 417.00,121.41 417.50,121.64 418.00,121.76 418.50,121.53 419.00,121.44 419.50,121.45 420.00,121.20 420.50,120.80 421.00,120.88 421.50,120.50 422.00,120.64 422.50,120.39 423.00,120.25 423.50,120.36 424.00,120.48 424.50,120.53 425.00,120.83 425.50,120.99 426.00,120.75 426.50,120.87 427.00,120.80 427.50,120.65 428.00,120.57 428.50,120.53 429.00,120.36 429.50,120.02 430.00,120.14 430.50,119.99 431.00,120.41 431.50,120.42 432.00,120.48 432.50,120.51 433.00,120.39 433.50,120.30 434.00,120.04 434.50,119.73 435.00,119.54 435.50,119.52 436.00,119.29 436.50,119.24 437.00,119.38 437.50,119.23 438.00,119.04 438.50,119.00 439.00,119.14 439.50,119.35 440.00,119.45 440.50,118.97 441.00,119.01 441.50,118.96 442.00,118.82 442.50,118.82 443.00,118.43 443.50,118.55 444.00,118.59 444.50,118.44 445.00,118.81 445.50,118.71 446.00,118.90 446.50,118.86 447.00,118.93 447.50,119.15 448.00,118.80 448.50,118.75 449.00,118.65 449.50,118.37 450.00,117.85 450.50,117.55 451.00,117.21 451.50,116.87 452.00,117.01 452.50,116.84 453.00,116.70 453.50,116.25 454.00,116.08 454.50,115.71 455.00,115.50 455.50,115.43 456.00,115.27 456.50,115.11 457.00,114.66 457.50,114.62 458.00,114.48 458.50,114.31 459.00,114.51 459.50,114.41 460.00,114.34 460.50,114.31 461.00,113.84 461.50,113.88 462.00,113.51 462.50,113.74 463.00,113.82 463.50,113.92 464.00,114.20 464.50,114.74 465.00,115.17 465.50,115.71 466.00,116.23 466.50,116.91 467.00,117.13 467.50,117.17 468.00,117.32 468.50,118.12 469.00,118.86 469.50,119.63 470.00,120.30 470.50,121.05 471.00,121.74 471.50,122.57 472.00,123.53 472.50,124.01 473.00,124.24 473.50,124.24 474.00,124.27 474.50,124.06 475.00,124.14 475.50,123.95 476.00,123.54 476.50,123.13 477.00,122.89 477.50,122.80 478.00,122.31 478.50,122.41 479.00,122.11 479.50,122.04 480.00,121.74 480.50,121.76 481.00,121.87 481.50,121.80 482.00,121.89 482.50,121.67 483.00,121.89 483.50,121.68 484.00,121.55 484.50,121.46 485.00,121.32 485.50,121.18 486.00,121.33 486.50,121.10 487.00,120.88 487.50,120.64 488.00,120.56 488.50,120.66 489.00,120.52 489.50,120.15 490.00,119.77 490.50,119.53 491.00,119.49 491.50,119.12 492.00,118.90 492.50,118.84 493.00,118.89 493.50,119.11 494.00,119.24 494.50,118.93 495.00,118.89 495.50,119.19 496.00,119.11 496.50,119.06 497.00,119.04 497.50,119.11 498.00,119.21 498.50,119.30 499.00,118.97 499.50,119.28 500.00,119.49 500.50,119.76 501.00,120.07 501.50,119.92 502.00,119.97 502.50,120.25 503.00,120.40 503.50,120.28 504.00,120.40 504.50,120.37 505.00,120.29 505.50,120.23 506.00,120.08 506.50,120.06 507.00,119.96 507.50,119.92" fill="none" stroke="#323e96" stroke-width="1.0" stroke-linejoin="round"/><line x1="494.5" y1="192.3" x2="507.0" y2="192.3" stroke="#4d4d4d" stroke-width="1.0"/><text x="498.2" y="202.3" font-size="8.2" text-anchor="middle" fill="#231f20">100 ms</text><text x="348.0" y="6.9" font-size="9" text-anchor="start" font-weight="bold" fill="#231f20">f</text><text x="443.0" y="11.0" font-size="8.2" text-anchor="middle" font-weight="bold" fill="#231f20">ER14 macro-micro 1</text><rect x="218.33" y="69.38" width="12.85" height="0.02" fill="#66a9d8" stroke="#111" stroke-width="0.9"/><rect x="231.18" y="69.37" width="12.85" height="0.03" fill="#66a9d8" stroke="#111" stroke-width="0.9"/><rect x="244.03" y="69.35" width="12.85" height="0.05" fill="#66a9d8" stroke="#111" stroke-width="0.9"/><rect x="256.88" y="69.32" width="12.85" height="0.08" fill="#66a9d8" stroke="#111" stroke-width="0.9"/><rect x="269.73" y="69.25" width="12.85" height="0.15" fill="#66a9d8" stroke="#111" stroke-width="0.9"/><rect x="282.57" y="68.53" width="12.85" height="0.87" fill="#66a9d8" stroke="#111" stroke-width="0.9"/><rect x="295.43" y="66.32" width="12.85" height="3.08" fill="#66a9d8" stroke="#111" stroke-width="0.9"/><rect x="308.27" y="29.31" width="12.85" height="40.09" fill="#66a9d8" stroke="#111" stroke-width="0.9"/><line x1="211.9" y1="69.4" x2="211.9" y2="64.9" stroke="#333" stroke-width="0.7"/><line x1="224.75" y1="69.4" x2="224.75" y2="64.9" stroke="#333" stroke-width="0.7"/><line x1="237.6" y1="69.4" x2="237.6" y2="64.9" stroke="#333" stroke-width="0.7"/><line x1="250.45" y1="69.4" x2="250.45" y2="64.9" stroke="#333" stroke-width="0.7"/><line x1="263.3" y1="69.4" x2="263.3" y2="64.9" stroke="#333" stroke-width="0.7"/><line x1="276.15" y1="69.4" x2="276.15" y2="64.9" stroke="#333" stroke-width="0.7"/><line x1="289.0" y1="69.4" x2="289.0" y2="64.9" stroke="#333" stroke-width="0.7"/><line x1="301.85" y1="69.4" x2="301.85" y2="64.9" stroke="#333" stroke-width="0.7"/><line x1="314.7" y1="69.4" x2="314.7" y2="64.9" stroke="#333" stroke-width="0.7"/><line x1="199.6" y1="17.7" x2="199.6" y2="69.80000000000001" stroke="#333" stroke-width="0.8"/><line x1="199.2" y1="69.4" x2="327.6" y2="69.4" stroke="#333" stroke-width="0.8"/><line x1="199.6" y1="18.0" x2="201.6" y2="18.0" stroke="#333" stroke-width="0.7"/><line x1="199.6" y1="43.7" x2="201.6" y2="43.7" stroke="#333" stroke-width="0.7"/><text x="199.2" y="20.9" font-size="8.2" text-anchor="end" fill="#231f20">1000</text><text x="199.2" y="46.6" font-size="8.2" text-anchor="end" fill="#231f20">500</text><text x="198.1" y="72.4" font-size="8.2" text-anchor="end" fill="#231f20">0</text><text x="211.9" y="77.10000000000001" font-size="8.2" text-anchor="middle" fill="#231f20">0</text><text x="237.6" y="77.10000000000001" font-size="8.2" text-anchor="middle" fill="#231f20">2</text><text x="263.3" y="77.10000000000001" font-size="8.2" text-anchor="middle" fill="#231f20">4</text><text x="289.0" y="77.10000000000001" font-size="8.2" text-anchor="middle" fill="#231f20">6</text><text x="314.7" y="77.10000000000001" font-size="8.2" text-anchor="middle" fill="#231f20">8</text><text x="265.0" y="86.5" font-size="8.2" text-anchor="middle" fill="#231f20"># of coupled microwire channels</text><text x="177.6" y="47.6" font-size="8.2" text-anchor="middle" fill="#231f20" transform="rotate(-90 177.6 47.6)">Macro-Ripple #</text><text x="171.5" y="6.9" font-size="9" text-anchor="start" font-weight="bold" fill="#231f20">c</text><rect x="570.98" y="68.18" width="12.95" height="1.02" fill="#66a9d8" stroke="#111" stroke-width="0.9"/><rect x="583.92" y="66.74" width="12.95" height="2.46" fill="#66a9d8" stroke="#111" stroke-width="0.9"/><rect x="596.88" y="63.31" width="12.95" height="5.89" fill="#66a9d8" stroke="#111" stroke-width="0.9"/><rect x="609.83" y="57.17" width="12.95" height="12.03" fill="#66a9d8" stroke="#111" stroke-width="0.9"/><rect x="622.77" y="48.46" width="12.95" height="20.74" fill="#66a9d8" stroke="#111" stroke-width="0.9"/><rect x="635.73" y="34.38" width="12.95" height="34.82" fill="#66a9d8" stroke="#111" stroke-width="0.9"/><rect x="648.67" y="31.31" width="12.95" height="37.89" fill="#66a9d8" stroke="#111" stroke-width="0.9"/><rect x="661.62" y="45.39" width="12.95" height="23.81" fill="#66a9d8" stroke="#111" stroke-width="0.9"/><line x1="564.5" y1="69.2" x2="564.5" y2="64.7" stroke="#333" stroke-width="0.7"/><line x1="577.45" y1="69.2" x2="577.45" y2="64.7" stroke="#333" stroke-width="0.7"/><line x1="590.4" y1="69.2" x2="590.4" y2="64.7" stroke="#333" stroke-width="0.7"/><line x1="603.35" y1="69.2" x2="603.35" y2="64.7" stroke="#333" stroke-width="0.7"/><line x1="616.3" y1="69.2" x2="616.3" y2="64.7" stroke="#333" stroke-width="0.7"/><line x1="629.25" y1="69.2" x2="629.25" y2="64.7" stroke="#333" stroke-width="0.7"/><line x1="642.2" y1="69.2" x2="642.2" y2="64.7" stroke="#333" stroke-width="0.7"/><line x1="655.15" y1="69.2" x2="655.15" y2="64.7" stroke="#333" stroke-width="0.7"/><line x1="668.1" y1="69.2" x2="668.1" y2="64.7" stroke="#333" stroke-width="0.7"/><line x1="552.3" y1="17.7" x2="552.3" y2="69.60000000000001" stroke="#333" stroke-width="0.8"/><line x1="551.9" y1="69.2" x2="679.3" y2="69.2" stroke="#333" stroke-width="0.8"/><line x1="552.3" y1="18.0" x2="554.3" y2="18.0" stroke="#333" stroke-width="0.7"/><line x1="552.3" y1="43.6" x2="554.3" y2="43.6" stroke="#333" stroke-width="0.7"/><text x="551.0999999999999" y="20.9" font-size="8.2" text-anchor="end" fill="#231f20">1000</text><text x="551.0999999999999" y="46.5" font-size="8.2" text-anchor="end" fill="#231f20">500</text><text x="564.5" y="78.9" font-size="8.2" text-anchor="middle" fill="#231f20">0</text><text x="590.4" y="78.9" font-size="8.2" text-anchor="middle" fill="#231f20">2</text><text x="616.3" y="78.9" font-size="8.2" text-anchor="middle" fill="#231f20">4</text><text x="642.2" y="78.9" font-size="8.2" text-anchor="middle" fill="#231f20">6</text><text x="668.1" y="78.9" font-size="8.2" text-anchor="middle" fill="#231f20">8</text><text x="607.4" y="87.80000000000001" font-size="8.2" text-anchor="middle" fill="#231f20"># of coupled microwire channels</text><text x="530.4" y="50.4" font-size="8.2" text-anchor="middle" fill="#231f20" transform="rotate(-90 530.4 50.4)">Macro-Ripple #</text><text x="521.3" y="7.0" font-size="9" text-anchor="start" font-weight="bold" fill="#231f20">h</text><path d="M217.20,109.20 C218.42,109.75 222.85,112.02 224.50,112.50 C226.15,112.98 226.02,111.97 227.10,112.10 C228.18,112.23 229.68,112.95 231.00,113.30 C232.32,113.65 233.68,114.23 235.00,114.20 C236.32,114.17 237.82,113.53 238.90,113.10 C239.98,112.67 240.40,111.15 241.50,111.60 C242.60,112.05 244.40,114.67 245.50,115.80 C246.60,116.93 247.33,117.85 248.10,118.40 C248.87,118.95 249.33,117.90 250.10,119.10 C250.87,120.30 251.93,125.50 252.70,125.60 C253.47,125.70 254.00,117.67 254.70,119.70 C255.40,121.73 256.07,135.50 256.90,137.80 C257.73,140.10 258.80,133.12 259.70,133.50 C260.60,133.88 261.38,140.87 262.30,140.10 C263.22,139.33 264.17,132.08 265.20,128.90 C266.23,125.72 267.52,123.40 268.50,121.00 C269.48,118.60 269.90,116.35 271.10,114.50 C272.30,112.65 274.28,111.00 275.70,109.90 C277.12,108.80 278.07,107.75 279.60,107.90 C281.13,108.05 283.47,110.25 284.90,110.80 C286.33,111.35 286.93,111.65 288.20,111.20 C289.47,110.75 291.78,108.62 292.50,108.10" fill="none" stroke="#3aaee4" stroke-width="1.0" stroke-linejoin="round" stroke-linecap="round"/><path d="M217.20,138.70 C217.77,138.65 218.80,138.38 220.60,138.40 C222.40,138.42 225.37,138.67 228.00,138.80 C230.63,138.93 234.55,138.78 236.40,139.20 C238.25,139.62 238.22,141.08 239.10,141.30 C239.98,141.52 240.72,140.40 241.70,140.50 C242.68,140.60 244.12,140.62 245.00,141.90 C245.88,143.18 246.33,147.03 247.00,148.20 C247.67,149.37 248.45,148.45 249.00,148.90 C249.55,149.35 249.80,149.92 250.30,150.90 C250.80,151.88 251.28,155.30 252.00,154.80 C252.72,154.30 253.78,146.58 254.60,147.90 C255.42,149.22 256.08,161.43 256.90,162.70 C257.72,163.97 258.67,155.93 259.50,155.50 C260.33,155.07 261.12,160.43 261.90,160.10 C262.68,159.77 263.38,155.15 264.20,153.50 C265.02,151.85 265.93,151.63 266.80,150.20 C267.67,148.77 268.52,146.77 269.40,144.90 C270.28,143.03 271.22,140.65 272.10,139.00 C272.98,137.35 273.72,136.13 274.70,135.00 C275.68,133.87 276.73,132.67 278.00,132.20 C279.27,131.73 280.72,131.98 282.30,132.20 C283.88,132.42 285.80,132.73 287.50,133.50 C289.20,134.27 291.67,136.25 292.50,136.80" fill="none" stroke="#2e3a94" stroke-width="1.0" stroke-linejoin="round" stroke-linecap="round"/><path d="M217.20,161.80 C218.65,161.95 222.70,162.10 225.90,162.70 C229.10,163.30 233.55,164.33 236.40,165.40 C239.25,166.47 241.42,168.40 243.00,169.10 C244.58,169.80 245.13,168.78 245.90,169.60 C246.67,170.42 246.98,173.82 247.60,174.00 C248.22,174.18 248.78,169.60 249.60,170.70 C250.42,171.80 251.62,180.28 252.50,180.60 C253.38,180.92 254.17,171.62 254.90,172.60 C255.63,173.58 256.13,186.05 256.90,186.50 C257.67,186.95 258.67,176.07 259.50,175.30 C260.33,174.53 261.12,182.23 261.90,181.90 C262.68,181.57 263.38,174.95 264.20,173.30 C265.02,171.65 265.70,173.32 266.80,172.00 C267.90,170.68 269.27,167.82 270.80,165.40 C272.33,162.98 274.13,159.30 276.00,157.50 C277.87,155.70 280.02,155.00 282.00,154.60 C283.98,154.20 286.07,154.80 287.90,155.10 C289.73,155.40 292.15,156.18 293.00,156.40" fill="none" stroke="#9c3098" stroke-width="1.0" stroke-linejoin="round" stroke-linecap="round"/><line x1="207.3" y1="109.8" x2="207.3" y2="124.4" stroke="#333" stroke-width="0.9"/><text x="190.1" y="120.1" font-size="8.2" text-anchor="middle" fill="#231f20">50 µV</text><text x="302.6" y="113.9" font-size="8.2" text-anchor="middle" fill="#231f20">6</text><text x="302.6" y="137.9" font-size="8.2" text-anchor="middle" fill="#231f20">7</text><text x="302.6" y="158.9" font-size="8.2" text-anchor="middle" fill="#231f20">8</text><text x="322.40000000000003" y="146.2" font-size="8.2" text-anchor="middle" fill="#231f20" transform="rotate(90 322.40000000000003 146.2)"># of coupled</text><text x="313.5" y="146.2" font-size="8.2" text-anchor="middle" fill="#231f20" transform="rotate(90 313.5 146.2)">microwire channels</text><line x1="279.3" y1="184.7" x2="297.6" y2="184.7" stroke="#777" stroke-width="1.1"/><text x="285.6" y="197.6" font-size="8.2" text-anchor="middle" fill="#231f20">50 ms</text><text x="171.6" y="104.7" font-size="9" text-anchor="start" font-weight="bold" fill="#231f20">d</text><path d="M565.30,127.30 C566.60,127.20 570.58,126.70 573.10,126.70 C575.62,126.70 578.75,127.37 580.40,127.30 C582.05,127.23 581.68,126.53 583.00,126.30 C584.32,126.07 587.05,126.17 588.30,125.90 C589.55,125.63 589.85,124.53 590.50,124.70 C591.15,124.87 591.58,127.25 592.20,126.90 C592.82,126.55 593.55,122.37 594.20,122.60 C594.85,122.83 595.38,128.67 596.10,128.30 C596.82,127.93 597.67,119.38 598.50,120.40 C599.33,121.42 600.28,134.73 601.10,134.40 C601.92,134.07 602.63,118.22 603.40,118.40 C604.17,118.58 604.87,134.08 605.70,135.50 C606.53,136.92 607.58,127.23 608.40,126.90 C609.22,126.57 609.83,133.27 610.60,133.50 C611.37,133.73 612.28,128.73 613.00,128.30 C613.72,127.87 614.10,131.13 614.90,130.90 C615.70,130.67 616.00,128.55 617.80,126.90 C619.60,125.25 623.07,123.12 625.70,121.00 C628.33,118.88 631.02,116.38 633.60,114.20 C636.18,112.02 639.93,108.95 641.20,107.90" fill="none" stroke="#3aaee4" stroke-width="1.0" stroke-linejoin="round" stroke-linecap="round"/><path d="M565.30,151.50 C567.07,151.57 572.17,152.12 575.90,151.90 C579.63,151.68 585.18,150.70 587.70,150.20 C590.22,149.70 590.22,148.78 591.00,148.90 C591.78,149.02 591.80,151.28 592.40,150.90 C593.00,150.52 593.90,146.17 594.60,146.60 C595.30,147.03 595.87,154.00 596.60,153.50 C597.33,153.00 598.22,142.72 599.00,143.60 C599.78,144.48 600.58,158.95 601.30,158.80 C602.02,158.65 602.55,142.48 603.30,142.70 C604.05,142.92 604.98,158.63 605.80,160.10 C606.62,161.57 607.40,151.72 608.20,151.50 C609.00,151.28 609.83,158.35 610.60,158.80 C611.37,159.25 612.10,154.65 612.80,154.20 C613.50,153.75 613.92,156.43 614.80,156.10 C615.68,155.77 616.23,154.18 618.10,152.20 C619.97,150.22 622.70,147.07 626.00,144.20 C629.30,141.33 635.37,136.95 637.90,135.00 C640.43,133.05 640.65,132.92 641.20,132.50" fill="none" stroke="#2e3a94" stroke-width="1.0" stroke-linejoin="round" stroke-linecap="round"/><path d="M565.30,172.60 C567.07,172.32 572.17,171.45 575.90,170.90 C579.63,170.35 585.25,169.38 587.70,169.30 C590.15,169.22 589.72,170.83 590.60,170.40 C591.48,169.97 592.20,166.10 593.00,166.70 C593.80,167.30 594.52,174.40 595.40,174.00 C596.28,173.60 597.37,162.98 598.30,164.30 C599.23,165.62 600.17,181.90 601.00,181.90 C601.83,181.90 602.50,163.97 603.30,164.30 C604.10,164.63 604.93,182.18 605.80,183.90 C606.67,185.62 607.65,174.93 608.50,174.60 C609.35,174.27 610.07,181.50 610.90,181.90 C611.73,182.30 612.78,177.55 613.50,177.00 C614.22,176.45 614.43,179.00 615.20,178.60 C615.97,178.20 615.85,176.92 618.10,174.60 C620.35,172.28 624.78,168.10 628.70,164.70 C632.62,161.30 639.45,155.95 641.60,154.20" fill="none" stroke="#9c3098" stroke-width="1.0" stroke-linejoin="round" stroke-linecap="round"/><line x1="552.5" y1="110.0" x2="552.5" y2="129.5" stroke="#333" stroke-width="0.9"/><text x="536.4" y="124.1" font-size="8.2" text-anchor="middle" fill="#231f20">50 µV</text><text x="648.9" y="112.9" font-size="8.2" text-anchor="middle" fill="#231f20">6</text><text x="648.9" y="136.65" font-size="8.2" text-anchor="middle" fill="#231f20">7</text><text x="648.9" y="158.4" font-size="8.2" text-anchor="middle" fill="#231f20">8</text><text x="675.6" y="146.8" font-size="8.2" text-anchor="middle" fill="#231f20" transform="rotate(90 675.6 146.8)"># of coupled</text><text x="665.6" y="146.8" font-size="8.2" text-anchor="middle" fill="#231f20" transform="rotate(90 665.6 146.8)">microwire channels</text><line x1="627.5" y1="185.1" x2="646.5" y2="185.1" stroke="#777" stroke-width="1.1"/><text x="634.1" y="197.5" font-size="8.2" text-anchor="middle" fill="#231f20">50 ms</text><text x="521.3" y="107.8" font-size="9" text-anchor="start" font-weight="bold" fill="#231f20">i</text><path d="M28.00,372.20 C28.21,365.49 28.77,343.97 29.27,331.94 C29.77,319.91 30.35,307.65 30.98,300.02 C31.62,292.40 32.31,290.02 33.08,286.20 C33.85,282.39 34.72,279.15 35.62,277.14 C36.52,275.12 37.52,274.11 38.48,274.11 C39.43,274.11 40.12,274.69 41.34,277.14 C42.55,279.58 44.40,283.90 45.78,288.80 C47.16,293.69 48.32,301.75 49.59,306.50 C50.86,311.25 51.18,317.03 53.40,317.30 C55.62,317.57 59.75,312.39 62.92,308.15 C66.10,303.91 69.06,297.35 72.45,291.86 C75.84,286.37 80.07,276.16 83.25,275.21 C86.42,274.26 88.85,281.92 91.50,286.19 C94.15,290.46 96.69,296.13 99.12,300.83 C101.55,305.53 103.35,311.93 106.11,314.37 C108.86,316.81 112.24,313.27 115.63,315.47 C119.02,317.67 123.04,326.51 126.42,327.55 C129.81,328.58 132.77,323.70 135.95,321.69 C139.12,319.68 142.30,316.81 145.48,315.47 C148.65,314.13 153.41,313.94 155.00,313.64" fill="none" stroke="#f4a0a3" stroke-width="0.9" stroke-linejoin="round" stroke-linecap="round"/><path d="M28.00,372.20 C28.21,365.49 28.77,344.09 29.27,331.94 C29.77,319.79 30.35,307.13 30.98,299.29 C31.62,291.45 32.31,288.86 33.08,284.89 C33.85,280.91 34.72,277.53 35.62,275.43 C36.52,273.33 37.52,272.28 38.48,272.28 C39.43,272.28 40.12,272.99 41.34,275.43 C42.55,277.88 44.40,282.09 45.78,286.97 C47.16,291.84 48.32,299.92 49.59,304.67 C50.86,309.42 51.18,315.20 53.40,315.47 C55.62,315.74 59.75,310.50 62.92,306.32 C66.10,302.14 69.06,295.77 72.45,290.40 C75.84,285.03 80.07,275.00 83.25,274.11 C86.42,273.23 88.85,280.64 91.50,285.09 C94.15,289.54 96.69,296.07 99.12,300.83 C101.55,305.59 103.35,310.89 106.11,313.64 C108.86,316.38 112.24,314.86 115.63,317.30 C119.02,319.74 123.04,327.37 126.42,328.28 C129.81,329.20 132.77,325.35 135.95,322.79 C139.12,320.23 142.30,313.82 145.48,312.91 C148.65,311.99 153.41,316.57 155.00,317.30" fill="none" stroke="#f4a0a3" stroke-width="0.9" stroke-linejoin="round" stroke-linecap="round"/><path d="M28.00,372.20 C28.21,365.49 28.77,342.60 29.27,331.94 C29.77,321.28 30.35,313.39 30.98,308.22 C31.62,303.06 32.31,302.97 33.08,300.96 C33.85,298.96 34.72,297.26 35.62,296.20 C36.52,295.14 37.52,294.61 38.48,294.61 C39.43,294.61 40.12,295.16 41.34,296.20 C42.55,297.23 44.40,298.81 45.78,300.83 C47.16,302.85 48.32,306.32 49.59,308.33 C50.86,310.35 51.18,313.67 53.40,312.91 C55.62,312.15 59.75,307.48 62.92,303.76 C66.10,300.04 69.06,295.03 72.45,290.58 C75.84,286.13 80.07,277.47 83.25,277.04 C86.42,276.61 88.85,284.06 91.50,288.02 C94.15,291.98 96.69,296.07 99.12,300.83 C101.55,305.59 103.35,316.20 106.11,316.57 C108.86,316.93 112.24,301.38 115.63,303.03 C119.02,304.67 123.04,323.46 126.42,326.45 C129.81,329.44 132.77,322.97 135.95,320.96 C139.12,318.95 142.30,314.37 145.48,314.37 C148.65,314.37 153.41,319.86 155.00,320.96" fill="none" stroke="#f07c80" stroke-width="0.8" stroke-linejoin="round" stroke-linecap="round"/><path d="M28.00,372.20 C28.21,365.49 28.77,342.38 29.27,331.94 C29.77,321.50 30.35,314.31 30.98,309.54 C31.62,304.77 32.31,305.05 33.08,303.33 C33.85,301.62 34.72,300.17 35.62,299.26 C36.52,298.35 37.52,297.90 38.48,297.90 C39.43,297.90 40.12,298.85 41.34,299.26 C42.55,299.67 44.40,299.70 45.78,300.39 C47.16,301.08 48.32,302.59 49.59,303.39 C50.86,304.20 51.18,306.44 53.40,305.22 C55.62,304.00 59.75,298.45 62.92,296.07 C66.10,293.69 69.06,292.72 72.45,290.95 C75.84,289.18 80.07,284.54 83.25,285.46 C86.42,286.37 88.85,293.88 91.50,296.44 C94.15,299.00 96.69,298.57 99.12,300.83 C101.55,303.09 103.35,307.85 106.11,309.98 C108.86,312.12 112.24,311.20 115.63,313.64 C119.02,316.08 123.04,324.01 126.42,324.62 C129.81,325.23 132.77,319.74 135.95,317.30 C139.12,314.86 142.30,310.90 145.48,309.98 C148.65,309.06 153.41,311.50 155.00,311.81" fill="none" stroke="#ec5056" stroke-width="0.9" stroke-linejoin="round" stroke-linecap="round"/><path d="M28.00,372.20 C28.21,365.49 28.77,342.46 29.27,331.94 C29.77,321.42 30.35,314.00 30.98,309.10 C31.62,304.20 32.31,304.35 33.08,302.54 C33.85,300.73 34.72,299.20 35.62,298.24 C36.52,297.28 37.52,296.80 38.48,296.80 C39.43,296.80 40.12,297.39 41.34,298.24 C42.55,299.09 44.40,300.27 45.78,301.91 C47.16,303.54 48.32,306.41 49.59,308.06 C50.86,309.71 51.18,312.71 53.40,311.81 C55.62,310.91 59.75,305.68 62.92,302.66 C66.10,299.64 69.06,296.74 72.45,293.69 C75.84,290.64 80.07,284.09 83.25,284.36 C86.42,284.63 88.85,292.60 91.50,295.34 C94.15,298.09 96.69,297.47 99.12,300.83 C101.55,304.19 103.35,312.42 106.11,315.47 C108.86,318.52 112.24,316.20 115.63,319.13 C119.02,322.06 123.04,332.12 126.42,333.04 C129.81,333.95 132.77,327.24 135.95,324.62 C139.12,322.00 142.30,316.69 145.48,317.30 C148.65,317.91 153.41,326.45 155.00,328.28" fill="none" stroke="#ea4046" stroke-width="1.0" stroke-linejoin="round" stroke-linecap="round"/><path d="M28.00,372.20 C28.21,365.49 28.77,342.70 29.27,331.94 C29.77,321.18 30.35,312.98 30.98,307.64 C31.62,302.30 32.31,302.04 33.08,299.91 C33.85,297.77 34.72,295.96 35.62,294.83 C36.52,293.71 37.52,293.14 38.48,293.14 C39.43,293.14 40.12,293.88 41.34,294.83 C42.55,295.79 44.40,297.05 45.78,298.87 C47.16,300.69 48.32,303.92 49.59,305.77 C50.86,307.62 51.18,310.80 53.40,309.98 C55.62,309.16 59.75,303.85 62.92,300.83 C66.10,297.81 69.06,294.91 72.45,291.86 C75.84,288.81 80.07,282.26 83.25,282.53 C86.42,282.80 88.85,290.46 91.50,293.51 C94.15,296.56 96.69,297.78 99.12,300.83 C101.55,303.88 103.35,309.55 106.11,311.81 C108.86,314.07 112.24,311.63 115.63,314.37 C119.02,317.12 123.04,327.49 126.42,328.28 C129.81,329.07 132.77,321.88 135.95,319.13 C139.12,316.38 142.30,312.42 145.48,311.81 C148.65,311.20 153.41,314.86 155.00,315.47" fill="none" stroke="#ea4046" stroke-width="1.0" stroke-linejoin="round" stroke-linecap="round"/><path d="M28.00,372.20 C28.21,365.49 28.77,342.82 29.27,331.94 C29.77,321.06 30.35,312.46 30.98,306.91 C31.62,301.35 32.31,300.89 33.08,298.59 C33.85,296.29 34.72,294.35 35.62,293.13 C36.52,291.92 37.52,291.31 38.48,291.31 C39.43,291.31 40.12,292.18 41.34,293.13 C42.55,294.09 44.40,295.24 45.78,297.04 C47.16,298.84 48.32,302.09 49.59,303.94 C50.86,305.79 51.18,308.97 53.40,308.15 C55.62,307.33 59.75,301.96 62.92,299.00 C66.10,296.04 69.06,293.33 72.45,290.40 C75.84,287.47 80.07,281.10 83.25,281.43 C86.42,281.77 88.85,289.18 91.50,292.41 C94.15,295.65 96.69,297.29 99.12,300.83 C101.55,304.37 103.35,310.89 106.11,313.64 C108.86,316.38 112.24,314.25 115.63,317.30 C119.02,320.35 123.04,331.02 126.42,331.94 C129.81,332.86 132.77,325.84 135.95,322.79 C139.12,319.74 142.30,313.33 145.48,313.64 C148.65,313.94 153.41,322.79 155.00,324.62" fill="none" stroke="#e8323a" stroke-width="1.0" stroke-linejoin="round" stroke-linecap="round"/><path d="M28.00,372.20 C28.21,365.49 28.77,342.94 29.27,331.94 C29.77,320.94 30.35,311.95 30.98,306.17 C31.62,300.40 32.31,299.73 33.08,297.27 C33.85,294.82 34.72,292.73 35.62,291.43 C36.52,290.13 37.52,289.48 38.48,289.48 C39.43,289.48 40.12,290.48 41.34,291.43 C42.55,292.39 44.40,293.43 45.78,295.21 C47.16,296.99 48.32,300.26 49.59,302.11 C50.86,303.96 51.18,307.14 53.40,306.32 C55.62,305.50 59.75,300.19 62.92,297.17 C66.10,294.15 69.06,291.25 72.45,288.20 C75.84,285.15 80.07,278.60 83.25,278.87 C86.42,279.14 88.85,286.19 91.50,289.85 C94.15,293.51 96.69,296.99 99.12,300.83 C101.55,304.67 103.35,310.47 106.11,312.91 C108.86,315.35 112.24,312.60 115.63,315.47 C119.02,318.34 123.04,329.07 126.42,330.11 C129.81,331.15 132.77,324.13 135.95,321.69 C139.12,319.25 142.30,315.90 145.48,315.47 C148.65,315.04 153.41,318.52 155.00,319.13" fill="none" stroke="#e8323a" stroke-width="1.0" stroke-linejoin="round" stroke-linecap="round"/><path d="M28.00,372.20 C28.32,364.27 29.06,339.26 29.91,324.62 C30.75,309.98 31.92,293.39 33.08,284.36 C34.24,275.33 35.51,273.38 36.89,270.45 C38.27,267.52 39.85,266.30 41.34,266.79 C42.82,267.28 43.98,268.62 45.78,273.38 C47.58,278.14 49.91,288.63 52.13,295.34 C54.35,302.05 57.00,312.12 59.12,313.64 C61.23,315.16 62.61,310.59 64.83,304.49 C67.05,298.39 70.12,283.75 72.45,277.04 C74.78,270.33 76.89,266.98 78.80,264.23 C80.70,261.49 82.19,260.57 83.88,260.57 C85.57,260.57 87.06,260.88 88.96,264.23 C90.87,267.59 93.19,274.29 95.31,280.70 C97.43,287.11 99.75,296.93 101.66,302.66 C103.56,308.39 105.15,313.09 106.74,315.10 C108.33,317.12 109.60,315.10 111.19,314.74 C112.77,314.37 114.57,312.18 116.27,312.91 C117.96,313.64 119.65,317.18 121.34,319.13 C123.04,321.08 124.73,323.83 126.42,324.62 C128.12,325.41 129.92,324.50 131.50,323.89 C133.09,323.28 134.36,321.81 135.95,320.96 C137.54,320.11 139.34,318.64 141.03,318.76 C142.72,318.89 144.63,320.72 146.11,321.69 C147.59,322.67 148.44,325.35 149.92,324.62 C151.40,323.89 154.15,318.52 155.00,317.30" fill="none" stroke="#3a45a0" stroke-width="1.0" stroke-linejoin="round" stroke-linecap="round"/><line x1="28.0" y1="244.2" x2="28.0" y2="391.59999999999997" stroke="#333" stroke-width="0.8"/><line x1="27.6" y1="391.2" x2="155.5" y2="391.2" stroke="#333" stroke-width="0.8"/><line x1="28.0" y1="262.5" x2="30.0" y2="262.5" stroke="#333" stroke-width="0.85"/><line x1="28.0" y1="280.8" x2="30.0" y2="280.8" stroke="#333" stroke-width="0.85"/><line x1="28.0" y1="299.1" x2="30.0" y2="299.1" stroke="#333" stroke-width="0.85"/><line x1="28.0" y1="317.4" x2="30.0" y2="317.4" stroke="#333" stroke-width="0.85"/><line x1="28.0" y1="335.7" x2="30.0" y2="335.7" stroke="#333" stroke-width="0.85"/><line x1="28.0" y1="354.0" x2="30.0" y2="354.0" stroke="#333" stroke-width="0.85"/><line x1="28.0" y1="372.29999999999995" x2="30.0" y2="372.29999999999995" stroke="#333" stroke-width="0.85"/><line x1="40.7" y1="391.2" x2="40.7" y2="389.2" stroke="#333" stroke-width="0.85"/><line x1="53.4" y1="391.2" x2="53.4" y2="389.2" stroke="#333" stroke-width="0.85"/><line x1="66.1" y1="391.2" x2="66.1" y2="389.2" stroke="#333" stroke-width="0.85"/><line x1="78.8" y1="391.2" x2="78.8" y2="389.2" stroke="#333" stroke-width="0.85"/><line x1="91.5" y1="391.2" x2="91.5" y2="389.2" stroke="#333" stroke-width="0.85"/><line x1="104.19999999999999" y1="391.2" x2="104.19999999999999" y2="389.2" stroke="#333" stroke-width="0.85"/><line x1="116.89999999999999" y1="391.2" x2="116.89999999999999" y2="389.2" stroke="#333" stroke-width="0.85"/><line x1="129.6" y1="391.2" x2="129.6" y2="389.2" stroke="#333" stroke-width="0.85"/><line x1="142.3" y1="391.2" x2="142.3" y2="389.2" stroke="#333" stroke-width="0.85"/><line x1="155.0" y1="391.2" x2="155.0" y2="389.2" stroke="#333" stroke-width="0.85"/><text x="23.8" y="247.7" font-size="8.2" text-anchor="end" fill="#231f20">2</text><text x="23.8" y="320.3" font-size="8.2" text-anchor="end" fill="#231f20">0</text><text x="23.8" y="394.2" font-size="8.2" text-anchor="end" fill="#231f20">-2</text><text x="28.9" y="400.5" font-size="8.2" text-anchor="middle" fill="#231f20">0</text><text x="89.5" y="400.5" font-size="8.2" text-anchor="middle" fill="#231f20">100</text><text x="153.4" y="401.0" font-size="8.2" text-anchor="middle" fill="#231f20">200</text><text x="88.0" y="414.2" font-size="8.2" text-anchor="middle" fill="#231f20">Frequency (Hz)</text><text x="9.6" y="319.5" font-size="8.2" text-anchor="middle" fill="#231f20" transform="rotate(-90 9.6 319.5)">Corrected PSD</text><text x="121.0" y="252.8" font-size="8.2" text-anchor="middle" fill="#231f20">8/8 channels</text><text x="86.0" y="228.4" font-size="8.2" text-anchor="middle" font-weight="bold" fill="#231f20">ER20 microwire channels</text><text x="0.3" y="220.8" font-size="9" text-anchor="start" font-weight="bold" fill="#231f20">b</text><path d="M380.00,366.00 C380.16,359.70 380.64,339.58 380.96,328.20 C381.28,316.82 381.43,304.33 381.91,297.71 C382.39,291.09 382.98,290.85 383.82,288.47 C384.67,286.08 385.84,284.46 387.01,283.39 C388.18,282.31 389.67,281.69 390.84,282.00 C392.01,282.31 392.86,282.77 394.02,285.23 C395.19,287.70 396.63,292.39 397.85,296.78 C399.07,301.17 400.25,302.83 401.36,311.57 C402.46,320.30 403.15,345.38 404.48,349.20 C405.81,353.02 407.24,338.70 409.32,334.50 C411.41,330.30 414.43,326.31 416.98,324.00 C419.53,321.69 422.29,319.94 424.62,320.64 C426.96,321.34 428.34,327.64 431.00,328.20 C433.66,328.76 437.38,324.70 440.56,324.00 C443.75,323.30 446.41,323.65 450.12,324.00 C453.84,324.35 459.16,324.35 462.88,326.10 C466.59,327.85 469.46,331.00 472.44,334.50 C475.41,338.00 478.28,347.45 480.73,347.10 C483.17,346.75 485.19,336.95 487.10,332.40 C489.01,327.85 489.86,321.55 492.20,319.80 C494.54,318.05 498.57,321.34 501.12,321.90 C503.68,322.46 506.44,322.95 507.50,323.16" fill="none" stroke="#d9542e" stroke-width="1.0" stroke-linejoin="round" stroke-linecap="round"/><path d="M380.00,366.00 C380.16,359.70 380.64,338.43 380.96,328.20 C381.28,317.97 381.43,309.75 381.91,304.64 C382.39,299.52 382.98,299.34 383.82,297.50 C384.67,295.65 385.84,294.40 387.01,293.57 C388.18,292.74 389.67,292.26 390.84,292.50 C392.01,292.74 392.86,293.09 394.02,295.00 C395.19,296.90 396.63,300.53 397.85,303.92 C399.07,307.32 400.29,311.65 401.36,315.35 C402.42,319.04 402.47,324.80 404.23,326.10 C405.98,327.40 409.01,323.51 411.88,323.16 C414.74,322.81 418.25,324.21 421.44,324.00 C424.62,323.79 428.34,322.60 431.00,321.90 C433.66,321.20 434.19,319.80 437.38,319.80 C440.56,319.80 446.41,321.06 450.12,321.90 C453.84,322.74 456.50,323.44 459.69,324.84 C462.88,326.24 466.06,328.69 469.25,330.30 C472.44,331.91 475.09,334.85 478.81,334.50 C482.53,334.15 487.84,329.95 491.56,328.20 C495.28,326.45 498.47,324.35 501.12,324.00 C503.78,323.65 506.44,325.75 507.50,326.10" fill="none" stroke="#f4a0a3" stroke-width="0.9" stroke-linejoin="round" stroke-linecap="round"/><path d="M380.00,366.00 C380.16,359.70 380.64,338.84 380.96,328.20 C381.28,317.56 381.43,307.80 381.91,302.14 C382.39,296.48 382.98,296.29 383.82,294.25 C384.67,292.21 385.84,290.83 387.01,289.90 C388.18,288.98 389.67,288.46 390.84,288.72 C392.01,288.98 392.86,289.38 394.02,291.48 C395.19,293.59 396.63,297.60 397.85,301.35 C399.07,305.10 400.29,310.21 401.36,313.99 C402.42,317.76 402.47,323.03 404.23,324.00 C405.98,324.97 409.32,321.90 411.88,319.80 C414.43,317.70 416.34,315.67 419.52,311.40 C422.71,307.13 427.60,296.28 431.00,294.18 C434.40,292.08 436.95,295.93 439.93,298.80 C442.90,301.67 445.88,307.55 448.85,311.40 C451.83,315.25 454.91,319.80 457.77,321.90 C460.64,324.00 463.09,322.25 466.06,324.00 C469.04,325.75 472.12,332.05 475.62,332.40 C479.13,332.75 483.38,328.90 487.10,326.10 C490.82,323.30 494.54,318.40 497.94,315.60 C501.34,312.80 505.91,310.35 507.50,309.30" fill="none" stroke="#f4a0a3" stroke-width="0.9" stroke-linejoin="round" stroke-linecap="round"/><path d="M380.00,366.00 C380.16,359.70 380.64,340.04 380.96,328.20 C381.28,316.36 381.43,302.16 381.91,294.94 C382.39,287.71 382.98,287.46 383.82,284.86 C384.67,282.25 385.84,280.49 387.01,279.31 C388.18,278.14 389.67,277.46 390.84,277.80 C392.01,278.14 392.86,278.64 394.02,281.33 C395.19,284.02 396.63,289.14 397.85,293.93 C399.07,298.72 400.29,305.39 401.36,310.06 C402.42,314.72 402.26,318.53 404.23,321.90 C406.19,325.27 410.39,329.95 413.15,330.30 C415.91,330.65 417.82,328.20 420.80,324.00 C423.78,319.80 427.81,307.90 431.00,305.10 C434.19,302.30 436.95,305.45 439.93,307.20 C442.90,308.95 445.88,312.45 448.85,315.60 C451.83,318.75 454.16,322.25 457.77,326.10 C461.39,329.95 466.49,335.90 470.52,338.70 C474.56,341.50 478.18,345.70 482.00,342.90 C485.82,340.10 490.08,326.10 493.48,321.90 C496.88,317.70 500.06,317.35 502.40,317.70 C504.74,318.05 506.65,322.95 507.50,324.00" fill="none" stroke="#f07c80" stroke-width="0.8" stroke-linejoin="round" stroke-linecap="round"/><path d="M380.00,366.00 C380.16,359.70 380.64,340.41 380.96,328.20 C381.28,315.99 381.43,300.42 381.91,292.72 C382.39,285.01 382.98,284.74 383.82,281.97 C384.67,279.19 385.84,277.31 387.01,276.05 C388.18,274.80 389.67,274.08 390.84,274.44 C392.01,274.80 392.86,275.34 394.02,278.20 C395.19,281.07 396.63,286.54 397.85,291.64 C399.07,296.75 400.29,303.10 401.36,308.85 C402.42,314.59 402.26,323.57 404.23,326.10 C406.19,328.63 410.17,325.05 413.15,324.00 C416.12,322.95 418.78,319.45 422.07,319.80 C425.37,320.15 429.51,325.75 432.91,326.10 C436.31,326.45 439.08,321.90 442.48,321.90 C445.88,321.90 449.70,325.05 453.31,326.10 C456.93,327.15 460.96,325.75 464.15,328.20 C467.34,330.65 468.93,340.45 472.44,340.80 C475.94,341.15 480.94,333.10 485.19,330.30 C489.44,327.50 494.22,323.65 497.94,324.00 C501.66,324.35 505.91,331.00 507.50,332.40" fill="none" stroke="#ec5056" stroke-width="0.9" stroke-linejoin="round" stroke-linecap="round"/><path d="M380.00,366.00 C380.16,359.70 380.64,340.74 380.96,328.20 C381.28,315.66 381.43,298.90 381.91,290.78 C382.39,282.65 382.98,282.37 383.82,279.44 C384.67,276.51 385.84,274.52 387.01,273.20 C388.18,271.88 389.67,271.12 390.84,271.50 C392.01,271.88 392.86,272.44 394.02,275.47 C395.19,278.49 396.63,284.26 397.85,289.64 C399.07,295.03 400.29,303.11 401.36,307.79 C402.42,312.46 402.47,315.35 404.23,317.70 C405.98,320.05 409.01,321.55 411.88,321.90 C414.74,322.25 418.04,319.59 421.44,319.80 C424.84,320.01 428.98,322.81 432.27,323.16 C435.57,323.51 438.22,321.76 441.20,321.90 C444.18,322.04 447.04,323.30 450.12,324.00 C453.21,324.70 456.50,324.00 459.69,326.10 C462.88,328.20 466.38,333.80 469.25,336.60 C472.12,339.40 473.71,345.00 476.90,342.90 C480.09,340.80 484.87,327.85 488.38,324.00 C491.88,320.15 494.75,317.70 497.94,319.80 C501.12,321.90 505.91,333.80 507.50,336.60" fill="none" stroke="#ea4046" stroke-width="1.0" stroke-linejoin="round" stroke-linecap="round"/><path d="M380.00,366.00 C380.16,359.70 380.64,341.06 380.96,328.20 C381.28,315.34 381.43,297.39 381.91,288.84 C382.39,280.29 382.98,279.99 383.82,276.91 C384.67,273.83 385.84,271.74 387.01,270.35 C388.18,268.96 389.67,268.16 390.84,268.56 C392.01,268.96 392.86,269.55 394.02,272.73 C395.19,275.92 396.63,281.98 397.85,287.64 C399.07,293.31 400.29,300.67 401.36,306.73 C402.42,312.79 402.47,320.07 404.23,324.00 C405.98,327.93 409.32,328.20 411.88,330.30 C414.43,332.40 417.19,338.35 419.52,336.60 C421.86,334.85 423.56,325.47 425.90,319.80 C428.24,314.13 431.00,304.68 433.55,302.58 C436.10,300.48 438.65,304.68 441.20,307.20 C443.75,309.72 446.09,314.55 448.85,317.70 C451.61,320.85 454.91,323.65 457.77,326.10 C460.64,328.55 463.09,328.20 466.06,332.40 C469.04,336.60 472.44,351.30 475.62,351.30 C478.81,351.30 482.00,338.35 485.19,332.40 C488.38,326.45 491.03,319.80 494.75,315.60 C498.47,311.40 505.38,308.60 507.50,307.20" fill="none" stroke="#e8323a" stroke-width="1.0" stroke-linejoin="round" stroke-linecap="round"/><path d="M380.00,366.00 C380.16,359.70 380.64,341.34 380.96,328.20 C381.28,315.06 381.43,296.08 381.91,287.17 C382.39,278.26 382.98,277.95 383.82,274.74 C384.67,271.53 385.84,269.36 387.01,267.90 C388.18,266.45 389.67,265.63 390.84,266.04 C392.01,266.45 392.86,267.08 394.02,270.39 C395.19,273.71 396.63,280.03 397.85,285.93 C399.07,291.84 400.29,300.18 401.36,305.82 C402.42,311.47 402.68,316.07 404.23,319.80 C405.77,323.53 408.26,325.75 410.60,328.20 C412.94,330.65 415.91,336.25 418.25,334.50 C420.59,332.75 422.29,323.44 424.62,317.70 C426.96,311.96 429.72,302.16 432.27,300.06 C434.82,297.96 437.38,302.51 439.93,305.10 C442.48,307.69 444.81,312.10 447.57,315.60 C450.34,319.10 453.42,323.30 456.50,326.10 C459.58,328.90 463.09,328.55 466.06,332.40 C469.04,336.25 471.69,347.80 474.35,349.20 C477.01,350.60 479.13,345.70 482.00,340.80 C484.87,335.90 488.38,324.35 491.56,319.80 C494.75,315.25 498.47,314.20 501.12,313.50 C503.78,312.80 506.44,315.25 507.50,315.60" fill="none" stroke="#e8323a" stroke-width="1.0" stroke-linejoin="round" stroke-linecap="round"/><path d="M380.00,387.00 C380.16,381.40 380.64,364.11 380.96,353.40 C381.28,342.69 381.43,330.44 381.91,322.74 C382.39,315.04 383.08,311.33 383.82,307.20 C384.57,303.07 385.52,300.20 386.38,297.96 C387.23,295.72 388.07,294.74 388.93,293.76 C389.78,292.78 390.41,291.59 391.48,292.08 C392.54,292.57 394.03,294.53 395.30,296.70 C396.57,298.87 397.85,302.30 399.12,305.10 C400.40,307.90 401.68,311.40 402.95,313.50 C404.22,315.60 405.29,317.56 406.77,317.70 C408.26,317.84 409.96,316.79 411.88,314.34 C413.79,311.89 416.12,307.34 418.25,303.00 C420.38,298.66 422.67,291.73 424.62,288.30 C426.58,284.87 428.07,282.63 429.98,282.42 C431.89,282.21 433.81,283.96 436.10,287.04 C438.40,290.12 441.20,296.14 443.75,300.90 C446.30,305.66 448.85,311.75 451.40,315.60 C453.95,319.45 456.50,320.50 459.05,324.00 C461.60,327.50 464.26,332.75 466.70,336.60 C469.14,340.45 471.38,347.10 473.71,347.10 C476.05,347.10 478.49,339.75 480.73,336.60 C482.96,333.45 485.19,329.39 487.10,328.20 C489.01,327.01 490.61,328.97 492.20,329.46 C493.79,329.95 495.07,331.70 496.66,331.14 C498.26,330.58 500.17,327.71 501.76,326.10 C503.36,324.49 505.27,322.39 506.23,321.48 C507.18,320.57 507.29,320.78 507.50,320.64" fill="none" stroke="#3a45a0" stroke-width="1.0" stroke-linejoin="round" stroke-linecap="round"/><line x1="380.2" y1="244.2" x2="380.2" y2="391.59999999999997" stroke="#333" stroke-width="0.8"/><line x1="379.8" y1="391.2" x2="507.8" y2="391.2" stroke="#333" stroke-width="0.8"/><line x1="380.2" y1="265.2" x2="382.2" y2="265.2" stroke="#333" stroke-width="0.85"/><line x1="380.2" y1="286.2" x2="382.2" y2="286.2" stroke="#333" stroke-width="0.85"/><line x1="380.2" y1="307.2" x2="382.2" y2="307.2" stroke="#333" stroke-width="0.85"/><line x1="380.2" y1="328.2" x2="382.2" y2="328.2" stroke="#333" stroke-width="0.85"/><line x1="380.2" y1="349.2" x2="382.2" y2="349.2" stroke="#333" stroke-width="0.85"/><line x1="380.2" y1="370.2" x2="382.2" y2="370.2" stroke="#333" stroke-width="0.85"/><line x1="392.95" y1="391.2" x2="392.95" y2="389.2" stroke="#333" stroke-width="0.85"/><line x1="405.7" y1="391.2" x2="405.7" y2="389.2" stroke="#333" stroke-width="0.85"/><line x1="418.45" y1="391.2" x2="418.45" y2="389.2" stroke="#333" stroke-width="0.85"/><line x1="431.2" y1="391.2" x2="431.2" y2="389.2" stroke="#333" stroke-width="0.85"/><line x1="443.95" y1="391.2" x2="443.95" y2="389.2" stroke="#333" stroke-width="0.85"/><line x1="456.7" y1="391.2" x2="456.7" y2="389.2" stroke="#333" stroke-width="0.85"/><line x1="469.45" y1="391.2" x2="469.45" y2="389.2" stroke="#333" stroke-width="0.85"/><line x1="482.2" y1="391.2" x2="482.2" y2="389.2" stroke="#333" stroke-width="0.85"/><line x1="494.95" y1="391.2" x2="494.95" y2="389.2" stroke="#333" stroke-width="0.85"/><line x1="507.7" y1="391.2" x2="507.7" y2="389.2" stroke="#333" stroke-width="0.85"/><text x="375.6" y="247.1" font-size="8.2" text-anchor="end" fill="#231f20">2</text><text x="375.6" y="289.1" font-size="8.2" text-anchor="end" fill="#231f20">1</text><text x="375.6" y="331.1" font-size="8.2" text-anchor="end" fill="#231f20">0</text><text x="375.6" y="372.9" font-size="8.2" text-anchor="end" fill="#231f20">-1</text><text x="379.5" y="400.5" font-size="8.2" text-anchor="middle" fill="#231f20">0</text><text x="441.3" y="400.5" font-size="8.2" text-anchor="middle" fill="#231f20">100</text><text x="504.5" y="400.5" font-size="8.2" text-anchor="middle" fill="#231f20">200</text><text x="441.4" y="414.2" font-size="8.2" text-anchor="middle" fill="#231f20">Frequency (Hz)</text><text x="359.3" y="319.6" font-size="8.2" text-anchor="middle" fill="#231f20" transform="rotate(-90 359.3 319.6)">Corrected PSD</text><text x="472.9" y="252.8" font-size="8.2" text-anchor="middle" fill="#231f20">4/8 channels</text><text x="441.8" y="228.4" font-size="8.2" text-anchor="middle" font-weight="bold" fill="#231f20">ER14 microwire channels</text><text x="347.7" y="220.8" font-size="9" text-anchor="start" font-weight="bold" fill="#231f20">g</text><polyline points="212.57,296.25 212.57,296.16 218.99,296.16 218.99,295.35 225.40,295.35 225.40,294.81 231.81,294.81 231.81,294.45 238.22,294.45 238.22,294.45 244.64,294.45 244.64,295.35 251.05,295.35 251.05,295.89 257.46,295.89 257.46,296.16 263.88,296.16 263.88,296.25 270.29,296.25 270.29,296.25 276.70,296.25 276.70,295.71 283.11,295.71 283.11,296.25" fill="none" stroke="#63c3ee" stroke-width="0.9" stroke-linejoin="miter"/><polyline points="212.57,296.25 212.57,296.07 218.99,296.07 218.99,295.71 225.40,295.71 225.40,295.35 231.81,295.35 231.81,294.99 238.22,294.99 238.22,295.17 244.64,295.17 244.64,295.71 251.05,295.71 251.05,296.07 257.46,296.07 257.46,296.16 263.88,296.16 263.88,296.25" fill="none" stroke="#2f8fcf" stroke-width="0.9" stroke-linejoin="miter"/><polyline points="212.57,296.25 212.57,296.07 218.99,296.07 218.99,294.01 225.40,294.01 225.40,293.92 231.81,293.92 231.81,292.30 238.22,292.30 238.22,291.04 244.64,291.04 244.64,295.53 251.05,295.53 251.05,296.07 257.46,296.07 257.46,296.16 263.88,296.16 263.88,296.25" fill="none" stroke="#4453a6" stroke-width="0.9" stroke-linejoin="miter"/><polyline points="212.57,296.25 212.57,295.71 218.99,295.71 218.99,293.20 225.40,293.20 225.40,270.94 231.81,270.94 231.81,240.25 238.22,240.25 238.22,243.30 244.64,243.30 244.64,271.30 251.05,271.30 251.05,290.33 257.46,290.33 257.46,295.89 263.88,295.89 263.88,296.25 270.29,296.25 270.29,296.25 276.70,296.25 276.70,296.25 283.11,296.25 283.11,296.25 289.52,296.25 289.52,295.35 295.94,295.35 295.94,295.89 302.35,295.89 302.35,296.25" fill="none" stroke="#a23ca3" stroke-width="1.0" stroke-linejoin="miter"/><line x1="199.75" y1="233.3" x2="199.75" y2="296.65" stroke="#333" stroke-width="0.8"/><line x1="199.35" y1="296.25" x2="328.0" y2="296.25" stroke="#333" stroke-width="0.8"/><line x1="199.75" y1="242.4" x2="201.75" y2="242.4" stroke="#333" stroke-width="0.85"/><line x1="199.75" y1="260.35" x2="201.75" y2="260.35" stroke="#333" stroke-width="0.85"/><line x1="199.75" y1="278.3" x2="201.75" y2="278.3" stroke="#333" stroke-width="0.85"/><line x1="263.875" y1="296.25" x2="263.875" y2="294.25" stroke="#333" stroke-width="0.85"/><text x="197.0" y="244.0" font-size="8.2" text-anchor="end" fill="#231f20">300</text><text x="197.0" y="272.2" font-size="8.2" text-anchor="end" fill="#231f20">200</text><text x="197.2" y="302.1" font-size="8.2" text-anchor="end" fill="#231f20">0</text><text x="199.0" y="310.4" font-size="8.2" text-anchor="middle" fill="#231f20">50</text><text x="265.2" y="310.4" font-size="8.2" text-anchor="middle" fill="#231f20">100</text><text x="327.2" y="310.4" font-size="8.2" text-anchor="middle" fill="#231f20">150</text><text x="256.9" y="319.6" font-size="8.2" text-anchor="middle" fill="#231f20">Frequency (Hz)</text><text x="178.1" y="266.0" font-size="8.2" text-anchor="middle" fill="#231f20" transform="rotate(-90 178.1 266.0)">Macro-Ripple #</text><text x="171.6" y="220.8" font-size="9" text-anchor="start" font-weight="bold" fill="#231f20">e</text><polyline points="212.57,390.75 212.57,390.44 218.99,390.44 218.99,390.44 225.40,390.44 225.40,390.44 231.81,390.44 231.81,390.13 238.22,390.13 238.22,390.13 244.64,390.13 244.64,390.13 251.05,390.13 251.05,389.82 257.46,389.82 257.46,389.51 263.88,389.51 263.88,389.51 270.29,389.51 270.29,389.19 276.70,389.19 276.70,389.19 283.11,389.19 283.11,389.51 289.52,389.51 289.52,389.82 295.94,389.82 295.94,390.13 302.35,390.13 302.35,390.44 308.76,390.44 308.76,390.59 315.18,390.59 315.18,390.75" fill="none" stroke="#63c3ee" stroke-width="0.9" stroke-linejoin="miter"/><polyline points="212.57,390.75 212.57,390.13 218.99,390.13 218.99,390.13 225.40,390.13 225.40,390.44 231.81,390.44 231.81,390.44 238.22,390.44 238.22,390.13 244.64,390.13 244.64,390.13 251.05,390.13 251.05,389.82 257.46,389.82 257.46,389.51 263.88,389.51 263.88,389.19 270.29,389.19 270.29,389.19 276.70,389.19 276.70,389.19 283.11,389.19 283.11,389.51 289.52,389.51 289.52,389.82 295.94,389.82 295.94,390.13 302.35,390.13 302.35,390.44 308.76,390.44 308.76,390.75" fill="none" stroke="#2f8fcf" stroke-width="0.9" stroke-linejoin="miter"/><polyline points="212.57,390.75 212.57,389.19 218.99,389.19 218.99,388.88 225.40,388.88 225.40,389.66 231.81,389.66 231.81,389.66 238.22,389.66 238.22,389.66 244.64,389.66 244.64,389.66 251.05,389.66 251.05,389.66 257.46,389.66 257.46,388.26 263.88,388.26 263.88,387.20 270.29,387.20 270.29,387.20 276.70,387.20 276.70,387.20 283.11,387.20 283.11,387.20 289.52,387.20 289.52,388.26 295.94,388.26 295.94,388.26 302.35,388.26 302.35,389.66 308.76,389.66 308.76,390.44 315.18,390.44 315.18,390.75" fill="none" stroke="#4453a6" stroke-width="0.9" stroke-linejoin="miter"/><polyline points="199.75,390.75 199.75,390.13 206.16,390.13 206.16,387.02 212.57,387.02 212.57,388.88 218.99,388.88 218.99,389.51 225.40,389.51 225.40,387.64 231.81,387.64 231.81,384.53 238.22,384.53 238.22,378.31 244.64,378.31 244.64,371.47 251.05,371.47 251.05,360.89 257.46,360.89 257.46,351.88 263.88,351.88 263.88,344.10 270.29,344.10 270.29,342.55 276.70,342.55 276.70,350.63 283.11,350.63 283.11,362.14 289.52,362.14 289.52,379.87 295.94,379.87 295.94,385.77 302.35,385.77 302.35,388.88 308.76,388.88 308.76,390.13 315.18,390.13 315.18,390.59 321.59,390.59 321.59,390.75" fill="none" stroke="#a23ca3" stroke-width="1.0" stroke-linejoin="miter"/><line x1="199.75" y1="328.3" x2="199.75" y2="391.15" stroke="#333" stroke-width="0.8"/><line x1="199.35" y1="390.75" x2="328.0" y2="390.75" stroke="#333" stroke-width="0.8"/><line x1="199.75" y1="359.65" x2="201.75" y2="359.65" stroke="#333" stroke-width="0.85"/><line x1="199.75" y1="328.55" x2="201.75" y2="328.55" stroke="#333" stroke-width="0.85"/><line x1="263.875" y1="390.75" x2="263.875" y2="388.75" stroke="#333" stroke-width="0.85"/><text x="197.0" y="331.6" font-size="8.2" text-anchor="end" fill="#231f20">200</text><text x="197.0" y="362.3" font-size="8.2" text-anchor="end" fill="#231f20">100</text><text x="197.2" y="393.1" font-size="8.2" text-anchor="end" fill="#231f20">0</text><text x="199.0" y="402.4" font-size="8.2" text-anchor="middle" fill="#231f20">0</text><text x="262.8" y="402.4" font-size="8.2" text-anchor="middle" fill="#231f20">1</text><text x="327.2" y="402.4" font-size="8.2" text-anchor="middle" fill="#231f20">2</text><text x="261.3" y="413.5" font-size="8.2" text-anchor="middle" fill="#231f20">Amplitude</text><text x="178.1" y="361.0" font-size="8.2" text-anchor="middle" fill="#231f20" transform="rotate(-90 178.1 361.0)">Macro-Ripple #</text><polyline points="565.70,296.90 565.70,291.98 572.05,291.98 572.05,280.91 578.40,280.91 578.40,268.92 584.75,268.92 584.75,244.01 591.10,244.01 591.10,240.63 597.45,240.63 597.45,258.46 603.80,258.46 603.80,279.06 610.15,279.06 610.15,295.36 616.50,295.36 616.50,296.28 622.85,296.28 622.85,296.59 629.20,296.59 629.20,296.75 635.55,296.75 635.55,296.90" fill="none" stroke="#4cb8ea" stroke-width="1.0" stroke-linejoin="miter"/><polyline points="565.70,296.90 565.70,292.90 572.05,292.90 572.05,281.83 578.40,281.83 578.40,267.38 584.75,267.38 584.75,241.86 591.10,241.86 591.10,239.40 597.45,239.40 597.45,248.93 603.80,248.93 603.80,276.30 610.15,276.30 610.15,294.75 616.50,294.75 616.50,295.98 622.85,295.98 622.85,296.28 629.20,296.28 629.20,296.59 635.55,296.59 635.55,296.75 641.90,296.75 641.90,296.75 648.25,296.75 648.25,296.90" fill="none" stroke="#3a46a0" stroke-width="1.0" stroke-linejoin="miter"/><polyline points="565.70,296.90 565.70,296.28 572.05,296.28 572.05,288.90 578.40,288.90 578.40,269.84 584.75,269.84 584.75,266.46 591.10,266.46 591.10,257.85 597.45,257.85 597.45,269.22 603.80,269.22 603.80,287.06 610.15,287.06 610.15,296.59 616.50,296.59 616.50,296.75 622.85,296.75 622.85,296.90" fill="none" stroke="#a23ca3" stroke-width="1.0" stroke-linejoin="miter"/><line x1="553.0" y1="233.0" x2="553.0" y2="297.29999999999995" stroke="#333" stroke-width="0.8"/><line x1="552.6" y1="296.9" x2="680.0" y2="296.9" stroke="#333" stroke-width="0.8"/><line x1="553.0" y1="266.15" x2="555.0" y2="266.15" stroke="#333" stroke-width="0.85"/><line x1="553.0" y1="235.39999999999998" x2="555.0" y2="235.39999999999998" stroke="#333" stroke-width="0.85"/><line x1="616.5" y1="296.9" x2="616.5" y2="294.9" stroke="#333" stroke-width="0.85"/><text x="549.4" y="249.3" font-size="8.2" text-anchor="end" fill="#231f20">200</text><text x="549.4" y="275.9" font-size="8.2" text-anchor="end" fill="#231f20">100</text><text x="549.7" y="301.9" font-size="8.2" text-anchor="end" fill="#231f20">0</text><text x="553.0" y="310.4" font-size="8.2" text-anchor="middle" fill="#231f20">50</text><text x="617.5" y="310.4" font-size="8.2" text-anchor="middle" fill="#231f20">100</text><text x="679.3" y="310.4" font-size="8.2" text-anchor="middle" fill="#231f20">150</text><text x="612.5" y="319.6" font-size="8.2" text-anchor="middle" fill="#231f20">Frequency (Hz)</text><text x="530.8" y="268.5" font-size="8.2" text-anchor="middle" fill="#231f20" transform="rotate(-90 530.8 268.5)">Macro-Ripple #</text><text x="523.4" y="220.8" font-size="9" text-anchor="start" font-weight="bold" fill="#231f20">j</text><polyline points="557.23,392.00 557.23,391.79 561.47,391.79 561.47,391.79 565.70,391.79 565.70,391.62 569.93,391.62 569.93,390.93 574.17,390.93 574.17,390.46 578.40,390.46 578.40,389.65 582.63,389.65 582.63,387.31 586.87,387.31 586.87,384.66 591.10,384.66 591.10,384.20 595.33,384.20 595.33,374.77 599.57,374.77 599.57,369.31 603.80,369.31 603.80,354.38 608.03,354.38 608.03,353.27 612.27,353.27 612.27,346.54 616.50,346.54 616.50,341.37 620.73,341.37 620.73,358.65 624.97,358.65 624.97,366.15 629.20,366.15 629.20,377.93 633.43,377.93 633.43,387.31 637.67,387.31 637.67,391.23 641.90,391.23 641.90,391.57 646.13,391.57 646.13,391.79 650.37,391.79 650.37,392.00" fill="none" stroke="#4cb8ea" stroke-width="1.0" stroke-linejoin="miter"/><polyline points="557.23,392.00 557.23,391.79 561.47,391.79 561.47,391.79 565.70,391.79 565.70,390.46 569.93,390.46 569.93,389.36 574.17,389.36 574.17,390.93 578.40,390.93 578.40,389.65 582.63,389.65 582.63,388.42 586.87,388.42 586.87,384.20 591.10,384.20 591.10,383.38 595.33,383.38 595.33,373.23 599.57,373.23 599.57,363.85 603.80,363.85 603.80,354.47 608.03,354.47 608.03,353.62 612.27,353.62 612.27,346.54 616.50,346.54 616.50,354.47 620.73,354.47 620.73,363.85 624.97,363.85 624.97,374.94 629.20,374.94 629.20,380.23 633.43,380.23 633.43,384.32 637.67,384.32 637.67,390.46 641.90,390.46 641.90,391.23 646.13,391.23 646.13,391.79 650.37,391.79 650.37,392.00" fill="none" stroke="#3a46a0" stroke-width="1.0" stroke-linejoin="miter"/><polyline points="561.47,392.00 561.47,391.87 565.70,391.87 565.70,391.70 569.93,391.70 569.93,391.23 574.17,391.23 574.17,390.76 578.40,390.76 578.40,390.46 582.63,390.46 582.63,388.89 586.87,388.89 586.87,387.78 591.10,387.78 591.10,384.20 595.33,384.20 595.33,383.73 599.57,383.73 599.57,369.61 603.80,369.61 603.80,371.66 608.03,371.66 608.03,363.34 612.27,363.34 612.27,363.00 616.50,363.00 616.50,363.34 620.73,363.34 620.73,366.15 624.97,366.15 624.97,374.00 629.20,374.00 629.20,384.20 633.43,384.20 633.43,384.20 637.67,384.20 637.67,390.46 641.90,390.46 641.90,391.23 646.13,391.23 646.13,391.79 650.37,391.79 650.37,392.00" fill="none" stroke="#a23ca3" stroke-width="1.0" stroke-linejoin="miter"/><line x1="553.0" y1="328.3" x2="553.0" y2="392.4" stroke="#333" stroke-width="0.8"/><line x1="552.6" y1="392.0" x2="680.0" y2="392.0" stroke="#333" stroke-width="0.8"/><line x1="553.0" y1="370.675" x2="555.0" y2="370.675" stroke="#333" stroke-width="0.85"/><line x1="553.0" y1="349.35" x2="555.0" y2="349.35" stroke="#333" stroke-width="0.85"/><line x1="616.5" y1="392.0" x2="616.5" y2="390.0" stroke="#333" stroke-width="0.85"/><text x="548.6" y="331.2" font-size="8.2" text-anchor="end" fill="#231f20">150</text><text x="548.6" y="352.6" font-size="8.2" text-anchor="end" fill="#231f20">100</text><text x="548.6" y="373.7" font-size="8.2" text-anchor="end" fill="#231f20">50</text><text x="549.2" y="394.6" font-size="8.2" text-anchor="end" fill="#231f20">0</text><text x="553.0" y="402.4" font-size="8.2" text-anchor="middle" fill="#231f20">0</text><text x="617.5" y="402.4" font-size="8.2" text-anchor="middle" fill="#231f20">1</text><text x="681.0" y="402.4" font-size="8.2" text-anchor="middle" fill="#231f20">2</text><text x="617.4" y="413.5" font-size="8.2" text-anchor="middle" fill="#231f20">Amplitude</text><text x="530.8" y="360.2" font-size="8.2" text-anchor="middle" fill="#231f20" transform="rotate(-90 530.8 360.2)">Macro-Ripple #</text></g></svg></body></html>
